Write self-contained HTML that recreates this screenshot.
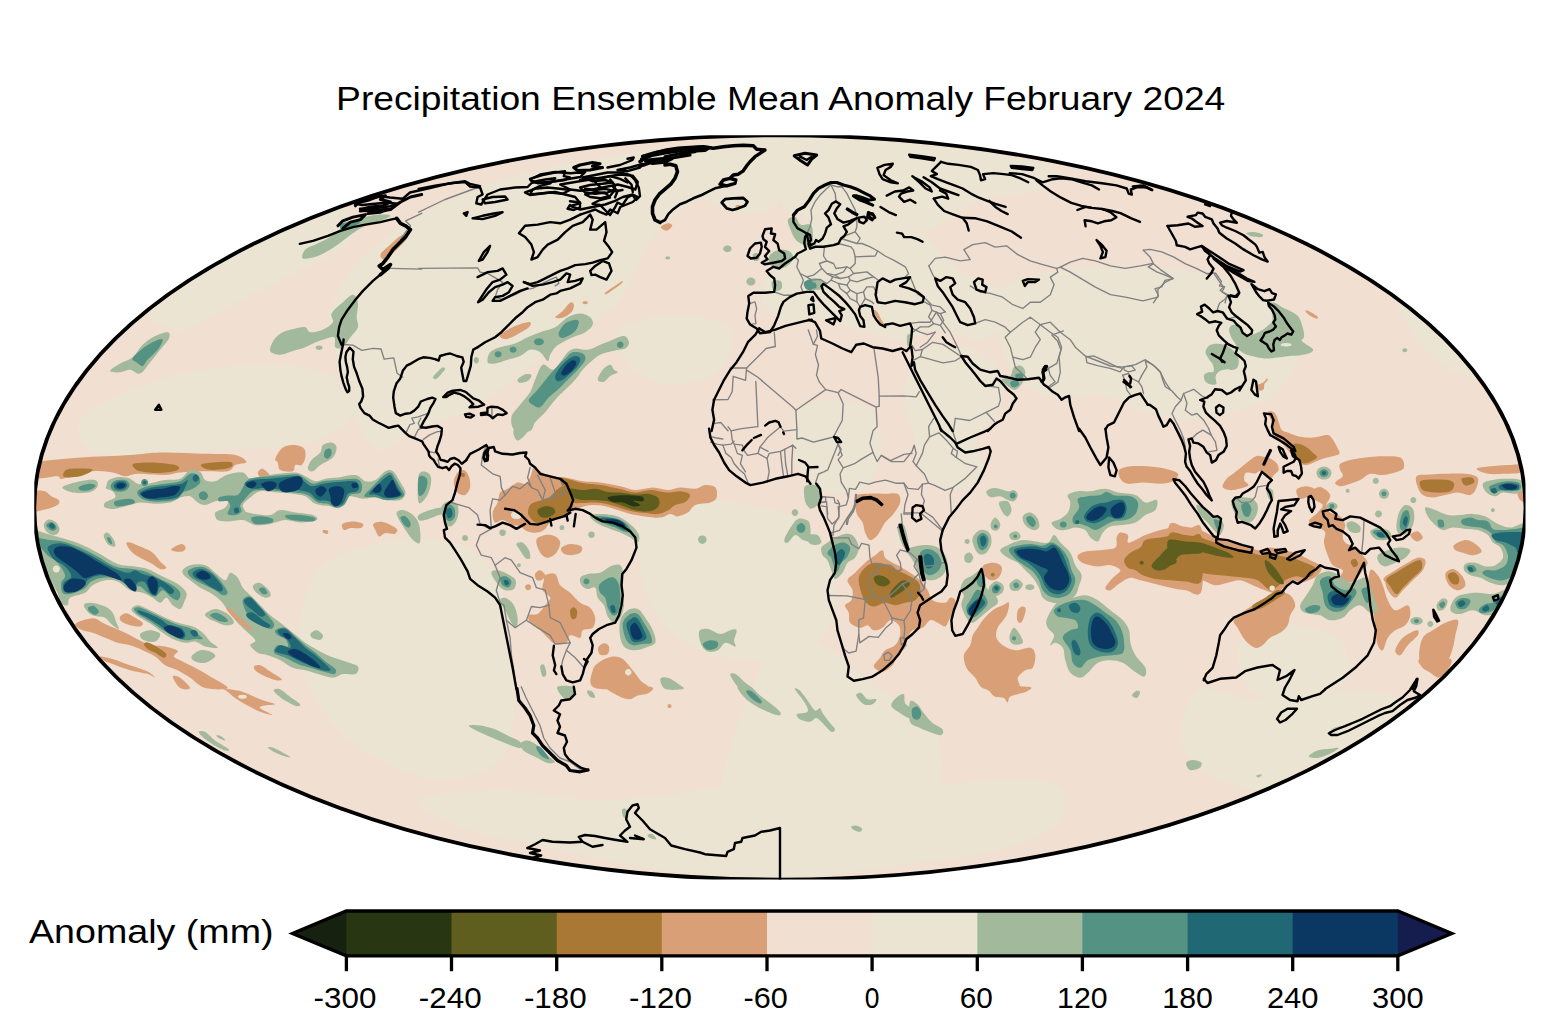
<!DOCTYPE html>
<html lang="en"><head><meta charset="utf-8"><title>Precipitation Ensemble Mean Anomaly February 2024</title>
<style>html,body{margin:0;padding:0;background:#fff;}svg{display:block}text{font-family:"Liberation Sans",sans-serif;fill:#000}</style></head><body>
<svg width="1560" height="1031" viewBox="0 0 1560 1031">
<rect width="1560" height="1031" fill="#fff"/>
<defs><clipPath id="globe"><ellipse cx="779.9" cy="507.45" rx="745.6" ry="372.15"/></clipPath></defs>
<g clip-path="url(#globe)">
<rect x="0" y="100" width="1560" height="800" fill="#f1dfd1"/>
<g fill="#ebe4d2">
<path d="M330 310C334.2 295 345 275.8 360 260C375 244.2 396.7 228.3 420 215C443.3 201.7 470 189.5 500 180C530 170.5 566.7 163.8 600 158C633.3 152.2 670 148.3 700 145C730 141.7 766.7 128.8 780 138C793.3 147.2 786.7 187.2 780 200C773.3 212.8 753.3 215 740 215C726.7 215 713.3 197.5 700 200C686.7 202.5 670 220 660 230C650 240 646.7 248.3 640 260C633.3 271.7 630 288.3 620 300C610 311.7 593.3 320 580 330C566.7 340 553.3 350 540 360C526.7 370 511.7 381.7 500 390C488.3 398.3 481.7 404.2 470 410C458.3 415.8 441.7 420 430 425C418.3 430 408.3 435.8 400 440C391.7 444.2 386.7 451.7 380 450C373.3 448.3 365.8 440 360 430C354.2 420 349.2 403.3 345 390C340.8 376.7 337.5 363.3 335 350C332.5 336.7 325.8 325 330 310Z"/>
<path d="M80 420C86.7 410 110 398.3 130 390C150 381.7 175 374.2 200 370C225 365.8 256.7 363.3 280 365C303.3 366.7 328.3 370.8 340 380C351.7 389.2 356.7 409.2 350 420C343.3 430.8 321.7 440 300 445C278.3 450 246.7 448.3 220 450C193.3 451.7 161.7 455 140 455C118.3 455 100 455.8 90 450C80 444.2 73.3 430 80 420Z"/>
<path d="M140 300C143.3 286.7 176.7 264.2 200 250C223.3 235.8 256.7 223.3 280 215C303.3 206.7 328.3 195.8 340 200C351.7 204.2 356.7 228.3 350 240C343.3 251.7 318.3 260 300 270C281.7 280 260 290 240 300C220 310 196.7 330 180 330C163.3 330 136.7 313.3 140 300Z"/>
<path d="M620 330C628.3 321.7 661.7 315 680 315C698.3 315 723.3 320.8 730 330C736.7 339.2 730 360.8 720 370C710 379.2 685 385.8 670 385C655 384.2 638.3 374.2 630 365C621.7 355.8 611.7 338.3 620 330Z"/>
<path d="M760 290C761.7 278.3 780 265 790 250C800 235 808.3 211.7 820 200C831.7 188.3 846.7 180 860 180C873.3 180 888.3 190 900 200C911.7 210 920 228.3 930 240C940 251.7 948.3 261.7 960 270C971.7 278.3 991.7 281.7 1000 290C1008.3 298.3 1013.3 311.7 1010 320C1006.7 328.3 991.7 338.3 980 340C968.3 341.7 953.3 330 940 330C926.7 330 913.3 340 900 340C886.7 340 873.3 333.3 860 330C846.7 326.7 833.3 321.7 820 320C806.7 318.3 790 325 780 320C770 315 758.3 301.7 760 290Z"/>
<path d="M1000 290C1010 278.3 1040 274.2 1060 270C1080 265.8 1100 265 1120 265C1140 265 1160 266.7 1180 270C1200 273.3 1221.7 278.3 1240 285C1258.3 291.7 1280 299.2 1290 310C1300 320.8 1301.7 336.7 1300 350C1298.3 363.3 1290 380 1280 390C1270 400 1255 405 1240 410C1225 415 1206.7 420 1190 420C1173.3 420 1155 414.2 1140 410C1125 405.8 1113.3 396.7 1100 395C1086.7 393.3 1073.3 402.5 1060 400C1046.7 397.5 1030 390 1020 380C1010 370 1003.3 355 1000 340C996.7 325 990 301.7 1000 290Z"/>
<path d="M915 355C924.2 345.8 945.8 342.5 960 345C974.2 347.5 993.3 359.2 1000 370C1006.7 380.8 1004.2 398.3 1000 410C995.8 421.7 977.5 430 975 440C972.5 450 987.5 461.7 985 470C982.5 478.3 970 488.3 960 490C950 491.7 932.5 488.3 925 480C917.5 471.7 918.3 453.3 915 440C911.7 426.7 905 414.2 905 400C905 385.8 905.8 364.2 915 355Z"/>
<path d="M797 410C804.5 400 827 399.2 840 400C853 400.8 868.3 405 875 415C881.7 425 882.5 447.5 880 460C877.5 472.5 870 485 860 490C850 495 830.8 495 820 490C809.2 485 798.8 473.3 795 460C791.2 446.7 789.5 420 797 410Z"/>
<path d="M1395 230C1403.3 226.7 1425.8 248.3 1440 260C1454.2 271.7 1468.3 285 1480 300C1491.7 315 1506.7 336.7 1510 350C1513.3 363.3 1510 376.7 1500 380C1490 383.3 1465 378.3 1450 370C1435 361.7 1420 345 1410 330C1400 315 1392.5 296.7 1390 280C1387.5 263.3 1386.7 233.3 1395 230Z"/>
<path d="M780 138C800 128.5 863.3 140.2 900 143C936.7 145.8 973.3 150.5 1000 155C1026.7 159.5 1053.3 164.2 1060 170C1066.7 175.8 1053.3 185 1040 190C1026.7 195 998.3 193.3 980 200C961.7 206.7 946.7 223.3 930 230C913.3 236.7 895 241.7 880 240C865 238.3 853.3 224.2 840 220C826.7 215.8 810 218.3 800 215C790 211.7 783.3 212.8 780 200C776.7 187.2 760 147.5 780 138Z"/>
<path d="M330 560C345.8 550 378.3 542.5 400 540C421.7 537.5 443.3 538.3 460 545C476.7 551.7 492.5 564.2 500 580C507.5 595.8 502.5 620 505 640C507.5 660 515.8 680 515 700C514.2 720 512.5 746.7 500 760C487.5 773.3 460 780 440 780C420 780 398.3 770 380 760C361.7 750 343.3 736.7 330 720C316.7 703.3 304.2 680 300 660C295.8 640 300 616.7 305 600C310 583.3 314.2 570 330 560Z"/>
<path d="M420 800C425 793.3 470 790 500 790C530 790 566.7 800 600 800C633.3 800 670 793.3 700 790C730 786.7 753.3 780 780 780C806.7 780 816.7 790 860 790C903.3 790 1006.7 775 1040 780C1073.3 785 1066.7 808.3 1060 820C1053.3 831.7 1026.7 842.5 1000 850C973.3 857.5 936.7 860.3 900 865C863.3 869.7 820 877.2 780 878C740 878.8 696.7 874.7 660 870C623.3 865.3 591.7 856.7 560 850C528.3 843.3 493.3 838.3 470 830C446.7 821.7 415 806.7 420 800Z"/>
<path d="M780 640C795 628.3 813.3 641.7 830 650C846.7 658.3 863.3 678.3 880 690C896.7 701.7 920 705 930 720C940 735 945 761.7 940 780C935 798.3 916.7 816.7 900 830C883.3 843.3 860 853.3 840 860C820 866.7 796.7 870 780 870C763.3 870 750 871.7 740 860C730 848.3 720 823.3 720 800C720 776.7 730 746.7 740 720C750 693.3 765 651.7 780 640Z"/>
<path d="M1200 690C1213.3 683.3 1238.3 700 1260 700C1281.7 700 1306.7 690 1330 690C1353.3 690 1391.7 690 1400 700C1408.3 710 1396.7 735 1380 750C1363.3 765 1326.7 785 1300 790C1273.3 795 1240 788.3 1220 780C1200 771.7 1183.3 755 1180 740C1176.7 725 1186.7 696.7 1200 690Z"/>
<path d="M1240 640C1246.7 629.2 1273.3 625 1290 625C1306.7 625 1330.8 630.8 1340 640C1349.2 649.2 1351.7 670 1345 680C1338.3 690 1315.8 698.3 1300 700C1284.2 701.7 1260 700 1250 690C1240 680 1233.3 650.8 1240 640Z"/>
<path d="M640 520C648.3 508.3 671.7 502.5 690 500C708.3 497.5 731.7 501.7 750 505C768.3 508.3 786.7 510.8 800 520C813.3 529.2 824.2 545 830 560C835.8 575 838.3 595 835 610C831.7 625 822.5 641.7 810 650C797.5 658.3 778.3 660 760 660C741.7 660 716.7 656.7 700 650C683.3 643.3 670 633.3 660 620C650 606.7 643.3 586.7 640 570C636.7 553.3 631.7 531.7 640 520Z"/>
</g>
<path fill="#d9a078" d="M40 461.3C47.5 460.7 65 458.6 80.1 457.5C95.1 456.5 116.8 455.9 130.1 455C143.5 454.2 147.6 452.7 160.2 452.5C172.7 452.3 192.7 453.4 205.2 453.8C217.7 454.2 228.4 453.7 235.3 455C242.1 456.4 246.5 460.4 246.5 462C246.5 463.7 238.4 463.5 235.3 465C232.1 466.6 233.2 470.3 227.7 471.3C222.3 472.3 210.6 471.1 202.7 471.3C194.8 471.5 186.4 471.9 180.2 472.6C173.9 473.2 172.3 474.8 165.2 475.1C158.1 475.3 144.3 473.6 137.6 473.8C131 474 129.3 476.5 125.1 476.3C120.9 476.1 118 473.4 112.6 472.6C107.2 471.7 100.9 470.3 92.6 471.3C84.2 472.3 68.4 478 62.5 478.8C56.7 479.6 62.1 476.5 57.5 476.3C52.9 476.1 38.8 480.1 35 477.6C31.3 475.1 34.2 464 35 461.3C35.8 458.6 32.5 461.9 40 461.3Z"/>
<path fill="#d9a078" d="M282.8 447.5C286.2 445.2 291.8 444.8 295.3 445C298.9 445.2 302.4 446.7 304.1 448.8C305.8 450.9 305.8 454.8 305.3 457.5C304.9 460.2 303.3 463.8 301.6 465C299.9 466.3 296.8 464 295.3 465C293.9 466.1 295.3 470.5 292.8 471.3C290.3 472.1 282.8 471.5 280.3 470.1C277.8 468.6 278.6 464.4 277.8 462.5C277 460.7 274.5 461.3 275.3 458.8C276.1 456.3 279.5 449.8 282.8 447.5Z"/>
<path fill="#d9a078" d="M257.8 472.6C258 471 260.7 468.2 262.8 468.8C264.9 469.4 270.5 474.8 270.3 476.3C270.1 477.9 263.6 478.7 261.5 478.1C259.5 477.4 257.6 474.1 257.8 472.6Z"/>
<path fill="#d9a078" d="M33.8 492.6C35.6 489.4 42.1 490.7 45 491.3C47.9 492 49 494.9 51.3 496.3C53.6 497.8 57.7 498.6 58.8 500.1C59.8 501.5 59.8 503.5 57.5 505.1C55.2 506.7 49 508.8 45 509.6C41.1 510.4 35.6 512.9 33.8 510.1C31.9 507.3 31.9 495.7 33.8 492.6Z"/>
<path fill="#a2b99c" d="M322.9 445C324.7 443.4 329.3 442.1 331.6 442.5C333.9 442.9 336.4 445 336.6 447.5C336.8 450 335.6 454.6 332.9 457.5C330.2 460.5 323.7 462.7 320.4 465C317 467.3 314.9 470.7 312.9 471.3C310.8 471.9 308.1 470.7 307.8 468.8C307.6 466.9 309.5 462.7 311.6 460C313.7 457.3 318.5 455 320.4 452.5C322.2 450 321 446.7 322.9 445Z"/>
<path fill="#a2b99c" d="M62.5 487.1C63.8 485.2 74.6 482.5 80.1 481.3C85.5 480.1 92.2 479.2 95.1 480.1C98 480.9 98.4 484.3 97.6 486.3C96.8 488.3 94.2 491 90.1 492.1C85.9 493.1 77.1 493.4 72.6 492.6C68 491.7 61.3 488.9 62.5 487.1Z"/>
<path fill="#a2b99c" d="M106.3 486.3C106.8 484.9 106.6 481.6 108.8 480.1C111.1 478.5 116.6 477.3 120.1 477.1C123.7 476.9 127.2 477.7 130.1 478.8C133 479.9 134.7 483 137.6 483.8C140.6 484.7 143.1 484.4 147.6 483.8C152.2 483.2 159.7 480.9 165.2 480.1C170.6 479.2 176 480.5 180.2 478.8C184.4 477.1 186.9 471.2 190.2 470.1C193.5 468.9 197.7 470.4 200.2 472.1C202.7 473.7 202.7 478.5 205.2 480.1C207.7 481.6 211.5 482.2 215.2 481.3C219 480.4 223.2 476 227.7 474.6C232.3 473.1 239 471.8 242.8 472.6C246.5 473.3 246.9 478.2 250.3 478.8C253.6 479.4 258.2 477.1 262.8 476.3C267.4 475.5 272.4 474.4 277.8 473.8C283.2 473.2 290.7 472.1 295.3 472.6C299.9 473 302 474.8 305.3 476.3C308.7 477.8 312 480.9 315.4 481.3C318.7 481.7 321.6 479.4 325.4 478.8C329.1 478.2 332.9 478.2 337.9 477.6C342.9 476.9 350.8 474.4 355.4 475.1C360 475.7 362.1 480.5 365.4 481.3C368.8 482.1 372.1 481.7 375.4 480.1C378.8 478.4 382.5 472.8 385.4 471.3C388.4 469.8 390.5 469.4 393 471.3C395.5 473.2 398.4 479 400.5 482.6C402.5 486.1 405.5 489.7 405.5 492.6C405.5 495.5 403.8 498.8 400.5 500.1C397.1 501.3 389.6 500.5 385.4 500.1C381.3 499.7 379.2 497.8 375.4 497.6C371.7 497.4 367.5 499 362.9 498.8C358.3 498.6 351.7 494.9 347.9 496.3C344.1 497.8 343.3 505.9 340.4 507.6C337.5 509.3 334.5 507 330.4 506.3C326.2 505.7 319.5 505.5 315.4 503.8C311.2 502.2 309.1 498 305.3 496.3C301.6 494.7 297.4 494.5 292.8 493.8C288.2 493.2 283.2 493 277.8 492.6C272.4 492.2 264.9 490.5 260.3 491.3C255.7 492.2 253.2 495.3 250.3 497.6C247.4 499.9 243.6 502.6 242.8 505.1C241.9 507.6 246.1 510.5 245.3 512.6C244.4 514.7 240.7 516.4 237.8 517.6C234.8 518.9 231.1 519.9 227.7 520.1C224.4 520.3 219.8 520.1 217.7 518.9C215.6 517.6 214 514.5 215.2 512.6C216.5 510.7 223.2 509.7 225.2 507.6C227.3 505.5 229.4 501.1 227.7 500.1C226.1 499 219 500.5 215.2 501.3C211.5 502.2 208.1 504.9 205.2 505.1C202.3 505.3 200.2 504.1 197.7 502.6C195.2 501.1 193.1 497.2 190.2 496.3C187.3 495.5 183.5 496.5 180.2 497.6C176.9 498.6 174.3 501.5 170.2 502.6C166 503.6 160.2 503.8 155.2 503.8C150.2 503.8 144.3 502.4 140.1 502.6C136 502.8 134.3 504.1 130.1 505.1C126 506.1 119.3 508.4 115.1 508.8C110.9 509.3 106.8 508.6 105.1 507.6C103.4 506.6 103.4 504.3 105.1 502.6C106.8 500.9 113.9 499.5 115.1 497.6C116.4 495.7 114.1 492.8 112.6 491.3C111.1 489.9 107.4 489.7 106.3 488.8C105.3 488 105.9 487.8 106.3 486.3Z"/>
<path fill="#a2b99c" d="M216.5 515.1C218.2 513.4 223.4 510.7 227.7 510.1C232.1 509.5 238.2 510.7 242.8 511.4C247.4 512 250.7 513.2 255.3 513.9C259.9 514.5 266.1 515.7 270.3 515.1C274.5 514.5 276.1 510.5 280.3 510.1C284.5 509.7 289.9 511.8 295.3 512.6C300.8 513.4 309.3 513.9 312.9 515.1C316.4 516.4 318.7 518.9 316.6 520.1C314.5 521.4 305.6 522.6 300.3 522.6C295.1 522.6 290.3 519.9 285.3 520.1C280.3 520.3 275.3 523 270.3 523.9C265.3 524.7 259.9 525.7 255.3 525.1C250.7 524.5 247.4 520.7 242.8 520.1C238.2 519.5 231.9 521.4 227.7 521.4C223.6 521.4 219.6 521.2 217.7 520.1C215.9 519.1 214.8 516.8 216.5 515.1Z"/>
<path fill="#a2b99c" d="M32.5 531.4C35 528.7 42.9 532.8 47.5 533.9C52.1 534.9 54.6 536 60 537.6C65.5 539.3 73.4 541.2 80.1 543.9C86.7 546.6 93.8 550.6 100.1 553.9C106.3 557.2 111.8 561.8 117.6 563.9C123.5 566 130.1 565.6 135.1 566.4C140.1 567.3 143.1 567.3 147.6 568.9C152.2 570.6 157.7 573.9 162.7 576.4C167.7 578.9 173.7 581.2 177.7 583.9C181.6 586.7 185.4 589.6 186.4 592.7C187.5 595.8 185 600 183.9 602.7C182.9 605.4 182.1 608.6 180.2 609C178.3 609.4 175 607.1 172.7 605.2C170.4 603.3 168.5 598.1 166.4 597.7C164.3 597.3 162.5 602.7 160.2 602.7C157.9 602.7 155.6 599.4 152.7 597.7C149.7 596 146.4 594 142.6 592.7C138.9 591.5 134.3 592.1 130.1 590.2C126 588.3 121.8 583.1 117.6 581.4C113.4 579.8 109.3 579.6 105.1 580.2C100.9 580.8 95.9 583.1 92.6 585.2C89.2 587.3 88.8 590.6 85.1 592.7C81.3 594.8 73 595.6 70.1 597.7C67.1 599.8 69.2 604.4 67.5 605.2C65.9 606.1 61.7 604.8 60 602.7C58.4 600.6 60 598.1 57.5 592.7C55 587.3 49.2 577.3 45 570.2C40.8 563.1 34.6 556.6 32.5 550.2C30.4 543.7 30 534.1 32.5 531.4Z"/>
<path fill="#a2b99c" d="M43.8 525.1C44 522.9 46.7 520 48.8 519.6C50.9 519.2 54.5 520.9 56.3 522.6C58.1 524.4 59.7 528 59.5 530.1C59.3 532.2 57 534.7 55 535.1C53 535.5 49.4 534.3 47.5 532.6C45.6 531 43.6 527.3 43.8 525.1Z"/>
<path fill="#a2b99c" d="M103.8 535.1C104.3 533.9 105.9 531.8 107.6 532.6C109.3 533.5 112.6 537.8 113.9 540.1C115.1 542.4 115.9 545.6 115.1 546.4C114.3 547.2 110.5 546.2 108.8 545.1C107.2 544.1 105.9 541.8 105.1 540.1C104.3 538.5 103.4 536.4 103.8 535.1Z"/>
<path fill="#d9a078" d="M126.4 543.9C126 542.2 127.4 542 130.1 542.6C132.8 543.3 138.9 546 142.6 547.6C146.4 549.3 149.7 550.4 152.7 552.7C155.6 554.9 157.9 558.9 160.2 561.4C162.5 563.9 166.4 566.4 166.4 567.7C166.4 568.9 162.9 569.8 160.2 568.9C157.5 568.1 153.5 564.5 150.2 562.7C146.8 560.8 143.1 559.3 140.1 557.7C137.2 556 134.9 554.9 132.6 552.7C130.3 550.4 126.8 545.6 126.4 543.9Z"/>
<path fill="#d9a078" d="M171.4 548.9C172.5 547.6 179.1 544.1 181.4 543.9C183.8 543.7 185.5 546.4 185.7 547.6C185.9 548.9 184.4 550.8 182.7 551.4C180.9 552 177.1 551.8 175.2 551.4C173.3 551 170.4 550.2 171.4 548.9Z"/>
<path fill="#a2b99c" d="M83.8 605.2C84 603.3 87.8 602.5 91.3 602.7C94.9 602.9 101.5 604.8 105.1 606.5C108.6 608.1 110.7 610 112.6 612.7C114.5 615.4 115.3 620 116.4 622.7C117.4 625.5 119.5 628.6 118.9 629C118.2 629.4 114.9 627.1 112.6 625.2C110.3 623.4 107.6 619.2 105.1 617.7C102.6 616.3 100.1 617.1 97.6 616.5C95.1 615.9 92.4 615.9 90.1 614C87.8 612.1 83.6 607.1 83.8 605.2Z"/>
<path fill="#a2b99c" d="M131.4 609C131.8 607.5 134.9 605.2 137.6 605.2C140.3 605.2 143.5 607.1 147.6 609C151.8 610.9 157.7 614.2 162.7 616.5C167.7 618.8 172.7 621.1 177.7 622.7C182.7 624.4 188.5 624.8 192.7 626.5C196.9 628.2 199.8 630.3 202.7 632.8C205.6 635.3 207.7 639 210.2 641.5C212.7 644 218.6 646.9 217.7 647.8C216.9 648.6 209 647.6 205.2 646.5C201.5 645.5 198.5 642.1 195.2 641.5C191.9 640.9 188.9 643.2 185.2 642.8C181.4 642.3 176.4 640.7 172.7 639C168.9 637.3 166 635 162.7 632.8C159.3 630.5 156 627.5 152.7 625.2C149.3 622.9 145.6 620.9 142.6 619C139.7 617.1 137 615.6 135.1 614C133.3 612.3 131 610.4 131.4 609Z"/>
<path fill="#a2b99c" d="M140.1 634C141.2 632.3 146.8 630.3 150.2 630.3C153.5 630.3 159.3 632.1 160.2 634C161 635.9 157.9 640.5 155.2 641.5C152.4 642.6 146.4 641.5 143.9 640.3C141.4 639 139.1 635.7 140.1 634Z"/>
<path fill="#a2b99c" d="M191.5 656.5C192.3 654.7 197.1 651.1 200.2 650.3C203.3 649.4 207.7 650.5 210.2 651.5C212.7 652.6 216.1 654.7 215.2 656.5C214.4 658.4 208.6 662 205.2 662.8C201.9 663.6 197.5 662.6 195.2 661.5C192.9 660.5 190.6 658.4 191.5 656.5Z"/>
<path fill="#a2b99c" d="M205.2 614C206.4 612.4 211.5 609 215.2 609C219 609 224.6 611.7 227.7 614C230.9 616.3 234.4 620.9 234 622.7C233.6 624.6 228.4 625.5 225.2 625.2C222.1 625 218.1 622.7 215.2 621.5C212.4 620.3 209.9 619.5 208.2 618.2C206.6 617 204.1 615.5 205.2 614Z"/>
<path fill="#a2b99c" d="M182.7 570.2C183.7 568.5 186.4 566 190.2 565.2C194 564.3 201 563.9 205.2 565.2C209.4 566.4 211.9 570.2 215.2 572.7C218.6 575.2 222.7 580.2 225.2 580.2C227.7 580.2 228.2 573.1 230.3 572.7C232.3 572.3 235.7 575.2 237.8 577.7C239.8 580.2 240.7 584.8 242.8 587.7C244.9 590.6 247.4 592.3 250.3 595.2C253.2 598.1 257 601.9 260.3 605.2C263.6 608.6 267 612.3 270.3 615.2C273.6 618.2 276.6 619.8 280.3 622.7C284.1 625.7 288.7 629.4 292.8 632.8C297 636.1 301.2 639.8 305.3 642.8C309.5 645.7 313.7 648 317.9 650.3C322 652.6 325.8 654.7 330.4 656.5C335 658.4 340.8 659.9 345.4 661.5C350 663.2 356.2 664.5 357.9 666.5C359.6 668.6 357.9 672.8 355.4 674.1C352.9 675.3 346.6 673.4 342.9 674.1C339.1 674.7 337.1 677.8 332.9 677.8C328.7 677.8 322.4 675.3 317.9 674.1C313.3 672.8 309.5 671.3 305.3 670.3C301.2 669.3 297 669.5 292.8 667.8C288.7 666.1 284.5 662.4 280.3 660.3C276.1 658.2 271.6 656.5 267.8 655.3C264 654 260.7 654.4 257.8 652.8C254.9 651.1 250.7 647.4 250.3 645.3C249.9 643.2 256.1 642.8 255.3 640.3C254.4 637.8 248.6 633.6 245.3 630.3C241.9 626.9 238.2 623.6 235.3 620.2C232.3 616.9 230.3 613.6 227.7 610.2C225.2 606.9 223.2 603.1 220.2 600.2C217.3 597.3 213.6 594.8 210.2 592.7C206.9 590.6 203.6 589.8 200.2 587.7C196.9 585.6 192.9 582.3 190.2 580.2C187.5 578.1 185.2 576.9 183.9 575.2C182.7 573.5 181.6 571.8 182.7 570.2Z"/>
<path fill="#a2b99c" d="M252.8 586.4C253.2 584.8 256.5 582.3 259 582.7C261.5 583.1 265.8 586.9 267.8 588.9C269.8 591 271.2 593.7 270.8 595.2C270.4 596.7 267.7 598.1 265.3 597.7C262.9 597.3 258.6 594.6 256.5 592.7C254.4 590.8 252.4 588.1 252.8 586.4Z"/>
<path fill="#a2b99c" d="M310.4 634C311 632.7 314.5 630 316.6 630.3C318.7 630.5 322.2 633.7 322.9 635.3C323.5 636.8 322 639.3 320.4 639.8C318.7 640.3 314.5 639.2 312.9 638.3C311.2 637.3 309.7 635.3 310.4 634Z"/>
<path fill="#d9a078" d="M75.1 624C76.7 622 87.6 618.2 92.6 618.2C97.6 618.2 99.7 621.6 105.1 624C110.5 626.4 118 629.4 125.1 632.8C132.2 636.1 141 641.7 147.6 644C154.3 646.3 160.2 645.4 165.2 646.5C170.2 647.6 176.2 649.1 177.7 650.8C179.1 652.4 173.1 654.7 173.9 656.5C174.8 658.3 179.1 659.7 182.7 661.5C186.2 663.4 190.6 665.3 195.2 667.8C199.8 670.3 204.8 673.2 210.2 676.6C215.6 679.9 228.6 686.2 227.7 688.1C226.9 690 211.5 689.8 205.2 688.1C199 686.4 194.8 680.8 190.2 677.8C185.6 674.8 181.9 672.4 177.7 670.3C173.5 668.2 168.9 667.6 165.2 665.3C161.4 663 158.9 659 155.2 656.5C151.4 654 146.8 652.2 142.6 650.3C138.5 648.4 134.3 646.5 130.1 645.3C126 644 121.8 644 117.6 642.8C113.4 641.5 109.3 639.4 105.1 637.8C100.9 636.1 96.3 634 92.6 632.8C88.8 631.5 85.5 631.7 82.6 630.3C79.6 628.8 73.4 626 75.1 624Z"/>
<path fill="#d9a078" d="M100.1 656.5C101.8 656.3 107.6 657.6 112.6 659C117.6 660.5 124.3 663.2 130.1 665.3C136 667.4 143.5 669.5 147.6 671.6C151.8 673.6 155.2 677.4 155.2 677.8C155.2 678.2 151.8 675.3 147.6 674.1C143.5 672.8 136 672 130.1 670.3C124.3 668.6 117.2 665.7 112.6 664C108 662.4 104.7 661.5 102.6 660.3C100.5 659 98.4 656.7 100.1 656.5Z"/>
<path fill="#d9a078" d="M172.7 676.6C172.7 674.8 177.3 675.9 180.2 677.8C183.1 679.7 190.2 686.4 190.2 688.1C190.2 689.8 183.1 690 180.2 688.1C177.3 686.2 172.7 678.3 172.7 676.6Z"/>
<path fill="#d9a078" d="M120.1 616.5C120.9 615.1 123.9 613 126.4 613.2C128.9 613.4 132.4 616.1 135.1 617.7C137.8 619.3 141.8 621.3 142.6 622.7C143.5 624.2 142.2 626.1 140.1 626.5C138.1 626.9 133.3 626.1 130.1 625.2C127 624.4 123 622.9 121.4 621.5C119.7 620 119.3 617.9 120.1 616.5Z"/>
<path fill="#d9a078" d="M226.5 608.2C226.7 607.6 227.5 607 230.3 609C233 611 239 616.9 242.8 620.2C246.5 623.6 251.9 627.5 252.8 629C253.6 630.5 250.3 630.3 247.8 629C245.3 627.7 240.9 624.2 237.8 621.5C234.6 618.8 230.9 614.9 229 612.7C227.1 610.5 226.3 608.8 226.5 608.2Z"/>
<path fill="#d9a078" d="M254 666.5C254.7 665.5 257.6 664.5 260.3 665.3C263 666.1 266.8 669.3 270.3 671.6C273.8 673.8 280.5 677.6 281.6 679.1C282.6 680.5 279.3 680.7 276.6 680.3C273.8 679.9 268.6 678 265.3 676.6C262 675.1 258.4 673.2 256.5 671.6C254.7 669.9 253.4 667.6 254 666.5Z"/>
<path fill="#d9a078" d="M342.4 523.9C343.9 522.4 349.5 521.4 352.9 521.4C356.3 521.4 361.7 522.7 362.9 523.9C364.2 525 362.5 527.4 360.4 528.1C358.3 528.8 353.1 527.8 350.4 528.1C347.7 528.5 345.5 530.8 344.1 530.1C342.8 529.4 340.9 525.3 342.4 523.9Z"/>
<path fill="#d9a078" d="M373.4 523.9C374.7 522.5 379.1 521.3 382.9 522.1C386.8 522.9 394.8 526.9 396.7 528.9C398.6 530.8 396.1 533.2 394.2 533.9C392.3 534.6 387.9 532.7 385.4 533.1C382.9 533.5 380.9 536.9 379.2 536.4C377.5 535.9 376.4 532.2 375.4 530.1C374.5 528 372.2 525.2 373.4 523.9Z"/>
<path fill="#d9a078" d="M322.9 530.1C323.6 529.7 327.1 530 327.9 530.6C328.6 531.3 328.1 533.5 327.4 533.9C326.6 534.3 324.1 533.8 323.4 533.1C322.6 532.5 322.1 530.5 322.9 530.1Z"/>
<path fill="#a2b99c" d="M396.7 512.6C397.3 510.9 400.3 509.7 403 510.1C405.7 510.5 410.3 512.6 413 515.1C415.7 517.6 418.1 520.5 419.2 525.1C420.4 529.7 421 540.1 420 542.6C418.9 545.1 415.4 542.2 413 540.1C410.6 538.1 407.8 533.5 405.5 530.1C403.2 526.8 400.7 523 399.2 520.1C397.8 517.2 396.1 514.3 396.7 512.6Z"/>
<path fill="#d9a078" d="M533.9 467.5C535.6 466.5 537.4 469.8 540.2 471.3C542.9 472.8 546 475.3 550.2 476.3C554.3 477.4 559.8 476.7 565.2 477.6C570.6 478.4 576.9 480.5 582.7 481.3C588.5 482.1 594 481.7 600.2 482.6C606.5 483.4 614.4 485.1 620.3 486.3C626.1 487.6 629.8 489.9 635.3 490.1C640.7 490.3 647.4 487.6 652.8 487.6C658.2 487.6 663.2 490.1 667.8 490.1C672.4 490.1 675.7 487.8 680.3 487.6C684.9 487.4 691.2 489.2 695.3 488.8C699.5 488.4 702 485.3 705.4 485.1C708.7 484.9 713.5 485.5 715.4 487.6C717.2 489.7 717.5 495.1 716.6 497.6C715.8 500.1 713.9 501.3 710.4 502.6C706.8 503.8 699.1 503.4 695.3 505.1C691.6 506.8 690.8 510.7 687.8 512.6C684.9 514.5 680.7 516.1 677.8 516.4C674.9 516.6 673.2 513.6 670.3 513.9C667.4 514.1 664.5 517.2 660.3 517.6C656.1 518 650.3 517 645.3 516.4C640.3 515.7 634.9 514.9 630.3 513.9C625.7 512.8 621.9 511.4 617.7 510.1C613.6 508.8 609.4 507.2 605.2 506.3C601.1 505.5 596.9 504.9 592.7 505.1C588.5 505.3 584 506.3 580.2 507.6C576.4 508.8 573.5 510.9 570.2 512.6C566.9 514.3 563.5 515.9 560.2 517.6C556.8 519.3 552.7 520.7 550.2 522.6C547.7 524.5 547.2 527.2 545.2 528.9C543.1 530.5 540.6 532.2 537.6 532.6C534.7 533 530.6 532.4 527.6 531.4C524.7 530.3 522.6 527.4 520.1 526.4C517.6 525.3 515.5 526.2 512.6 525.1C509.7 524.1 505.5 520.5 502.6 520.1C499.7 519.7 496.8 523.9 495.1 522.6C493.4 521.4 492.2 515.9 492.6 512.6C493 509.3 496.3 505.9 497.6 502.6C498.8 499.3 498.4 494.9 500.1 492.6C501.8 490.3 504.7 490.5 507.6 488.8C510.5 487.2 514.7 483.4 517.6 482.6C520.5 481.7 523 484.7 525.1 483.8C527.2 483 528.7 480.3 530.1 477.6C531.6 474.8 532.2 468.6 533.9 467.5Z"/>
<path fill="#d9a078" d="M453.8 482.6C453.8 479.2 455.9 474.6 457.5 472.6C459.2 470.5 461.9 469.4 463.8 470.1C465.7 470.7 467.8 473.4 468.8 476.3C469.9 479.2 470.7 484.4 470.1 487.6C469.4 490.7 467.1 494.2 465.1 495.1C463 495.9 459.4 494.7 457.5 492.6C455.7 490.5 453.8 485.9 453.8 482.6Z"/>
<path fill="#d9a078" d="M536.4 540.1C537.2 537.2 542 535.8 545.2 535.1C548.3 534.5 552.7 535.1 555.2 536.4C557.7 537.6 560 539.9 560.2 542.6C560.4 545.4 558.5 550.2 556.4 552.7C554.3 555.2 550.4 557.7 547.7 557.7C544.9 557.7 542 555.6 540.2 552.7C538.3 549.7 535.6 543.1 536.4 540.1Z"/>
<path fill="#d9a078" d="M561.4 547.6C562.7 546.2 566.9 544.1 570.2 543.9C573.5 543.7 579.8 544.9 581.5 546.4C583.1 547.9 582.1 551.2 580.2 552.7C578.3 554.1 573.1 555.2 570.2 555.2C567.3 555.2 564.1 553.9 562.7 552.7C561.2 551.4 560.2 549.1 561.4 547.6Z"/>
<path fill="#d9a078" d="M535.1 573.9C535.8 572.3 538.5 570 540.2 570.2C541.8 570.4 544.9 573.5 545.2 575.2C545.4 576.9 542.9 579.4 541.4 580.2C539.9 580.9 537.4 580.7 536.4 579.7C535.4 578.6 534.5 575.5 535.1 573.9Z"/>
<path fill="#d9a078" d="M545.2 575.2C547 574.1 552.7 572.3 555.2 573.9C557.7 575.6 557.7 582.1 560.2 585.2C562.7 588.3 566.9 589.8 570.2 592.7C573.5 595.6 576.9 600.2 580.2 602.7C583.5 605.2 587.7 605.2 590.2 607.7C592.7 610.2 594.8 614.4 595.2 617.7C595.6 621.1 594.8 625.7 592.7 627.7C590.6 629.8 584.8 628.6 582.7 630.3C580.6 631.9 582.3 636.9 580.2 637.8C578.1 638.6 572.5 634.4 570.2 635.3C567.9 636.1 568.9 641.3 566.4 642.8C563.9 644.2 558.3 644.9 555.2 644C552 643.2 550.2 640.1 547.7 637.8C545.2 635.5 543.1 632.8 540.2 630.3C537.2 627.7 532 625.2 530.1 622.7C528.3 620.2 527.6 616.7 528.9 615.2C530.1 613.8 534.9 615.6 537.6 614C540.4 612.3 543.1 607.9 545.2 605.2C547.2 602.5 550.6 600.2 550.2 597.7C549.7 595.2 543.7 593.1 542.7 590.2C541.6 587.3 543.5 582.7 543.9 580.2C544.3 577.7 543.3 576.2 545.2 575.2Z"/>
<path fill="#d9a078" d="M531.1 587.2C531.1 587.9 530.8 588.8 530.3 589.3C529.8 589.8 528.8 590.2 528.1 590.2C527.4 590.2 526.5 589.8 526 589.3C525.5 588.8 525.1 587.9 525.1 587.2C525.1 586.5 525.5 585.6 526 585.1C526.5 584.6 527.4 584.2 528.1 584.2C528.8 584.2 529.8 584.6 530.3 585.1C530.8 585.6 531.1 586.5 531.1 587.2Z"/>
<path fill="#d9a078" d="M592.7 670.3C593.6 665.9 596.9 663.8 600.2 661.5C603.6 659.2 609 657 612.7 656.5C616.5 656.1 619.4 656.7 622.8 659C626.1 661.3 629.8 666.8 632.8 670.3C635.7 673.8 638.2 677.4 640.3 680.3C642.4 683.3 652.8 686.8 645.3 688.1C637.8 689.4 604 691 595.2 688.1C586.5 685.1 591.9 674.7 592.7 670.3Z"/>
<path fill="#d9a078" d="M598.2 647.8C598.8 645.9 602.2 643.5 604 643.3C605.8 643.1 608.4 644.7 609 646.5C609.6 648.3 609.2 652.7 607.7 654C606.3 655.4 601.8 655.8 600.2 654.8C598.6 653.7 597.6 649.7 598.2 647.8Z"/>
<path fill="#a2b99c" d="M590.2 515.1C591.5 514.1 596.5 513.9 600.2 513.9C604 513.9 609 514.3 612.7 515.1C616.5 515.9 619.4 517 622.8 518.9C626.1 520.7 630.1 523.7 632.8 526.4C635.5 529.1 638.2 532.4 639 535.1C639.9 537.8 639.2 542.2 637.8 542.6C636.3 543.1 633.2 539.3 630.3 537.6C627.3 536 623.6 534.1 620.3 532.6C616.9 531.2 613.6 530.1 610.2 528.9C606.9 527.6 603.1 526.6 600.2 525.1C597.3 523.7 594.4 521.8 592.7 520.1C591 518.4 589 516.1 590.2 515.1Z"/>
<path fill="#a2b99c" d="M580.2 577.7C581.2 575.8 584.4 574.8 587.7 573.9C591 573.1 596.5 573.9 600.2 572.7C604 571.4 606.9 567.7 610.2 566.4C613.6 565.2 618.1 563.7 620.3 565.2C622.4 566.6 622.8 571 623.3 575.2C623.7 579.4 622.6 585.2 622.8 590.2C622.9 595.2 624.4 600.6 624 605.2C623.6 609.8 621.9 614.8 620.3 617.7C618.6 620.7 616.1 622.9 614 622.7C611.9 622.5 609.4 619.4 607.7 616.5C606.1 613.6 605.6 608.3 604 605.2C602.3 602.1 599.2 600.6 597.7 597.7C596.3 594.8 596.9 589.2 595.2 587.7C593.6 586.2 590 589.4 587.7 588.9C585.4 588.5 582.7 587.1 581.5 585.2C580.2 583.3 579.2 579.6 580.2 577.7Z"/>
<path fill="#a2b99c" d="M620.3 620.2C621.5 615.6 624.8 612.1 627.8 610.2C630.7 608.3 634.9 607.7 637.8 609C640.7 610.2 642.8 614.2 645.3 617.7C647.8 621.3 651.1 626.1 652.8 630.3C654.5 634.4 656.5 639.8 655.3 642.8C654 645.7 648.6 646.5 645.3 647.8C641.9 649 638.6 650.3 635.3 650.3C631.9 650.3 627.8 649.9 625.3 647.8C622.8 645.7 621.1 642.3 620.3 637.8C619.4 633.2 619 624.8 620.3 620.2Z"/>
<path fill="#a2b99c" d="M491.3 572.7C491.3 570.4 494.9 570 497.6 570.2C500.3 570.4 504.6 572.3 507.6 573.9C510.6 575.6 514.6 577.7 515.6 580.2C516.7 582.7 515.6 587.3 513.9 588.9C512.1 590.6 507.8 591 505.1 590.2C502.4 589.4 499.9 586.9 497.6 583.9C495.3 581 491.3 575 491.3 572.7Z"/>
<path fill="#a2b99c" d="M441.3 507.6C441.9 504.1 446.1 501.8 448.8 501.3C451.5 500.9 456.1 502.4 457.5 505.1C459 507.8 458.6 514.1 457.5 517.6C456.5 521.2 453.4 525.5 451.3 526.4C449.2 527.2 446.7 525.7 445 522.6C443.4 519.5 440.7 511.1 441.3 507.6Z"/>
<path fill="#a2b99c" d="M418.7 475.1C420.2 470.1 425.4 471.7 427.5 472.6C429.6 473.4 431.3 476.3 431.3 480.1C431.3 483.8 429.6 491.3 427.5 495.1C425.4 498.8 420.2 505.9 418.7 502.6C417.3 499.3 417.3 480.1 418.7 475.1Z"/>
<path fill="#a2b99c" d="M418.7 515.1C420.6 513.4 426 511.4 430 510.1C434 508.8 440 507.2 442.5 507.6C445 508 446.3 511.1 445 512.6C443.8 514.1 438.4 515.1 435 516.4C431.7 517.6 427.7 519.5 425 520.1C422.3 520.7 419.8 520.9 418.7 520.1C417.7 519.3 416.9 516.8 418.7 515.1Z"/>
<path fill="#a2b99c" d="M500.1 600.2C500.1 597.8 504.1 597.4 506.4 598.2C508.7 599 512 602 513.9 605.2C515.7 608.5 517.2 614 517.6 617.7C518 621.5 517.4 626.9 516.4 627.7C515.3 628.6 513 625.2 511.4 622.7C509.7 620.2 508.2 616.5 506.4 612.7C504.5 609 500.1 602.6 500.1 600.2Z"/>
<path fill="#a2b99c" d="M594.7 534.6C594.7 535.4 594.3 536.4 593.8 536.9C593.2 537.5 592.2 537.9 591.5 537.9C590.7 537.9 589.7 537.5 589.2 536.9C588.6 536.4 588.2 535.4 588.2 534.6C588.2 533.9 588.6 532.9 589.2 532.3C589.7 531.8 590.7 531.4 591.5 531.4C592.2 531.4 593.2 531.8 593.8 532.3C594.3 532.9 594.7 533.9 594.7 534.6Z"/>
<path fill="#a2b99c" d="M564.4 527.6C564.4 528.2 564.1 529 563.7 529.4C563.3 529.8 562.5 530.1 561.9 530.1C561.3 530.1 560.6 529.8 560.2 529.4C559.7 529 559.4 528.2 559.4 527.6C559.4 527 559.7 526.3 560.2 525.9C560.6 525.4 561.3 525.1 561.9 525.1C562.5 525.1 563.3 525.4 563.7 525.9C564.1 526.3 564.4 527 564.4 527.6Z"/>
<path fill="#a2b99c" d="M468.1 538.1C468.1 538.8 467.7 539.8 467.2 540.3C466.7 540.8 465.8 541.1 465.1 541.1C464.3 541.1 463.4 540.8 462.9 540.3C462.4 539.8 462.1 538.8 462.1 538.1C462.1 537.4 462.4 536.5 462.9 536C463.4 535.5 464.3 535.1 465.1 535.1C465.8 535.1 466.7 535.5 467.2 536C467.7 536.5 468.1 537.4 468.1 538.1Z"/>
<path fill="#a2b99c" d="M505.9 532.6C505.9 533.4 505.4 534.4 504.9 534.9C504.4 535.5 503.4 535.9 502.6 535.9C501.8 535.9 500.8 535.5 500.3 534.9C499.8 534.4 499.3 533.4 499.3 532.6C499.3 531.9 499.8 530.9 500.3 530.3C500.8 529.8 501.8 529.4 502.6 529.4C503.4 529.4 504.4 529.8 504.9 530.3C505.4 530.9 505.9 531.9 505.9 532.6Z"/>
<path fill="#a2b99c" d="M520.9 565.2C520.9 565.6 520.6 566.3 520.3 566.6C520 566.9 519.3 567.2 518.9 567.2C518.4 567.2 517.8 566.9 517.5 566.6C517.1 566.3 516.9 565.6 516.9 565.2C516.9 564.7 517.1 564.1 517.5 563.8C517.8 563.4 518.4 563.2 518.9 563.2C519.3 563.2 520 563.4 520.3 563.8C520.6 564.1 520.9 564.7 520.9 565.2Z"/>
<path fill="#a2b99c" d="M516.4 543.9C516.8 542.6 520.5 541.6 522.6 542.6C524.7 543.7 527.6 547.6 528.9 550.2C530.1 552.7 530.8 556.9 530.1 558.2C529.5 559.4 526.8 559 525.1 557.7C523.5 556.3 521.6 552.4 520.1 550.2C518.7 547.9 516 545.1 516.4 543.9Z"/>
<path fill="#a2b99c" d="M513.9 430C515.7 428.3 526.2 428.7 527.6 430C529.1 431.3 524.5 435.8 522.6 437.5C520.8 439.2 517.8 441.3 516.4 440C514.9 438.8 512 431.7 513.9 430Z"/>
<path fill="#a2b99c" d="M706.6 539.6C706.6 540.6 706.1 541.9 705.4 542.6C704.7 543.4 703.4 543.9 702.4 543.9C701.3 543.9 700.1 543.4 699.3 542.6C698.6 541.9 698.1 540.6 698.1 539.6C698.1 538.6 698.6 537.3 699.3 536.6C700.1 535.9 701.3 535.4 702.4 535.4C703.4 535.4 704.7 535.9 705.4 536.6C706.1 537.3 706.6 538.6 706.6 539.6Z"/>
<path fill="#a2b99c" d="M790.5 527.6C792.8 524.1 795.3 520.1 798 518.9C800.7 517.6 804.7 519.1 806.7 520.1C808.7 521.2 809.4 521.8 810 525.1C810.5 528.5 811.2 537.6 810 540.1C808.8 542.6 805.4 541 803 540.1C800.6 539.3 798 534.7 795.5 535.1C793 535.5 789.8 541.8 788 542.6C786.1 543.5 783.8 542.6 784.2 540.1C784.6 537.6 788.2 531.2 790.5 527.6Z"/>
<path fill="#a2b99c" d="M798.2 512.6C798.2 513.4 797.8 514.4 797.3 514.9C796.7 515.4 795.7 515.9 795 515.9C794.2 515.9 793.2 515.4 792.7 514.9C792.1 514.4 791.7 513.4 791.7 512.6C791.7 511.8 792.1 510.8 792.7 510.3C793.2 509.8 794.2 509.3 795 509.3C795.7 509.3 796.7 509.8 797.3 510.3C797.8 510.8 798.2 511.8 798.2 512.6Z"/>
<path fill="#a2b99c" d="M804.2 487.6C805.1 484.9 809.4 483.2 810.5 486.3C811.5 489.4 811.3 503.6 810.5 506.3C809.7 509.1 806.5 505.7 805.5 502.6C804.4 499.5 803.4 490.3 804.2 487.6Z"/>
<path fill="#a2b99c" d="M699.1 631.5C700.1 628.8 704.3 628.6 707.9 629C711.4 629.4 716.6 633.8 720.4 634C724.1 634.2 727.7 630.9 730.4 630.3C733.1 629.6 736 628.6 736.6 630.3C737.3 631.9 734.4 637.6 734.1 640.3C733.9 643 736.9 646.1 735.4 646.5C733.9 646.9 728.3 642.1 725.4 642.8C722.5 643.4 720.8 648.8 717.9 650.3C715 651.7 710.6 652.4 707.9 651.5C705.1 650.7 703.1 648.6 701.6 645.3C700.1 641.9 698.1 634.2 699.1 631.5Z"/>
<path fill="#a2b99c" d="M660.3 679.1C660.7 677.2 664.5 676.8 667.8 677.8C671.1 678.9 677.8 683.4 680.3 685.3C682.8 687.2 685.3 688.4 682.8 689.1C680.3 689.7 669.1 690.7 665.3 689.1C661.6 687.4 659.9 680.9 660.3 679.1Z"/>
<path fill="#a2b99c" d="M730.4 675.3C729.6 672.8 732.9 672.8 735.4 674.1C737.9 675.3 742.5 680.3 745.4 682.8C748.3 685.3 753.8 688 752.9 689.1C752.1 690.1 744.2 691.4 740.4 689.1C736.6 686.8 731.2 677.8 730.4 675.3Z"/>
<path fill="#a2b99c" d="M540.2 666.5C540.4 664.6 542.9 663.5 543.9 664.8C544.9 666 546.6 672.1 546.4 674.1C546.2 676 543.7 677.8 542.7 676.6C541.6 675.3 539.9 668.5 540.2 666.5Z"/>
<path fill="#d9a078" d="M856.3 496.3C858.2 493.2 862.8 494.2 867.6 493.8C872.4 493.4 880.1 493.8 885.1 493.8C890.1 493.8 895.1 492.4 897.6 493.8C900.1 495.3 900.9 499 900.1 502.6C899.3 506.1 895.1 511.8 892.6 515.1C890.1 518.4 887.6 519.3 885.1 522.6C882.6 526 880.1 532.2 877.6 535.1C875.1 538.1 872.2 540.6 870.1 540.1C868 539.7 866.3 535.5 865.1 532.6C863.8 529.7 864 526 862.6 522.6C861.1 519.3 857.4 517 856.3 512.6C855.3 508.2 854.4 499.5 856.3 496.3Z"/>
<path fill="#d9a078" d="M847.5 580.2C848 577.3 852.1 575.6 855.1 572.7C858 569.8 861.7 565.6 865.1 562.7C868.4 559.7 872.2 557.2 875.1 555.2C878 553.1 880.9 549.7 882.6 550.2C884.3 550.6 883.4 555.6 885.1 557.7C886.8 559.7 890.1 561.2 892.6 562.7C895.1 564.1 897.2 564.8 900.1 566.4C903 568.1 906.8 570.4 910.1 572.7C913.5 575 917.2 577.3 920.1 580.2C923.1 583.1 925.6 586.9 927.6 590.2C929.7 593.5 929.7 598.1 932.7 600.2C935.6 602.3 942.2 603.1 945.2 602.7C948.1 602.3 948.5 598.1 950.2 597.7C951.8 597.3 954.6 598.1 955.2 600.2C955.8 602.3 955 606.9 953.9 610.2C952.9 613.6 950.4 617.5 948.9 620.2C947.5 622.9 947 626.1 945.2 626.5C943.3 626.9 940.2 623.8 937.7 622.7C935.2 621.7 932.7 619.4 930.2 620.2C927.6 621.1 925.6 626.1 922.6 627.7C919.7 629.4 915.1 628.6 912.6 630.3C910.1 631.9 908.9 634.8 907.6 637.8C906.4 640.7 906.8 644.9 905.1 647.8C903.5 650.7 899.7 652.4 897.6 655.3C895.5 658.2 895.1 662.6 892.6 665.3C890.1 668 885.7 671.3 882.6 671.6C879.5 671.8 874.2 668.8 873.8 666.5C873.4 664.3 878.2 660.5 880.1 657.8C882 655.1 882.6 652.4 885.1 650.3C887.6 648.2 892.6 647.8 895.1 645.3C897.6 642.8 899.5 638.6 900.1 635.3C900.7 631.9 900.5 627.7 898.9 625.2C897.2 622.7 892.8 619.8 890.1 620.2C887.4 620.7 885.3 626.1 882.6 627.7C879.9 629.4 876.3 630.7 873.8 630.3C871.3 629.8 869.9 625.7 867.6 625.2C865.3 624.8 863 628.2 860.1 627.7C857.1 627.3 851.9 625.2 850.1 622.7C848.2 620.2 849.6 615.6 848.8 612.7C848 609.8 844.6 607.3 845 605.2C845.5 603.1 850.1 602.7 851.3 600.2C852.6 597.7 853.2 593.5 852.6 590.2C851.9 586.9 847.1 583.1 847.5 580.2Z"/>
<path fill="#d9a078" d="M982.7 566.4C983.8 563.9 989.6 562.7 992.7 562.7C995.9 562.7 1000.2 564.3 1001.5 566.4C1002.7 568.5 1001.5 572.9 1000.2 575.2C999 577.5 996.3 579.8 994 580.2C991.7 580.6 988.3 580 986.5 577.7C984.6 575.4 981.7 568.9 982.7 566.4Z"/>
<path fill="#d9a078" d="M972.7 635.3C974 632.3 976 630.3 977.7 627.7C979.4 625.2 980.2 623.2 982.7 620.2C985.2 617.3 989.4 612.7 992.7 610.2C996.1 607.7 1000 606.5 1002.7 605.2C1005.5 604 1008.4 601 1009 602.7C1009.6 604.4 1008.4 611.1 1006.5 615.2C1004.6 619.4 999.4 624 997.7 627.7C996.1 631.5 995.6 634.8 996.5 637.8C997.3 640.7 999.6 643.2 1002.7 645.3C1005.9 647.4 1010.7 649.9 1015.3 650.3C1019.8 650.7 1026.9 646.9 1030.3 647.8C1033.6 648.6 1034.9 651.9 1035.3 655.3C1035.7 658.6 1034.4 665.3 1032.8 667.8C1031.1 670.3 1027.8 668.6 1025.3 670.3C1022.8 672 1019 674.7 1017.8 677.8C1016.5 680.9 1023.2 687.2 1017.8 689.1C1012.3 691 992.3 691 985.2 689.1C978.1 687.2 978.3 681.4 975.2 677.8C972.1 674.3 968.3 671.6 966.4 667.8C964.6 664 963.3 659 963.9 655.3C964.6 651.5 968.7 648.6 970.2 645.3C971.7 641.9 971.5 638.2 972.7 635.3Z"/>
<path fill="#d9a078" d="M1017.8 610.2C1018.7 607.9 1021.4 606.5 1022.8 606.5C1024.1 606.5 1026 607.6 1025.8 610.2C1025.6 612.9 1022.9 620.6 1021.5 622.2C1020.1 623.9 1017.9 622.2 1017.3 620.2C1016.6 618.2 1016.8 612.5 1017.8 610.2Z"/>
<path fill="#d9a078" d="M1119.1 470.1C1120.8 468 1125.6 466.9 1130.4 466.3C1135.2 465.7 1142.1 465.9 1147.9 466.3C1153.8 466.7 1160.4 467.5 1165.4 468.8C1170.5 470.1 1176.7 471.7 1178 473.8C1179.2 475.9 1175.9 479.6 1173 481.3C1170 483 1165.4 483.6 1160.4 483.8C1155.4 484 1148.3 482.6 1142.9 482.6C1137.5 482.6 1131.7 484.4 1127.9 483.8C1124.1 483.2 1121.8 481.1 1120.4 478.8C1118.9 476.5 1117.5 472.1 1119.1 470.1Z"/>
<path fill="#d9a078" d="M1077.8 555.2C1078.9 553.7 1081.6 552.2 1085.3 551.4C1089.1 550.6 1095.4 550.8 1100.4 550.2C1105.4 549.5 1112.7 549.7 1115.4 547.6C1118.1 545.6 1115.8 540.1 1116.6 537.6C1117.5 535.1 1118.5 533 1120.4 532.6C1122.3 532.2 1126.6 533.5 1127.9 535.1C1129.1 536.8 1126.6 541.8 1127.9 542.6C1129.1 543.5 1132.5 541.4 1135.4 540.1C1138.3 538.9 1141.2 536.8 1145.4 535.1C1149.6 533.5 1155 531.6 1160.4 530.1C1165.9 528.7 1173 526.8 1178 526.4C1183 526 1186.5 527 1190.5 527.6C1194.4 528.2 1199.9 519.7 1201.7 530.1C1203.6 540.6 1204.5 580.2 1201.7 590.2C1199 600.2 1190.7 590.6 1185.5 590.2C1180.3 589.8 1175.5 588.7 1170.5 587.7C1165.4 586.7 1160.4 585.2 1155.4 583.9C1150.4 582.7 1144.6 581.2 1140.4 580.2C1136.2 579.1 1133.7 577.3 1130.4 577.7C1127.1 578.1 1123.7 580.6 1120.4 582.7C1117.1 584.8 1112.9 589.4 1110.4 590.2C1107.9 591 1105 589.8 1105.4 587.7C1105.8 585.6 1110.4 580.6 1112.9 577.7C1115.4 574.8 1120.8 572.3 1120.4 570.2C1120 568.1 1114.1 565.8 1110.4 565.2C1106.6 564.5 1102 566.6 1097.9 566.4C1093.7 566.2 1088.5 565 1085.3 563.9C1082.2 562.9 1080.3 561.6 1079.1 560.2C1077.8 558.7 1076.8 556.6 1077.8 555.2Z"/>
<path fill="#a2b99c" d="M821.3 547.6C822.1 545.6 825.2 544.3 827.5 542.6C829.8 541 832.1 539.1 835 537.6C838 536.2 841.9 534.1 845 533.9C848.2 533.7 851.5 534.1 853.8 536.4C856.1 538.7 858.6 544.1 858.8 547.6C859 551.2 856.9 555.2 855.1 557.7C853.2 560.2 849.6 560.2 847.5 562.7C845.5 565.2 844.6 570 842.5 572.7C840.5 575.4 836.9 579.4 835 578.9C833.2 578.5 832.5 573.3 831.3 570.2C830 567 829 562.7 827.5 560.2C826.1 557.7 823.6 557.2 822.5 555.2C821.5 553.1 820.4 549.7 821.3 547.6Z"/>
<path fill="#a2b99c" d="M808.7 486.3C810.2 482.8 815.4 484.9 817.5 486.3C819.6 487.8 821.3 492 821.3 495.1C821.3 498.2 819.6 503 817.5 505.1C815.4 507.2 810.2 510.7 808.7 507.6C807.3 504.5 807.3 489.9 808.7 486.3Z"/>
<path fill="#a2b99c" d="M808.7 535.1C810.2 533.9 815.4 533.9 817.5 535.1C819.6 536.4 821.7 541 821.3 542.6C820.8 544.3 817.1 545.1 815 545.1C812.9 545.1 809.8 544.3 808.7 542.6C807.7 541 807.3 536.4 808.7 535.1Z"/>
<path fill="#a2b99c" d="M906.4 550.2C906.8 547.9 911.6 547.2 915.1 546.4C918.7 545.6 923.9 544.9 927.6 545.1C931.4 545.4 934.7 546 937.7 547.6C940.6 549.3 943.6 552.2 945.2 555.2C946.8 558.1 947.6 561.8 947.2 565.2C946.8 568.5 945.1 572.7 942.7 575.2C940.2 577.7 936 579.8 932.7 580.2C929.3 580.6 925.1 579.4 922.6 577.7C920.1 576 919.3 573.1 917.6 570.2C916 567.3 914.5 563.5 912.6 560.2C910.8 556.8 906 552.4 906.4 550.2Z"/>
<path fill="#a2b99c" d="M897.6 526.4C898.3 524.3 902.2 523.2 903.9 525.1C905.5 527 906.8 533.5 907.6 537.6C908.5 541.8 909.5 548.5 908.9 550.2C908.2 551.8 905.4 549.7 903.9 547.6C902.3 545.6 900.7 541.2 899.6 537.6C898.6 534.1 896.9 528.5 897.6 526.4Z"/>
<path fill="#a2b99c" d="M986.5 491.3C987.3 489.8 991.7 488.1 995.2 488.1C998.8 488.1 1004.6 491 1007.7 491.3C1010.9 491.7 1012.3 489.4 1014 490.1C1015.7 490.7 1017.8 493.2 1017.8 495.1C1017.8 497 1015.7 500.5 1014 501.3C1012.3 502.2 1010 500.9 1007.7 500.1C1005.5 499.3 1003.2 496.8 1000.2 496.3C997.3 495.8 992.5 497.9 990.2 497.1C987.9 496.2 985.6 492.8 986.5 491.3Z"/>
<path fill="#a2b99c" d="M999 502.6C999.8 500.7 1005.7 500.1 1007.7 501.3C1009.8 502.6 1011.5 507.6 1011.5 510.1C1011.5 512.6 1009.2 515.9 1007.7 516.4C1006.3 516.8 1004.2 514.9 1002.7 512.6C1001.3 510.3 998.2 504.5 999 502.6Z"/>
<path fill="#a2b99c" d="M1022.8 516.4C1023.6 514.3 1027.8 512.2 1030.3 512.6C1032.8 513 1036.3 516.4 1037.8 518.9C1039.2 521.4 1039.9 525.7 1039 527.6C1038.2 529.5 1035.1 530.5 1032.8 530.1C1030.5 529.7 1026.9 527.4 1025.3 525.1C1023.6 522.8 1021.9 518.4 1022.8 516.4Z"/>
<path fill="#a2b99c" d="M990.7 523.9C991.2 521.9 993.6 517.6 995.2 517.6C996.8 517.6 999.8 521.8 1000.2 523.9C1000.7 526 999.1 529.2 997.7 530.1C996.4 531.1 993.4 530.7 992.2 529.6C991.1 528.6 990.2 525.9 990.7 523.9Z"/>
<path fill="#a2b99c" d="M972.7 537.6C973.7 534.9 977.5 531 980.2 530.1C982.9 529.3 987.1 530.5 989 532.6C990.9 534.7 991.9 539.3 991.5 542.6C991.1 546 988.6 550.8 986.5 552.7C984.4 554.5 981 554.9 979 553.9C976.9 552.9 975 549.1 974 546.4C972.9 543.7 971.7 540.3 972.7 537.6Z"/>
<path fill="#a2b99c" d="M969.7 541.4C969.7 542 969.4 542.7 969 543.2C968.5 543.6 967.8 543.9 967.2 543.9C966.6 543.9 965.8 543.6 965.4 543.2C965 542.7 964.7 542 964.7 541.4C964.7 540.8 965 540 965.4 539.6C965.8 539.2 966.6 538.9 967.2 538.9C967.8 538.9 968.5 539.2 969 539.6C969.4 540 969.7 540.8 969.7 541.4Z"/>
<path fill="#a2b99c" d="M964.7 555.2C965.5 553.7 968.8 552.2 970.2 552.7C971.6 553.1 973.2 556 973.2 557.7C973.2 559.3 971.5 562 970.2 562.7C968.9 563.3 966.1 562.7 965.2 561.4C964.3 560.2 963.9 556.6 964.7 555.2Z"/>
<path fill="#a2b99c" d="M1009.7 533.9C1010.7 532.6 1014.7 531 1016.5 531.4C1018.3 531.8 1020.8 534.9 1020.8 536.4C1020.8 537.8 1018.2 539.7 1016.5 540.1C1014.8 540.6 1011.9 539.9 1010.8 538.9C1009.6 537.8 1008.8 535.1 1009.7 533.9Z"/>
<path fill="#a2b99c" d="M1000.2 550.2C1000.7 547.9 1006.5 545.6 1010.3 543.9C1014 542.2 1018.6 540.6 1022.8 540.1C1026.9 539.7 1031.1 541 1035.3 541.4C1039.5 541.8 1044.7 543.7 1047.8 542.6C1050.9 541.6 1052 535.1 1054.1 535.1C1056.1 535.1 1057.6 539.7 1060.3 542.6C1063 545.6 1067.8 548.9 1070.3 552.7C1072.8 556.4 1073.5 561.4 1075.3 565.2C1077.2 568.9 1081 571.8 1081.6 575.2C1082.2 578.5 1080.1 581.9 1079.1 585.2C1078 588.5 1077.6 592.3 1075.3 595.2C1073 598.1 1069.1 601.5 1065.3 602.7C1061.6 604 1056.6 603.6 1052.8 602.7C1049 601.9 1045.1 600.2 1042.8 597.7C1040.5 595.2 1040.7 591 1039 587.7C1037.4 584.4 1035.1 580.6 1032.8 577.7C1030.5 574.8 1027.8 572.7 1025.3 570.2C1022.8 567.7 1020.7 564.8 1017.8 562.7C1014.8 560.6 1010.7 559.7 1007.7 557.7C1004.8 555.6 999.8 552.4 1000.2 550.2Z"/>
<path fill="#a2b99c" d="M963.9 580.2C966 577.7 970 576.9 972.7 575.2C975.4 573.5 978.1 569.8 980.2 570.2C982.3 570.6 984.2 574.8 985.2 577.7C986.3 580.6 984.8 584.8 986.5 587.7C988.1 590.6 993.4 592.7 995.2 595.2C997.1 597.7 998.6 600.4 997.7 602.7C996.9 605 992.7 606.9 990.2 609C987.7 611.1 985.6 612.9 982.7 615.2C979.8 617.5 975.4 622.3 972.7 622.7C970 623.2 968.3 620.7 966.4 617.7C964.6 614.8 961.9 609 961.4 605.2C961 601.5 964.2 597.7 963.9 595.2C963.7 592.7 960.2 592.7 960.2 590.2C960.2 587.7 961.9 582.7 963.9 580.2Z"/>
<path fill="#a2b99c" d="M989 587.7C989.9 585.6 992.9 581.9 995.2 581.4C997.6 581 1002.1 583.3 1003.2 585.2C1004.4 587.1 1003.8 590.8 1002.2 592.7C1000.7 594.6 996.1 596.2 994 596.5C991.9 596.7 990.6 595.4 989.7 594C988.9 592.5 988.1 589.8 989 587.7Z"/>
<path fill="#a2b99c" d="M1009.7 583.9C1010.6 582.1 1014.3 578.9 1016.5 578.9C1018.7 578.9 1022.3 582.1 1022.8 583.9C1023.2 585.8 1020.9 589.2 1019 590.2C1017.1 591.2 1013 591.2 1011.5 590.2C1010 589.2 1008.9 585.8 1009.7 583.9Z"/>
<path fill="#a2b99c" d="M1034.3 587.2C1034.3 587.9 1033.7 588.8 1033 589.3C1032.2 589.8 1030.8 590.2 1029.8 590.2C1028.7 590.2 1027.3 589.8 1026.6 589.3C1025.8 588.8 1025.3 587.9 1025.3 587.2C1025.3 586.5 1025.8 585.6 1026.6 585.1C1027.3 584.6 1028.7 584.2 1029.8 584.2C1030.8 584.2 1032.2 584.6 1033 585.1C1033.7 585.6 1034.3 586.5 1034.3 587.2Z"/>
<path fill="#a2b99c" d="M1009.7 635.3C1010.4 633 1012.3 627.7 1014 627.7C1015.8 627.7 1018.8 632.8 1020.3 635.3C1021.7 637.8 1023.6 641.2 1022.8 642.8C1021.9 644.4 1017.3 645 1015.3 644.8C1013.2 644.6 1011.2 643.1 1010.3 641.5C1009.3 639.9 1009.1 637.6 1009.7 635.3Z"/>
<path fill="#a2b99c" d="M1051.6 522.6C1052.2 520.9 1057.6 520.5 1060.3 518.9C1063 517.2 1066.2 515.3 1067.8 512.6C1069.5 509.9 1070.3 505.5 1070.3 502.6C1070.3 499.7 1066.6 497 1067.8 495.1C1069.1 493.2 1074.1 492 1077.8 491.3C1081.6 490.7 1085.8 491.7 1090.4 491.3C1094.9 490.9 1100.8 488.6 1105.4 488.8C1110 489 1112.9 491.5 1117.9 492.6C1122.9 493.6 1130.8 493.4 1135.4 495.1C1140 496.8 1141.9 501.8 1145.4 502.6C1149 503.4 1155 498.8 1156.7 500.1C1158.4 501.3 1157.3 507.6 1155.4 510.1C1153.6 512.6 1148.8 513 1145.4 515.1C1142.1 517.2 1139.2 520.9 1135.4 522.6C1131.7 524.3 1127.1 524.5 1122.9 525.1C1118.7 525.7 1113.7 525.1 1110.4 526.4C1107 527.6 1105 530.1 1102.9 532.6C1100.8 535.1 1099.9 540.6 1097.9 541.4C1095.8 542.2 1092.4 539.5 1090.4 537.6C1088.3 535.8 1087.8 531.8 1085.3 530.1C1082.8 528.5 1078.7 527.6 1075.3 527.6C1072 527.6 1068.4 529.9 1065.3 530.1C1062.2 530.3 1058.9 530.1 1056.6 528.9C1054.3 527.6 1050.9 524.3 1051.6 522.6Z"/>
<path fill="#a2b99c" d="M1046.5 620.2C1047.4 616.9 1050.5 611.1 1052.8 607.7C1055.1 604.4 1057 601.9 1060.3 600.2C1063.7 598.5 1068.7 598.5 1072.8 597.7C1077 596.9 1081.2 594.8 1085.3 595.2C1089.5 595.6 1093.7 597.7 1097.9 600.2C1102 602.7 1106.2 606.9 1110.4 610.2C1114.5 613.6 1119.8 616.9 1122.9 620.2C1126 623.6 1127.9 626.5 1129.1 630.3C1130.4 634 1129.4 638.6 1130.4 642.8C1131.4 646.9 1132.9 651.1 1135.4 655.3C1137.9 659.5 1144 664.3 1145.4 667.8C1146.9 671.3 1146.3 676.1 1144.2 676.6C1142.1 677 1136.4 672.6 1132.9 670.3C1129.4 668 1126.6 664.5 1122.9 662.8C1119.1 661.1 1114.5 660.3 1110.4 660.3C1106.2 660.3 1101.6 660.7 1097.9 662.8C1094.1 664.9 1090.8 670.3 1087.8 672.8C1084.9 675.3 1083.3 677.8 1080.3 677.8C1077.4 677.8 1072.8 675.7 1070.3 672.8C1067.8 669.9 1066.6 664.5 1065.3 660.3C1064.1 656.1 1064.5 650.7 1062.8 647.8C1061.1 644.9 1057.4 643.2 1055.3 642.8C1053.2 642.3 1050.5 646.5 1050.3 645.3C1050.1 644 1054.5 638.2 1054.1 635.3C1053.6 632.3 1049 630.3 1047.8 627.7C1046.5 625.2 1045.7 623.6 1046.5 620.2Z"/>
<path fill="#d9a078" d="M1168.7 526.4C1171.5 518 1179.8 527 1185 527.6C1190.2 528.2 1195 528.5 1200 530.1C1205 531.8 1210.1 535.5 1215.1 537.6C1220.1 539.7 1225.1 541.4 1230.1 542.6C1235.1 543.9 1240.5 543.9 1245.1 545.1C1249.7 546.4 1253.4 549.7 1257.6 550.2C1261.8 550.6 1266 547.6 1270.1 547.6C1274.3 547.6 1278.5 549.3 1282.6 550.2C1286.8 551 1290.6 551 1295.2 552.7C1299.7 554.3 1305.8 557.9 1310.2 560.2C1314.6 562.5 1320.2 563.9 1321.4 566.4C1322.7 568.9 1319.8 572.9 1317.7 575.2C1315.6 577.5 1311.8 578.9 1308.9 580.2C1306 581.4 1302.9 582.7 1300.2 582.7C1297.5 582.7 1295.2 579.6 1292.7 580.2C1290.2 580.8 1288.1 584.4 1285.1 586.4C1282.2 588.5 1278.5 592.1 1275.1 592.7C1271.8 593.3 1268.9 591.5 1265.1 590.2C1261.4 588.9 1256.8 586.9 1252.6 585.2C1248.4 583.5 1244.3 580.6 1240.1 580.2C1235.9 579.8 1231.7 581.9 1227.6 582.7C1223.4 583.5 1219.2 585.6 1215.1 585.2C1210.9 584.8 1206.7 581.4 1202.5 580.2C1198.4 578.9 1194.2 578.3 1190 577.7C1185.9 577.1 1181.1 576.4 1177.5 576.4C1174 576.4 1170.2 586 1168.7 577.7C1167.3 569.3 1166 534.7 1168.7 526.4Z"/>
<path fill="#d9a078" d="M1245.1 610.2C1249.1 607.3 1253.4 604.8 1257.6 602.7C1261.8 600.6 1266.4 599.4 1270.1 597.7C1273.9 596 1276.8 593.1 1280.1 592.7C1283.5 592.3 1287.6 593.1 1290.2 595.2C1292.7 597.3 1295.2 601.9 1295.2 605.2C1295.2 608.6 1291.4 611.9 1290.2 615.2C1288.9 618.6 1289.3 622.3 1287.6 625.2C1286 628.2 1283.1 630.7 1280.1 632.8C1277.2 634.8 1273 635.7 1270.1 637.8C1267.2 639.8 1265.1 643.6 1262.6 645.3C1260.1 646.9 1258 648.6 1255.1 647.8C1252.2 646.9 1248 643.6 1245.1 640.3C1242.2 636.9 1239.5 631.1 1237.6 627.7C1235.7 624.4 1232.6 623.2 1233.8 620.2C1235.1 617.3 1241.1 613.1 1245.1 610.2Z"/>
<path fill="#d9a078" d="M1208.3 562.2C1208.3 562.9 1207.9 563.9 1207.3 564.5C1206.8 565 1205.8 565.4 1205 565.4C1204.3 565.4 1203.3 565 1202.7 564.5C1202.2 563.9 1201.8 562.9 1201.8 562.2C1201.8 561.4 1202.2 560.4 1202.7 559.9C1203.3 559.3 1204.3 558.9 1205 558.9C1205.8 558.9 1206.8 559.3 1207.3 559.9C1207.9 560.4 1208.3 561.4 1208.3 562.2Z"/>
<path fill="#d9a078" d="M1308.9 521.4C1308.7 518.9 1315.4 515.3 1317.7 512.6C1320 509.9 1323.1 507.2 1322.7 505.1C1322.3 503 1317.3 502.2 1315.2 500.1C1313.1 498 1309.3 494.7 1310.2 492.6C1311 490.4 1316.9 486.7 1320.2 487.1C1323.5 487.5 1329.2 492.1 1330.2 495.1C1331.2 498.1 1326.4 502.2 1326.4 505.1C1326.4 508 1327.9 510.7 1330.2 512.6C1332.5 514.5 1337.7 514.3 1340.2 516.4C1342.7 518.4 1344.8 522 1345.2 525.1C1345.6 528.2 1342.7 532.2 1342.7 535.1C1342.7 538.1 1343.1 540.6 1345.2 542.6C1347.3 544.7 1352.3 545.6 1355.2 547.6C1358.2 549.7 1360.7 552.7 1362.7 555.2C1364.8 557.7 1367.7 560.2 1367.7 562.7C1367.7 565.2 1364.8 567.3 1362.7 570.2C1360.7 573.1 1358.2 578.1 1355.2 580.2C1352.3 582.3 1347.7 583.1 1345.2 582.7C1342.7 582.3 1340.6 579.8 1340.2 577.7C1339.8 575.6 1344 572.3 1342.7 570.2C1341.5 568.1 1335.2 567.7 1332.7 565.2C1330.2 562.7 1329.2 558.9 1327.7 555.2C1326.2 551.4 1324.4 546.4 1323.9 542.6C1323.5 538.9 1326 535.1 1325.2 532.6C1324.4 530.1 1321.6 529.5 1318.9 527.6C1316.2 525.7 1309.1 523.9 1308.9 521.4Z"/>
<path fill="#d9a078" d="M1296.4 490.1C1297.2 488 1302.2 486.5 1305.2 486.3C1308.1 486.1 1313.1 487.4 1313.9 488.8C1314.8 490.3 1312.5 493.4 1310.2 495.1C1307.9 496.8 1302.5 499.7 1300.2 498.8C1297.9 498 1295.6 492.2 1296.4 490.1Z"/>
<path fill="#d9a078" d="M1340.2 463.8C1341.9 462.1 1346.1 461.1 1350.2 460C1354.4 459 1359.8 458.2 1365.2 457.5C1370.7 456.9 1376.9 456.3 1382.8 456.3C1388.6 456.3 1396.7 455.7 1400.3 457.5C1403.8 459.4 1404.9 465 1404 467.5C1403.2 470.1 1398.8 471.3 1395.3 472.6C1391.7 473.8 1386.9 474.8 1382.8 475.1C1378.6 475.3 1374 473 1370.3 473.8C1366.5 474.6 1363.6 478.4 1360.2 480.1C1356.9 481.7 1353.6 482.8 1350.2 483.8C1346.9 484.9 1342.7 486.5 1340.2 486.3C1337.7 486.1 1334.8 484.2 1335.2 482.6C1335.6 480.9 1341.9 478.4 1342.7 476.3C1343.6 474.2 1340.6 472.1 1340.2 470.1C1339.8 468 1338.5 465.5 1340.2 463.8Z"/>
<path fill="#d9a078" d="M1416.6 476.3C1418.6 474.1 1425.5 475 1430.3 474.6C1435.1 474.1 1439.5 473.9 1445.3 473.8C1451.2 473.7 1460 473.2 1465.4 473.8C1470.7 474.4 1475.5 475.3 1477.4 477.6C1479.3 479.9 1477.8 484.7 1476.6 487.6C1475.5 490.5 1473.5 494.2 1470.4 495.1C1467.2 495.9 1462 492.6 1457.9 492.6C1453.7 492.6 1449.5 494.2 1445.3 495.1C1441.2 495.9 1436.6 497.6 1432.8 497.6C1429.1 497.6 1425.3 496.8 1422.8 495.1C1420.3 493.4 1418.9 490.7 1417.8 487.6C1416.8 484.4 1414.5 478.5 1416.6 476.3Z"/>
<path fill="#d9a078" d="M1476.6 468.8C1477.1 467.5 1485.2 466.9 1490.4 466.3C1495.6 465.7 1502.9 465.3 1507.9 465C1512.9 464.8 1518.4 463.8 1520.4 465C1522.5 466.3 1522.9 471.1 1520.4 472.6C1517.9 474 1510.8 473.6 1505.4 473.8C1500 474 1492.7 474.6 1487.9 473.8C1483.1 473 1476.2 470.1 1476.6 468.8Z"/>
<path fill="#d9a078" d="M1517.9 490.1C1519.2 488.4 1525.2 486.7 1526.7 488.8C1528.2 490.9 1527.9 500.9 1526.7 502.6C1525.4 504.3 1520.6 500.9 1519.2 498.8C1517.7 496.8 1516.7 491.7 1517.9 490.1Z"/>
<path fill="#d9a078" d="M1384 577.7C1385.7 575.6 1391.3 572.7 1395.3 570.2C1399.2 567.7 1404 564.8 1407.8 562.7C1411.6 560.6 1414.9 558.1 1417.8 557.7C1420.7 557.2 1424.5 558.1 1425.3 560.2C1426.2 562.2 1424.9 566.8 1422.8 570.2C1420.7 573.5 1416.1 576.9 1412.8 580.2C1409.5 583.5 1405.7 587.3 1402.8 590.2C1399.9 593.1 1397.8 597.7 1395.3 597.7C1392.8 597.7 1389.4 592.7 1387.8 590.2C1386.1 587.7 1385.9 584.8 1385.3 582.7C1384.6 580.6 1382.3 579.8 1384 577.7Z"/>
<path fill="#d9a078" d="M1445.3 573.9C1446 571.2 1450.1 568.7 1452.9 568.9C1455.6 569.1 1459.5 572.5 1461.6 575.2C1463.7 577.9 1466 582.7 1465.4 585.2C1464.7 587.7 1460.6 590.2 1457.9 590.2C1455.1 590.2 1451.2 587.9 1449.1 585.2C1447 582.5 1444.7 576.6 1445.3 573.9Z"/>
<path fill="#d9a078" d="M1454.1 545.1C1455.8 543.5 1461.8 540.3 1465.4 540.1C1468.9 539.9 1472.7 542 1475.4 543.9C1478.1 545.8 1482.1 549.5 1481.6 551.4C1481.2 553.3 1476 554.9 1472.9 555.2C1469.7 555.4 1465.8 553.5 1462.9 552.7C1459.9 551.8 1456.8 551.4 1455.4 550.2C1453.9 548.9 1452.4 546.8 1454.1 545.1Z"/>
<path fill="#d9a078" d="M1410.3 535.1C1410.5 533.5 1415.7 531 1417.8 531.4C1419.9 531.8 1423 536 1422.8 537.6C1422.6 539.3 1418.6 541.8 1416.6 541.4C1414.5 541 1410.1 536.8 1410.3 535.1Z"/>
<path fill="#d9a078" d="M1370.3 570.2C1371.9 567.7 1375.7 572.7 1377.8 575.2C1379.8 577.7 1381.1 581 1382.8 585.2C1384.4 589.4 1385.7 596 1387.8 600.2C1389.9 604.4 1391.9 609.4 1395.3 610.2C1398.6 611.1 1405.3 604.4 1407.8 605.2C1410.3 606.1 1410.7 611.9 1410.3 615.2C1409.9 618.6 1407.8 622.7 1405.3 625.2C1402.8 627.7 1398.2 628.2 1395.3 630.3C1392.4 632.3 1389.9 634.4 1387.8 637.8C1385.7 641.1 1384.4 649 1382.8 650.3C1381.1 651.5 1379 648.6 1377.8 645.3C1376.5 641.9 1375.9 635.3 1375.3 630.3C1374.6 625.2 1374.8 619.4 1374 615.2C1373.2 611.1 1371.3 609.4 1370.3 605.2C1369.2 601 1367.7 596 1367.7 590.2C1367.7 584.4 1368.6 572.7 1370.3 570.2Z"/>
<path fill="#d9a078" d="M1422.8 637.8C1425.1 633.6 1429.1 632.8 1432.8 630.3C1436.6 627.7 1441.2 624.4 1445.3 622.7C1449.5 621.1 1456.2 618.2 1457.9 620.2C1459.5 622.3 1456.2 630.7 1455.4 635.3C1454.5 639.8 1454.1 643.6 1452.9 647.8C1451.6 651.9 1450.8 656.5 1447.8 660.3C1444.9 664 1439.5 669 1435.3 670.3C1431.2 671.6 1425.5 670.3 1422.8 667.8C1420.1 665.3 1419.1 660.3 1419.1 655.3C1419.1 650.3 1420.5 641.9 1422.8 637.8Z"/>
<path fill="#d9a078" d="M1395.3 650.3C1395.7 647.4 1399.2 641.1 1402.8 637.8C1406.3 634.4 1414.1 630.7 1416.6 630.3C1419.1 629.8 1419.3 632.8 1417.8 635.3C1416.3 637.8 1410.7 641.9 1407.8 645.3C1404.9 648.6 1402.4 654.4 1400.3 655.3C1398.2 656.1 1394.9 653.2 1395.3 650.3Z"/>
<path fill="#a2b99c" d="M1231.3 502.6C1231.5 499.5 1234 497.2 1236.3 496.3C1238.6 495.5 1242.4 497.2 1245.1 497.6C1247.8 498 1250.5 497.6 1252.6 498.8C1254.7 500.1 1257 502.4 1257.6 505.1C1258.2 507.8 1257.6 512.2 1256.4 515.1C1255.1 518 1252.4 521.6 1250.1 522.6C1247.8 523.7 1245 522.6 1242.6 521.4C1240.2 520.1 1237.5 518.2 1235.6 515.1C1233.7 512 1231.2 505.7 1231.3 502.6Z"/>
<path fill="#a2b99c" d="M1266.4 488.8C1267 487.4 1271.5 488.2 1272.6 490.1C1273.8 492 1273.8 498.6 1273.1 500.1C1272.5 501.5 1270 500.7 1268.9 498.8C1267.7 497 1265.7 490.3 1266.4 488.8Z"/>
<path fill="#a2b99c" d="M1196.3 505.1C1196.7 503.8 1200 505.9 1202.5 507.6C1205 509.3 1208.6 513.4 1211.3 515.1C1214 516.8 1216.7 515.9 1218.8 517.6C1220.9 519.3 1223.6 522.2 1223.8 525.1C1224 528 1221.7 534.3 1220.1 535.1C1218.4 536 1215.9 532.2 1213.8 530.1C1211.7 528 1209.8 525.1 1207.5 522.6C1205.3 520.1 1201.9 518 1200 515.1C1198.2 512.2 1195.9 506.3 1196.3 505.1Z"/>
<path fill="#a2b99c" d="M1331.5 473.1C1331.5 474.6 1330.5 476.6 1329.3 477.7C1328 478.7 1325.7 479.6 1323.9 479.6C1322.2 479.6 1319.9 478.7 1318.6 477.7C1317.4 476.6 1316.4 474.6 1316.4 473.1C1316.4 471.5 1317.4 469.5 1318.6 468.5C1319.9 467.4 1322.2 466.5 1323.9 466.5C1325.7 466.5 1328 467.4 1329.3 468.5C1330.5 469.5 1331.5 471.5 1331.5 473.1Z"/>
<path fill="#a2b99c" d="M1337.5 506.3C1337.5 507.3 1336.8 508.5 1335.8 509.2C1334.9 509.8 1333.3 510.4 1332 510.4C1330.7 510.4 1329 509.8 1328.1 509.2C1327.1 508.5 1326.4 507.3 1326.4 506.3C1326.4 505.4 1327.1 504.2 1328.1 503.5C1329 502.8 1330.7 502.3 1332 502.3C1333.3 502.3 1334.9 502.8 1335.8 503.5C1336.8 504.2 1337.5 505.4 1337.5 506.3Z"/>
<path fill="#a2b99c" d="M1378.8 480.8C1378.8 481.5 1378.4 482.4 1377.9 482.9C1377.4 483.4 1376.5 483.8 1375.8 483.8C1375 483.8 1374.1 483.4 1373.6 482.9C1373.1 482.4 1372.8 481.5 1372.8 480.8C1372.8 480.1 1373.1 479.2 1373.6 478.7C1374.1 478.2 1375 477.8 1375.8 477.8C1376.5 477.8 1377.4 478.2 1377.9 478.7C1378.4 479.2 1378.8 480.1 1378.8 480.8Z"/>
<path fill="#a2b99c" d="M1389 493.8C1389 495 1388.4 496.5 1387.6 497.4C1386.7 498.2 1385.2 498.8 1384 498.8C1382.8 498.8 1381.3 498.2 1380.5 497.4C1379.6 496.5 1379 495 1379 493.8C1379 492.6 1379.6 491.1 1380.5 490.3C1381.3 489.5 1382.8 488.8 1384 488.8C1385.2 488.8 1386.7 489.5 1387.6 490.3C1388.4 491.1 1389 492.6 1389 493.8Z"/>
<path fill="#a2b99c" d="M1349.7 490.8C1349.7 491.3 1349.5 491.9 1349.1 492.2C1348.8 492.6 1348.2 492.8 1347.7 492.8C1347.3 492.8 1346.6 492.6 1346.3 492.2C1346 491.9 1345.7 491.3 1345.7 490.8C1345.7 490.4 1346 489.7 1346.3 489.4C1346.6 489.1 1347.3 488.8 1347.7 488.8C1348.2 488.8 1348.8 489.1 1349.1 489.4C1349.5 489.7 1349.7 490.4 1349.7 490.8Z"/>
<path fill="#a2b99c" d="M1416.3 500.1C1416.3 500.8 1415.9 501.7 1415.4 502.2C1414.9 502.7 1414 503.1 1413.3 503.1C1412.6 503.1 1411.7 502.7 1411.2 502.2C1410.7 501.7 1410.3 500.8 1410.3 500.1C1410.3 499.4 1410.7 498.5 1411.2 498C1411.7 497.5 1412.6 497.1 1413.3 497.1C1414 497.1 1414.9 497.5 1415.4 498C1415.9 498.5 1416.3 499.4 1416.3 500.1Z"/>
<path fill="#a2b99c" d="M1382 513.9C1382 514.7 1381.6 515.7 1381 516.3C1380.4 516.9 1379.3 517.4 1378.5 517.4C1377.7 517.4 1376.6 516.9 1376 516.3C1375.4 515.7 1375 514.7 1375 513.9C1375 513 1375.4 512 1376 511.4C1376.6 510.8 1377.7 510.4 1378.5 510.4C1379.3 510.4 1380.4 510.8 1381 511.4C1381.6 512 1382 513 1382 513.9Z"/>
<path fill="#a2b99c" d="M1396.5 525.1C1396.7 521.8 1397.6 515.9 1399 512.6C1400.5 509.3 1403 505.7 1405.3 505.1C1407.6 504.5 1411.3 506.3 1412.8 508.8C1414.3 511.4 1414.5 516.6 1414.1 520.1C1413.6 523.7 1412.2 527.6 1410.3 530.1C1408.4 532.6 1404.9 534.7 1402.8 535.1C1400.7 535.5 1398.8 534.3 1397.8 532.6C1396.7 531 1396.3 528.5 1396.5 525.1Z"/>
<path fill="#a2b99c" d="M1346.5 523.9C1346.9 522.2 1350.4 520.9 1352.7 521.4C1355 521.8 1359.2 524.5 1360.2 526.4C1361.3 528.2 1360.7 531.8 1359 532.6C1357.3 533.5 1352.3 532.8 1350.2 531.4C1348.1 529.9 1346.1 525.5 1346.5 523.9Z"/>
<path fill="#a2b99c" d="M1370.3 531.4C1370.7 529.6 1374.8 528.3 1377.8 528.1C1380.7 527.9 1385.5 528.7 1387.8 530.1C1390.1 531.5 1391.9 534.7 1391.5 536.4C1391.1 538.1 1388 539.7 1385.3 540.1C1382.6 540.6 1377.8 540.3 1375.3 538.9C1372.8 537.4 1369.8 533.2 1370.3 531.4Z"/>
<path fill="#a2b99c" d="M1377.8 555.2C1379.2 553.1 1384 551.4 1387.8 550.2C1391.5 548.9 1396.5 547.6 1400.3 547.6C1404 547.6 1409.5 548.5 1410.3 550.2C1411.1 551.8 1407.8 555.6 1405.3 557.7C1402.8 559.7 1398.6 561.2 1395.3 562.7C1391.9 564.1 1388 566.4 1385.3 566.4C1382.6 566.4 1380.3 564.5 1379 562.7C1377.8 560.8 1376.3 557.2 1377.8 555.2Z"/>
<path fill="#a2b99c" d="M1300.2 605.2C1300.8 602.5 1304.3 598.5 1306.4 595.2C1308.5 591.9 1310.8 588.5 1312.7 585.2C1314.6 581.9 1314.8 577.5 1317.7 575.2C1320.6 572.9 1326 571 1330.2 571.4C1334.4 571.8 1339.4 575.8 1342.7 577.7C1346.1 579.6 1347.7 582.3 1350.2 582.7C1352.7 583.1 1355.2 581 1357.7 580.2C1360.2 579.4 1363.2 576.9 1365.2 577.7C1367.3 578.5 1368.8 581.9 1370.3 585.2C1371.7 588.5 1372.8 593.5 1374 597.7C1375.3 601.9 1378.4 607.7 1377.8 610.2C1377.1 612.7 1373.2 613.6 1370.3 612.7C1367.3 611.9 1363.6 605.6 1360.2 605.2C1356.9 604.8 1353.1 608.1 1350.2 610.2C1347.3 612.3 1346.1 616.1 1342.7 617.7C1339.4 619.4 1334 620.7 1330.2 620.2C1326.4 619.8 1323.5 616.3 1320.2 615.2C1316.9 614.2 1313.1 614.6 1310.2 614C1307.3 613.4 1304.3 612.9 1302.7 611.5C1301 610 1299.5 607.9 1300.2 605.2Z"/>
<path fill="#a2b99c" d="M1425.3 507.6C1426.6 506.6 1431.6 508.8 1435.3 510.1C1439.1 511.4 1443.7 514.3 1447.8 515.1C1452 515.9 1456.2 515.3 1460.4 515.1C1464.5 514.9 1468.7 513.6 1472.9 513.9C1477.1 514.1 1481.2 514.7 1485.4 516.4C1489.6 518 1493.7 522 1497.9 523.9C1502.1 525.7 1505.6 527.4 1510.4 527.6C1515.2 527.8 1524 519.7 1526.7 525.1C1529.4 530.5 1527.7 552.7 1526.7 560.2C1525.7 567.7 1522.7 566.8 1520.4 570.2C1518.1 573.5 1515.8 577.7 1512.9 580.2C1510 582.7 1506.7 584.8 1502.9 585.2C1499.2 585.6 1494.2 583.9 1490.4 582.7C1486.6 581.4 1483.7 578.9 1480.4 577.7C1477.1 576.4 1473.1 576.4 1470.4 575.2C1467.7 573.9 1465 572.1 1464.1 570.2C1463.3 568.3 1463.5 565.2 1465.4 563.9C1467.2 562.7 1472 562.2 1475.4 562.7C1478.7 563.1 1482.1 566 1485.4 566.4C1488.7 566.8 1492.5 566.6 1495.4 565.2C1498.3 563.7 1502.1 560.6 1502.9 557.7C1503.8 554.7 1502.1 550.2 1500.4 547.6C1498.7 545.1 1495 544.7 1492.9 542.6C1490.8 540.6 1490.4 537.2 1487.9 535.1C1485.4 533 1481.6 531.2 1477.9 530.1C1474.1 529.1 1469.5 529.3 1465.4 528.9C1461.2 528.5 1456.6 527.4 1452.9 527.6C1449.1 527.8 1445.8 530.5 1442.8 530.1C1439.9 529.7 1437.8 527.4 1435.3 525.1C1432.8 522.8 1429.5 519.3 1427.8 516.4C1426.2 513.4 1424.1 508.6 1425.3 507.6Z"/>
<path fill="#a2b99c" d="M1450.4 607.7C1450.8 605.2 1452.9 600 1455.4 597.7C1457.9 595.4 1461.6 594.8 1465.4 594C1469.1 593.1 1473.3 592.7 1477.9 592.7C1482.5 592.7 1488.3 594.4 1492.9 594C1497.5 593.5 1503.8 588.7 1505.4 590.2C1507.1 591.7 1504.6 599 1502.9 602.7C1501.2 606.5 1498.3 610.6 1495.4 612.7C1492.5 614.8 1489.1 615.6 1485.4 615.2C1481.6 614.8 1477.1 610.4 1472.9 610.2C1468.7 610 1463.7 613.6 1460.4 614C1457 614.4 1454.5 613.8 1452.9 612.7C1451.2 611.7 1449.9 610.2 1450.4 607.7Z"/>
<path fill="#a2b99c" d="M1436.6 605.2C1437 603.3 1439.8 599.8 1441.6 599C1443.4 598.1 1446.7 598.8 1447.3 600.2C1448 601.7 1446.7 606 1445.3 607.7C1444 609.5 1440.5 611.1 1439.1 610.7C1437.6 610.3 1436.2 607.2 1436.6 605.2Z"/>
<path fill="#a2b99c" d="M1422.8 621C1422.8 621.9 1422 623.2 1421 623.8C1419.9 624.5 1418 625 1416.6 625C1415.1 625 1413.2 624.5 1412.1 623.8C1411.1 623.2 1410.3 621.9 1410.3 621C1410.3 620 1411.1 618.8 1412.1 618.2C1413.2 617.5 1415.1 617 1416.6 617C1418 617 1419.9 617.5 1421 618.2C1422 618.8 1422.8 620 1422.8 621Z"/>
<path fill="#a2b99c" d="M1433.3 624C1433.3 624.7 1433 625.6 1432.4 626.1C1431.9 626.6 1431 627 1430.3 627C1429.6 627 1428.7 626.6 1428.2 626.1C1427.7 625.6 1427.3 624.7 1427.3 624C1427.3 623.3 1427.7 622.4 1428.2 621.9C1428.7 621.4 1429.6 621 1430.3 621C1431 621 1431.9 621.4 1432.4 621.9C1433 622.4 1433.3 623.3 1433.3 624Z"/>
<path fill="#a2b99c" d="M1494.9 510.1C1494.9 510.6 1494.7 511.2 1494.3 511.5C1494 511.8 1493.4 512.1 1492.9 512.1C1492.4 512.1 1491.8 511.8 1491.5 511.5C1491.2 511.2 1490.9 510.6 1490.9 510.1C1490.9 509.6 1491.2 509 1491.5 508.7C1491.8 508.4 1492.4 508.1 1492.9 508.1C1493.4 508.1 1494 508.4 1494.3 508.7C1494.7 509 1494.9 509.6 1494.9 510.1Z"/>
<path fill="#a2b99c" d="M1482.9 483.8C1483.9 481.7 1489.1 480.9 1492.9 480.1C1496.7 479.2 1500.8 478.8 1505.4 478.8C1510 478.8 1517.5 478.2 1520.4 480.1C1523.4 481.9 1523.8 487.8 1522.9 490.1C1522.1 492.4 1518.8 493.4 1515.4 493.8C1512.1 494.2 1506.3 492.2 1502.9 492.6C1499.6 493 1498.1 496.3 1495.4 496.3C1492.7 496.3 1488.7 494.7 1486.6 492.6C1484.6 490.5 1481.8 485.9 1482.9 483.8Z"/>
<path fill="#a2b99c" d="M110.1 371C110.1 369.5 116.4 365.8 120.1 363.5C123.9 361.2 128.9 360.4 132.6 357.2C136.4 354.1 138.9 348.3 142.6 344.7C146.4 341.2 151 338 155.2 336C159.3 333.9 165.4 331.8 167.7 332.2C170 332.6 170.2 335.5 168.9 338.5C167.7 341.4 163.3 345.8 160.2 349.7C157 353.7 153.5 358.3 150.2 362.2C146.8 366.2 143.5 372.3 140.1 373.5C136.8 374.8 133.5 370 130.1 369.7C126.8 369.5 123.5 372 120.1 372.3C116.8 372.5 110.1 372.5 110.1 371Z"/>
<path fill="#a2b99c" d="M270.3 351C269.3 348.5 272 342.8 274.1 339.7C276.1 336.6 279.3 334.1 282.8 332.2C286.4 330.3 291.6 329.3 295.3 328.4C299.1 327.6 302.8 326.6 305.3 327.2C307.8 327.8 307.4 331.8 310.4 332.2C313.3 332.6 319.1 331.4 322.9 329.7C326.6 328 331.4 324.9 332.9 322.2C334.3 319.5 330 316.8 331.6 313.4C333.3 310.1 339.3 305.3 342.9 302.2C346.4 299 350.4 294.7 352.9 294.7C355.4 294.7 357.3 298.4 357.9 302.2C358.5 305.9 356.7 313 356.7 317.2C356.7 321.4 359 323.9 357.9 327.2C356.9 330.5 352.9 333.9 350.4 337.2C347.9 340.5 345.4 345.6 342.9 347.2C340.4 348.9 336.8 348.9 335.4 347.2C333.9 345.6 336.2 338.5 334.1 337.2C332 336 326.4 338.7 322.9 339.7C319.3 340.8 315.8 342.2 312.9 343.5C309.9 344.7 308.7 346 305.3 347.2C302 348.5 297 349.7 292.8 351C288.7 352.2 284.1 354.7 280.3 354.7C276.6 354.7 271.3 353.5 270.3 351Z"/>
<path fill="#a2b99c" d="M322.6 347.7C322.6 348.3 322.2 348.9 321.6 349.3C321 349.7 319.9 350 319.1 350C318.3 350 317.2 349.7 316.6 349.3C316 348.9 315.6 348.3 315.6 347.7C315.6 347.2 316 346.5 316.6 346.1C317.2 345.8 318.3 345.5 319.1 345.5C319.9 345.5 321 345.8 321.6 346.1C322.2 346.5 322.6 347.2 322.6 347.7Z"/>
<path fill="#a2b99c" d="M302.8 258.4C300.8 257.3 303.3 251.9 305.3 249.6C307.4 247.3 311.6 246.5 315.4 244.6C319.1 242.7 324.1 240.6 327.9 238.3C331.6 236 334.1 233.5 337.9 230.8C341.6 228.1 345.8 224.4 350.4 222.1C355 219.8 360.4 218.3 365.4 217.1C370.4 215.8 376.3 214.8 380.4 214.6C384.6 214.3 390.5 214.8 390.5 215.8C390.5 216.8 384.6 219.1 380.4 220.8C376.3 222.5 370 223.7 365.4 225.8C360.8 227.9 356.7 230.8 352.9 233.3C349.1 235.8 346.6 238.1 342.9 240.8C339.1 243.5 334.5 247.1 330.4 249.6C326.2 252.1 322.4 254.4 317.9 255.9C313.3 257.3 304.9 259.4 302.8 258.4Z"/>
<path fill="#d9a078" d="M380.4 254.6C381.3 252.1 387.1 247.7 390.5 244.6C393.8 241.5 397.5 237.5 400.5 235.8C403.4 234.2 407.1 233.7 408 234.6C408.8 235.4 407.6 238.1 405.5 240.8C403.4 243.5 398.8 247.7 395.5 250.8C392.1 254 387.9 259 385.4 259.6C382.9 260.2 379.6 257.1 380.4 254.6Z"/>
<path fill="#a2b99c" d="M487.6 362.2C486.8 360.4 488 354.7 490.1 352.2C492.2 349.7 495.9 348.7 500.1 347.2C504.3 345.8 510.5 345.1 515.1 343.5C519.7 341.8 523.5 339.1 527.6 337.2C531.8 335.3 535.6 333.9 540.2 332.2C544.7 330.5 550.6 329.7 555.2 327.2C559.8 324.7 563.5 319.5 567.7 317.2C571.9 314.9 576.4 313.4 580.2 313.4C584 313.4 588.1 315.3 590.2 317.2C592.3 319.1 593.6 322.2 592.7 324.7C591.9 327.2 588.5 330.1 585.2 332.2C581.9 334.3 576.4 335.5 572.7 337.2C568.9 338.9 565.6 340.5 562.7 342.2C559.8 343.9 557.3 345.1 555.2 347.2C553.1 349.3 551.4 352.4 550.2 354.7C548.9 357 549.3 361.4 547.7 361C546 360.6 543.1 354.1 540.2 352.2C537.2 350.3 533.5 349.1 530.1 349.7C526.8 350.3 523.9 354.3 520.1 356C516.4 357.6 511.8 358.5 507.6 359.7C503.4 361 498.4 363.1 495.1 363.5C491.8 363.9 488.4 364.1 487.6 362.2Z"/>
<path fill="#a2b99c" d="M511.4 417.3C512.2 412.9 517 409 520.1 404.8C523.3 400.6 527.6 396.4 530.1 392.3C532.6 388.1 533.1 384.3 535.1 379.8C537.2 375.2 539.7 366.4 542.7 364.7C545.6 363.1 549.7 370.2 552.7 369.7C555.6 369.3 557.7 365.2 560.2 362.2C562.7 359.3 565.2 354.5 567.7 352.2C570.2 349.9 571.9 348.9 575.2 348.5C578.5 348.1 583.5 350.3 587.7 349.7C591.9 349.1 596.1 346.4 600.2 344.7C604.4 343 608.8 341.2 612.7 339.7C616.7 338.2 621.3 335.5 624 336C626.7 336.4 628.8 340.1 629 342.2C629.2 344.3 628 347 625.3 348.5C622.5 349.9 616.9 349.9 612.7 351C608.6 352 604 352.9 600.2 354.7C596.5 356.6 593.1 359.7 590.2 362.2C587.3 364.7 585.2 366.8 582.7 369.7C580.2 372.7 578.1 376.4 575.2 379.8C572.3 383.1 568.5 386.4 565.2 389.8C561.8 393.1 558.5 396 555.2 399.8C551.8 403.5 548.5 408.5 545.2 412.3C541.8 416.1 537.6 419.2 535.1 422.3C532.6 425.4 533.5 429.6 530.1 431.1C526.8 432.5 518.2 433.4 515.1 431.1C512 428.8 510.5 421.7 511.4 417.3Z"/>
<path fill="#a2b99c" d="M597.7 379.8C597.5 377.8 600.6 372.3 602.7 369.7C604.8 367.2 608.4 364.7 610.2 364.7C612.1 364.7 612.7 368.5 614 369.7C615.2 371 618.4 371.2 617.7 372.3C617.1 373.3 612.5 374.4 610.2 376C607.9 377.6 606.1 381.1 604 381.8C601.9 382.4 597.9 381.8 597.7 379.8Z"/>
<path fill="#a2b99c" d="M517.6 379.8C518.5 378.3 522.8 375 525.1 374.3C527.4 373.5 531 374.1 531.4 375.3C531.8 376.4 529.5 379.8 527.6 381C525.8 382.3 521.8 383 520.1 382.8C518.5 382.6 516.8 381.2 517.6 379.8Z"/>
<path fill="#a2b99c" d="M478.8 360.2C478.8 361 478.5 362 478.1 362.5C477.7 363.1 476.9 363.5 476.3 363.5C475.7 363.5 475 363.1 474.6 362.5C474.1 362 473.8 361 473.8 360.2C473.8 359.5 474.1 358.5 474.6 357.9C475 357.4 475.7 357 476.3 357C476.9 357 477.7 357.4 478.1 357.9C478.5 358.5 478.8 359.5 478.8 360.2Z"/>
<path fill="#d9a078" d="M499.6 336C499.8 334.4 504.2 331.7 507.6 329.7C511 327.7 516.4 325.4 520.1 324.2C523.9 322.9 528.7 321.7 530.1 322.2C531.6 322.7 530.8 325.3 528.9 327.2C527 329.1 522.6 331.4 518.9 333.5C515.1 335.5 509.6 338.8 506.4 339.2C503.1 339.6 499.4 337.5 499.6 336Z"/>
<path fill="#d9a078" d="M555.2 317.2C555.2 316.1 560.2 313.3 562.7 310.9C565.2 308.5 568.3 303.7 570.2 302.7C572.1 301.6 573.7 303.1 573.9 304.7C574.2 306.3 573.3 310 571.4 312.2C569.6 314.3 565.4 316.8 562.7 317.7C560 318.5 555.2 318.3 555.2 317.2Z"/>
<path fill="#d9a078" d="M605.2 292.7C606.5 291.4 611.2 288.6 614 286.6C616.8 284.7 621 281.7 622.3 281.1C623.5 280.6 622.9 282.1 621.5 283.4C620.1 284.7 616.5 287.4 614 289.1C611.5 290.9 607.9 293.6 606.5 294.2C605 294.7 604 293.9 605.2 292.7Z"/>
<path fill="#d9a078" d="M588 302.7C588 303 587.6 303.5 587.2 303.7C586.7 304 585.9 304.2 585.2 304.2C584.6 304.2 583.7 304 583.3 303.7C582.8 303.5 582.5 303 582.5 302.7C582.5 302.3 582.8 301.9 583.3 301.6C583.7 301.4 584.6 301.2 585.2 301.2C585.9 301.2 586.7 301.4 587.2 301.6C587.6 301.9 588 302.3 588 302.7Z"/>
<path fill="#d9a078" d="M660.8 227.1C661 225.8 665.9 223.5 667.8 223.3C669.7 223.1 672.5 224.6 672.3 225.8C672.1 227.1 668.5 230.6 666.6 230.8C664.6 231 660.6 228.3 660.8 227.1Z"/>
<path fill="#d9a078" d="M740.4 206C740.4 206.3 740.1 206.6 739.7 206.8C739.3 206.9 738.5 207 737.9 207C737.3 207 736.5 206.9 736.1 206.8C735.7 206.6 735.4 206.3 735.4 206C735.4 205.8 735.7 205.5 736.1 205.3C736.5 205.2 737.3 205 737.9 205C738.5 205 739.3 205.2 739.7 205.3C740.1 205.5 740.4 205.8 740.4 206Z"/>
<path fill="#a2b99c" d="M788 219.6C788.8 217.5 793.4 216.2 795.5 217.1C797.6 217.9 797.8 223.1 800.5 224.6C803.2 226 809.9 222.1 811.7 225.8C813.6 229.6 813.2 244 811.7 247.1C810.3 250.2 805.7 245.8 803 244.6C800.3 243.3 797.6 242.1 795.5 239.6C793.4 237.1 791.7 232.9 790.5 229.6C789.2 226.2 787.1 221.6 788 219.6Z"/>
<path fill="#a2b99c" d="M770.4 254.6C772.3 252.5 777.1 250 780.5 249.6C783.8 249.2 788.4 250.4 790.5 252.1C792.5 253.8 793.8 257.1 793 259.6C792.1 262.1 788.4 265.7 785.5 267.1C782.5 268.6 778.2 269.2 775.4 268.4C772.7 267.5 770 264.4 769.2 262.1C768.4 259.8 768.6 256.7 770.4 254.6Z"/>
<path fill="#a2b99c" d="M752.9 254.6C753.5 253.4 756.9 252.5 757.9 253.4C759 254.2 759.8 258.4 759.2 259.6C758.5 260.9 755.2 261.7 754.2 260.9C753.1 260 752.3 255.9 752.9 254.6Z"/>
<path fill="#a2b99c" d="M755.4 281.6C755.4 282.6 754.9 283.8 754.1 284.5C753.3 285.1 752 285.6 750.9 285.6C749.9 285.6 748.5 285.1 747.7 284.5C747 283.8 746.4 282.6 746.4 281.6C746.4 280.7 747 279.5 747.7 278.8C748.5 278.1 749.9 277.6 750.9 277.6C752 277.6 753.3 278.1 754.1 278.8C754.9 279.5 755.4 280.7 755.4 281.6Z"/>
<path fill="#a2b99c" d="M731.6 248.8C731.6 249.6 731.1 250.6 730.4 251.1C729.7 251.7 728.4 252.1 727.4 252.1C726.4 252.1 725.1 251.7 724.4 251.1C723.7 250.6 723.1 249.6 723.1 248.8C723.1 248.1 723.7 247.1 724.4 246.5C725.1 246 726.4 245.6 727.4 245.6C728.4 245.6 729.7 246 730.4 246.5C731.1 247.1 731.6 248.1 731.6 248.8Z"/>
<path fill="#a2b99c" d="M670.3 257.9C670.3 258.2 670 258.7 669.6 258.9C669.2 259.2 668.4 259.4 667.8 259.4C667.2 259.4 666.5 259.2 666 258.9C665.6 258.7 665.3 258.2 665.3 257.9C665.3 257.5 665.6 257 666 256.8C666.5 256.5 667.2 256.4 667.8 256.4C668.4 256.4 669.2 256.5 669.6 256.8C670 257 670.3 257.5 670.3 257.9Z"/>
<path fill="#a2b99c" d="M771.7 282.1C772.7 280.5 778.8 279.8 780.5 280.9C782.1 281.9 782.7 286.7 781.7 288.4C780.7 290.1 775.9 291.9 774.2 290.9C772.5 289.9 770.6 283.8 771.7 282.1Z"/>
<path fill="#a2b99c" d="M1001.5 379.8C1001.9 378.1 1008.2 378.1 1010.3 376C1012.3 373.9 1012.1 368.9 1014 367.2C1015.9 365.6 1019.6 365.2 1021.5 366C1023.4 366.8 1025.1 369.5 1025.3 372.3C1025.5 375 1024.4 379.3 1022.8 382.3C1021.1 385.2 1017.8 389.1 1015.3 389.8C1012.8 390.4 1010 387.7 1007.7 386C1005.5 384.3 1001.1 381.4 1001.5 379.8Z"/>
<path fill="#a2b99c" d="M808.7 279.6C810.2 277.8 815 278 817.5 278.4C820 278.8 822.9 280.5 823.8 282.1C824.6 283.8 824 287.1 822.5 288.4C821.1 289.7 817.3 289.9 815 290.1C812.7 290.4 809.8 291.4 808.7 289.6C807.7 287.9 807.3 281.5 808.7 279.6Z"/>
<path fill="#d9a078" d="M873.8 309.7C874.3 309.5 876.3 310.5 877.6 312.2C878.8 313.8 880.2 317.6 881.3 319.7C882.5 321.8 884.5 323.9 884.6 324.7C884.7 325.5 883.3 325.7 882.1 324.7C880.9 323.6 878.8 320.3 877.6 318.4C876.3 316.6 875.2 314.9 874.6 313.4C874 312 873.3 309.9 873.8 309.7Z"/>
<path fill="#a2b99c" d="M907.1 336C907.5 334.1 909.5 333.2 910.1 334.7C910.7 336.2 911 342.8 910.6 344.7C910.2 346.6 908.2 347.4 907.6 346C907 344.5 906.7 337.8 907.1 336Z"/>
<path fill="#a2b99c" d="M808.7 232.1C809.4 230.9 812.1 233.1 812.5 234.6C812.9 236 811.9 239.7 811.3 240.8C810.6 242 809.2 243 808.7 241.6C808.3 240.1 808.1 233.2 808.7 232.1Z"/>
<path fill="#a2b99c" d="M1246.3 233.3C1246.6 232.6 1251.1 231.9 1253.9 232.1C1256.6 232.3 1261.4 233.7 1262.6 234.6C1263.9 235.4 1263 236.7 1261.4 237.1C1259.7 237.4 1255.1 237.2 1252.6 236.6C1250.1 236 1246.1 234.1 1246.3 233.3Z"/>
<path fill="#a2b99c" d="M1407.3 350.2C1407.3 350.7 1407 351.3 1406.6 351.6C1406.1 352 1405.4 352.2 1404.8 352.2C1404.2 352.2 1403.4 352 1403 351.6C1402.6 351.3 1402.3 350.7 1402.3 350.2C1402.3 349.8 1402.6 349.1 1403 348.8C1403.4 348.5 1404.2 348.2 1404.8 348.2C1405.4 348.2 1406.1 348.5 1406.6 348.8C1407 349.1 1407.3 349.8 1407.3 350.2Z"/>
<path fill="#d9a078" d="M222.5 688C222.9 687.6 226.7 688.6 230 689.2C233.3 689.9 237.5 690.1 242.5 691.8C247.5 693.4 254.6 697.2 260 699.2C265.4 701.3 274.2 703.2 275 704.2C275.8 705.3 267.5 704.9 265 705.5C262.5 706.1 258.8 706.4 260 708C261.2 709.6 272.5 714.4 272.5 715C272.5 715.6 264.2 713.3 260 711.8C255.8 710.2 251.7 707.8 247.5 705.5C243.3 703.2 238.3 700.3 235 698C231.7 695.7 229.6 693.4 227.5 691.8C225.4 690.1 222.1 688.4 222.5 688Z"/>
<path fill="#a2b99c" d="M273.8 690C274.2 689 277.3 688.1 280 689.2C282.7 690.4 286.7 694.2 290 696.8C293.3 699.2 299 702.7 300 704.2C301 705.8 298.8 706.6 296.2 706C293.8 705.4 288.1 702.3 285 700.5C281.9 698.7 279.4 696.8 277.5 695C275.6 693.2 273.3 691 273.8 690Z"/>
<path fill="#a2b99c" d="M198.8 731.8C199.2 730.9 202.3 730.3 205 731.8C207.7 733.2 211 737.6 215 740.5C219 743.4 227.1 747.6 228.8 749.2C230.4 750.9 227.7 751.3 225 750.5C222.3 749.7 216.2 746.5 212.5 744.2C208.8 742 204.8 738.8 202.5 736.8C200.2 734.7 198.3 732.6 198.8 731.8Z"/>
<path fill="#a2b99c" d="M216.2 735.5C216.5 735.1 219.7 735.4 221.2 736.2C222.8 737.1 225.7 740.1 225.5 740.5C225.3 740.9 221.5 739.6 220 738.8C218.5 737.9 216 735.9 216.2 735.5Z"/>
<path fill="#a2b99c" d="M268 747.5C268 746.9 270.1 746.5 273.8 748C277.4 749.5 288.3 755.4 290 756.8C291.7 758.1 286.5 756.8 283.8 756C281 755.2 276.4 753.2 273.8 751.8C271.1 750.3 268 748.1 268 747.5Z"/>
<path fill="#a2b99c" d="M468.8 725.5C469.4 724.7 475.6 724.9 480 725.5C484.4 726.1 490 727.4 495 729.2C500 731.1 505.8 734.7 510 736.8C514.2 738.8 518.3 739.9 520 741.8C521.7 743.6 522.5 747.8 520 748C517.5 748.2 510 744.9 505 743C500 741.1 494.8 738.8 490 736.8C485.2 734.7 479.8 732.4 476.2 730.5C472.7 728.6 468.1 726.3 468.8 725.5Z"/>
<path fill="#d9a078" d="M607.5 686.8C612.5 685.1 643.1 685.7 650 686.8C656.9 687.8 650.8 691.5 648.8 693C646.7 694.5 640.6 694.5 637.5 695.5C634.4 696.5 632.9 699 630 699.2C627.1 699.5 623.8 698.8 620 696.8C616.2 694.7 602.5 688.4 607.5 686.8Z"/>
<path fill="#d9a078" d="M671.5 706C671.5 706.5 671.2 707.1 670.9 707.4C670.6 707.7 670 708 669.5 708C669 708 668.4 707.7 668.1 707.4C667.8 707.1 667.5 706.5 667.5 706C667.5 705.5 667.8 704.9 668.1 704.6C668.4 704.3 669 704 669.5 704C670 704 670.6 704.3 670.9 704.6C671.2 704.9 671.5 705.5 671.5 706Z"/>
<path fill="#a2b99c" d="M557.5 686.8C559.4 685.3 569.8 685.7 572.5 686.8C575.2 687.8 574.6 690.9 573.8 693C572.9 695.1 569.6 698.8 567.5 699.2C565.4 699.7 562.9 697.6 561.2 695.5C559.6 693.4 555.6 688.2 557.5 686.8Z"/>
<path fill="#a2b99c" d="M587 691C587.4 690.2 591.2 690.7 592.5 691.8C593.8 692.8 595.4 696.7 595 697.5C594.6 698.3 591.3 697.8 590 696.8C588.7 695.7 586.6 691.8 587 691Z"/>
<path fill="#a2b99c" d="M520 744.2C520.4 742.4 524.6 740.3 527.5 740.5C530.4 740.7 534.2 743 537.5 745.5C540.8 748 544.6 752.8 547.5 755.5C550.4 758.2 555 760.5 555 761.8C555 763 550.8 763.8 547.5 763C544.2 762.2 538.8 758.6 535 756.8C531.2 754.9 527.5 753.8 525 751.8C522.5 749.7 519.6 746.1 520 744.2Z"/>
<path fill="#a2b99c" d="M737.5 686.8C738.3 684.9 746.2 685.3 750 686.8C753.8 688.2 756.7 692.8 760 695.5C763.3 698.2 766.7 700.3 770 703C773.3 705.7 778.5 709.7 780 711.8C781.5 713.8 780.8 715.5 778.8 715.5C776.7 715.5 771.5 713.4 767.5 711.8C763.5 710.1 758.8 707.8 755 705.5C751.2 703.2 747.9 701.1 745 698C742.1 694.9 736.7 688.6 737.5 686.8Z"/>
<path fill="#a2b99c" d="M795 689.2C794.2 687.2 797.9 688.6 800 690.5C802.1 692.4 805 697.2 807.5 700.5C810 703.8 812.9 709.2 815 710.5C817.1 711.8 818.8 707.6 820 708C821.2 708.4 820.8 710.5 822.5 713C824.2 715.5 827.9 720.3 830 723C832.1 725.7 834.8 727.8 835 729.2C835.2 730.7 833.3 732.8 831.2 731.8C829.2 730.7 825 725.3 822.5 723C820 720.7 818.3 718.2 816.2 718C814.2 717.8 812.7 721.5 810 721.8C807.3 722 802.2 720.5 800 719.2C797.8 718 795.8 715.5 797 714.2C798.2 713 806.2 713.6 807.5 711.8C808.8 709.9 807.1 706.8 805 703C802.9 699.2 795.8 691.3 795 689.2Z"/>
<path fill="#a2b99c" d="M856.2 695.5C855.8 693.6 859.4 692.4 861.2 693C863.1 693.6 865 698.2 867.5 699.2C870 700.3 875.4 698.4 876.2 699.2C877.1 700.1 874.6 703.4 872.5 704.2C870.4 705.1 866.5 705.7 863.8 704.2C861 702.8 856.7 697.4 856.2 695.5Z"/>
<path fill="#a2b99c" d="M891.2 705.5C890.8 702.8 895.4 698.6 897.5 696.8C899.6 694.9 902.5 693.2 903.8 694.2C905 695.3 904 700.7 905 703C906 705.3 909.2 705.5 910 708C910.8 710.5 911.7 717.2 910 718C908.3 718.8 903.1 715.1 900 713C896.9 710.9 891.7 708.2 891.2 705.5Z"/>
<path fill="#a2b99c" d="M851.2 826.8C851.7 826 854.5 825.2 856.2 825.5C858 825.8 861.4 827.5 862 828.5C862.6 829.5 861.4 831.5 860 831.8C858.6 832 855.2 830.8 853.8 830C852.3 829.2 850.8 827.5 851.2 826.8Z"/>
<path fill="#a2b99c" d="M622 810C622.4 808.6 625.3 808.1 626.2 809.2C627.2 810.4 627.9 815.4 627.5 816.8C627.1 818.1 624.7 818.6 623.8 817.5C622.8 816.4 621.6 811.4 622 810Z"/>
<path fill="#a2b99c" d="M647.5 835C647.9 834.4 651 833.5 652.5 834.2C654 835 656.7 838.6 656.2 839.2C655.8 839.9 651.5 838.7 650 838C648.5 837.3 647.1 835.6 647.5 835Z"/>
<path fill="#d9a078" d="M987.5 686.8C994 685.9 1022.3 685.9 1028.8 686.8C1035.2 687.6 1028.1 690.5 1026.2 691.8C1024.4 693 1020.2 693.4 1017.5 694.2C1014.8 695.1 1011.7 695.4 1010 696.8C1008.3 698.1 1008.5 702.3 1007.5 702.5C1006.5 702.7 1005.8 699 1003.8 698C1001.7 697 997.3 697.8 995 696.8C992.7 695.7 991.2 693.4 990 691.8C988.8 690.1 981 687.6 987.5 686.8Z"/>
<path fill="#a2b99c" d="M910 701.8C911.2 698.8 915.2 702.4 917.5 704.2C919.8 706.1 921.2 709.9 923.8 713C926.2 716.1 929.4 720.3 932.5 723C935.6 725.7 941 727.2 942.5 729.2C944 731.2 942.9 734.4 941.2 735C939.6 735.6 936 734.2 932.5 733C929 731.8 923.8 729.9 920 728C916.2 726.1 911.7 726.1 910 721.8C908.3 717.4 908.8 704.7 910 701.8Z"/>
<path fill="#a2b99c" d="M1132 695.5C1131.9 694.3 1134.9 691.5 1136.2 691C1137.6 690.5 1139.9 691.3 1140 692.5C1140.1 693.7 1138.3 697.5 1137 698C1135.7 698.5 1132.1 696.7 1132 695.5Z"/>
<path fill="#a2b99c" d="M1186.2 763C1186.7 761.3 1190 760.1 1192.5 760C1195 759.9 1200.1 761.2 1201.2 762.5C1202.4 763.8 1201.4 766.8 1199.5 768C1197.6 769.2 1192.2 770.8 1190 770C1187.8 769.2 1185.8 764.7 1186.2 763Z"/>
<path fill="#d9a078" d="M1420 658.8C1424.6 657.3 1445.4 656.9 1450 658.8C1454.6 660.6 1449.4 666.9 1447.5 670C1445.6 673.1 1441.7 677.1 1438.8 677.5C1435.8 677.9 1432.7 674.2 1430 672.5C1427.3 670.8 1424.2 669.8 1422.5 667.5C1420.8 665.2 1415.4 660.2 1420 658.8Z"/>
<path fill="#a2b99c" d="M1308.8 756.2C1308.8 755 1314 751.8 1317.5 750.5C1321 749.2 1326.5 749.2 1330 748.8C1333.5 748.3 1338.8 747.2 1338.8 748C1338.8 748.8 1333.5 752.1 1330 753.8C1326.5 755.4 1321 757.6 1317.5 758C1314 758.4 1308.8 757.5 1308.8 756.2Z"/>
<path fill="#a2b99c" d="M1256.2 775.5C1256.8 775 1261.6 774.2 1262 774.5C1262.4 774.8 1259.7 777.3 1258.8 777.5C1257.8 777.7 1255.7 776 1256.2 775.5Z"/>
<path fill="#a2b99c" d="M1328.8 732.5C1328.8 731.9 1332.7 728.5 1335 727.5C1337.3 726.5 1342.5 725.6 1342.5 726.2C1342.5 726.9 1337.3 730.2 1335 731.2C1332.7 732.3 1328.8 733.1 1328.8 732.5Z"/>
<path fill="#a2b99c" d="M432.9 377.2C433.2 376 435.8 373.7 437.4 372.1C439 370.4 441.3 368.1 442.6 367.6C443.8 367 445.3 367.8 445.1 368.8C444.9 369.9 442.8 372.3 441.3 374C439.8 375.7 437.5 378.6 436.2 379.1C434.8 379.6 432.7 378.4 432.9 377.2Z"/>
<path fill="#a2b99c" d="M1229.1 330.3C1229.1 328.4 1229.9 326.6 1231 325.8C1232.2 324.9 1234.4 324.6 1236.2 325.1C1237.9 325.7 1239.6 327.1 1241.3 329C1243 330.9 1244.3 335.8 1246.4 336.7C1248.5 337.5 1251.5 335.2 1254.1 334.1C1256.7 333 1259.7 331.5 1261.8 330.3C1263.9 329 1265.2 327.9 1266.9 326.4C1268.6 324.9 1271.2 323.4 1272.1 321.3C1272.9 319.1 1272.5 316.4 1272.1 313.6C1271.6 310.8 1269.1 306.4 1269.5 304.6C1269.9 302.8 1272.5 302.3 1274.6 302.7C1276.8 303.1 1279.3 305.6 1282.3 307.2C1285.3 308.8 1289.8 310.6 1292.6 312.3C1295.3 314 1297.3 314.9 1299 317.4C1300.7 320 1302 324.5 1302.8 327.7C1303.7 330.9 1304.3 334.5 1304.1 336.7C1303.9 338.8 1300.9 339 1301.5 340.5C1302.2 342 1306 344.1 1307.9 345.6C1309.9 347.1 1312.6 348.3 1313.1 349.5C1313.5 350.7 1312.6 351.7 1310.5 352.7C1308.4 353.7 1303.7 354.7 1300.3 355.3C1296.8 355.8 1293.4 355.6 1290 355.9C1286.6 356.2 1283.6 356.8 1279.7 357.2C1275.9 357.6 1270.8 358.5 1266.9 358.5C1263.1 358.5 1260.1 357.8 1256.7 357.2C1253.2 356.5 1249.4 355.9 1246.4 354.6C1243.4 353.3 1240.6 351.4 1238.7 349.5C1236.8 347.6 1236.2 345.2 1234.9 343.1C1233.6 340.9 1232 338.8 1231 336.7C1230.1 334.5 1229.1 332.1 1229.1 330.3Z"/>
<path fill="#a2b99c" d="M1205.4 352.1C1205.4 349.7 1207.5 347 1209.2 345.6C1210.9 344.3 1213.3 343.9 1215.6 343.7C1218 343.5 1221.2 343.8 1223.3 344.4C1225.5 344.9 1226.5 345.6 1228.5 346.9C1230.4 348.2 1233.2 349.9 1234.9 352.1C1236.6 354.2 1238.3 357.2 1238.7 359.7C1239.1 362.3 1238.5 365.7 1237.4 367.4C1236.4 369.1 1234.2 369.7 1232.3 370C1230.4 370.3 1228 369.1 1225.9 369.4C1223.8 369.6 1221.2 370.1 1219.5 371.3C1217.8 372.5 1216.2 374.3 1215.6 376.4C1215.1 378.5 1217.4 382.8 1216.3 384.1C1215.2 385.4 1211.2 384.7 1209.2 384.1C1207.3 383.5 1205.6 381.8 1204.7 380.3C1203.9 378.8 1203.6 376.4 1204.1 375.1C1204.6 373.8 1206.3 373.2 1207.9 372.6C1209.6 371.9 1213 372.8 1213.7 371.3C1214.5 369.8 1213.2 365.5 1212.4 363.6C1211.7 361.7 1210.4 361.7 1209.2 359.7C1208.1 357.8 1205.4 354.4 1205.4 352.1Z"/>
<path fill="#d9a078" d="M1305.4 310.4C1305.6 310 1307.3 310.5 1308.6 311C1309.9 311.6 1311.6 312.6 1313.1 313.6C1314.6 314.6 1316.9 315.9 1317.6 316.8C1318.2 317.6 1317.9 318.7 1316.9 318.7C1316 318.7 1313.4 317.6 1311.8 316.8C1310.2 315.9 1308.4 314.7 1307.3 313.6C1306.2 312.5 1305.2 310.8 1305.4 310.4Z"/>
<path fill="#d9a078" d="M1256.7 385.4C1256.8 384.3 1258.6 384.7 1259.9 384.1C1261.2 383.5 1263.2 382.5 1264.4 381.5C1265.5 380.6 1266.4 378.5 1266.9 378.3C1267.5 378.1 1268 379.3 1267.6 380.3C1267.1 381.2 1265 382.6 1264.4 384.1C1263.7 385.6 1264.6 388.2 1263.7 389.2C1262.9 390.3 1260.4 391.2 1259.2 390.5C1258.1 389.9 1256.6 386.5 1256.7 385.4Z"/>
<path fill="#d9a078" d="M1222.6 486.8C1222.1 484.9 1225 480.7 1226.8 478.5C1228.6 476.3 1231 475.4 1233.5 473.5C1236 471.5 1239.1 469 1241.8 466.8C1244.6 464.6 1247.7 461.9 1250.2 460.1C1252.7 458.3 1254.6 456.5 1256.9 456C1259.1 455.4 1261.3 456.4 1263.5 456.8C1265.8 457.2 1268 457.4 1270.2 458.5C1272.4 459.6 1275.5 461.5 1276.9 463.5C1278.3 465.4 1279.1 468.2 1278.6 470.2C1278 472.1 1274.9 473.5 1273.6 475.2C1272.2 476.8 1271.6 480.4 1270.2 480.2C1268.8 479.9 1266.9 475 1265.2 473.5C1263.5 472 1261.9 471 1260.2 471C1258.5 471 1256.9 473.2 1255.2 473.5C1253.5 473.8 1251.9 472.7 1250.2 472.7C1248.5 472.7 1246.1 472.2 1245.2 473.5C1244.2 474.7 1243.8 478.2 1244.3 480.2C1244.9 482.1 1249.2 483.8 1248.5 485.2C1247.8 486.6 1243.2 487.7 1240.2 488.5C1237.1 489.3 1233.1 490.5 1230.2 490.2C1227.2 489.9 1223.2 488.8 1222.6 486.8Z"/>
<path fill="#d9a078" d="M1268.5 411.7C1269.1 410.1 1273.6 411.7 1275.2 413.4C1276.9 415.1 1277.5 419 1278.6 421.7C1279.7 424.5 1280 428.1 1281.9 430.1C1283.9 432 1287.2 432.3 1290.3 433.4C1293.3 434.5 1296.4 436.1 1300.3 436.8C1304.2 437.5 1309.2 437.9 1313.6 437.6C1318.1 437.3 1323.9 435 1327 435.1C1330 435.2 1330.3 436.5 1332 438.4C1333.7 440.4 1335.7 444.3 1337 446.8C1338.2 449.3 1340.1 451.9 1339.5 453.5C1338.9 455 1336.3 455.1 1333.7 456C1331 456.8 1326.7 457.5 1323.6 458.5C1320.6 459.4 1318.1 460.7 1315.3 461.8C1312.5 462.9 1309.4 464.9 1306.9 465.1C1304.4 465.4 1302.2 464.6 1300.3 463.5C1298.3 462.4 1296.9 460.1 1295.3 458.5C1293.6 456.8 1291.9 455.4 1290.3 453.5C1288.6 451.5 1287.2 449 1285.2 446.8C1283.3 444.6 1280.5 442.3 1278.6 440.1C1276.6 437.9 1274.7 436.2 1273.6 433.4C1272.4 430.6 1272.7 427 1271.9 423.4C1271.1 419.8 1268 413.4 1268.5 411.7Z"/>
<path fill="#a87834" d="M63.8 472.6C64.6 471.2 65.7 469.4 70.1 468.8C74.4 468.2 86.5 468.4 90.1 468.8C93.6 469.2 93 470.1 91.3 471.3C89.7 472.6 84.4 475.3 80.1 476.3C75.7 477.3 67.8 477.7 65 477.1C62.3 476.4 63 473.9 63.8 472.6Z"/>
<path fill="#a87834" d="M133.9 463.8C136.6 463 143.3 462.3 150.2 462.5C157 462.7 170.6 463.8 175.2 465C179.8 466.3 180.2 468.7 177.7 470.1C175.2 471.4 166.4 472.8 160.2 473.1C153.9 473.3 144.5 472.2 140.1 471.3C135.8 470.4 134.9 468.8 133.9 467.5C132.8 466.3 131.2 464.6 133.9 463.8Z"/>
<path fill="#a87834" d="M202.7 463.8C205.6 462.9 215.4 462.2 220.2 462C225 461.8 229.8 461.6 231.5 462.5C233.2 463.5 233.4 466.3 230.3 467.5C227.1 468.8 217.3 470.1 212.7 470.1C208.1 470.1 204.4 468.6 202.7 467.5C201 466.5 199.8 464.7 202.7 463.8Z"/>
<path fill="#549284" d="M325.4 450C326.4 448.8 329.3 448.1 330.4 448.8C331.4 449.4 332 452.1 331.6 453.8C331.2 455.4 329.1 458.4 327.9 458.8C326.6 459.2 324.5 457.7 324.1 456.3C323.7 454.8 324.3 451.3 325.4 450Z"/>
<path fill="#549284" d="M78.8 487.1C80.1 485.9 86 484.1 88.8 483.8C91.6 483.6 95.4 484.5 95.6 485.6C95.8 486.6 92.5 489.2 90.1 490.1C87.7 490.9 83.2 491.1 81.3 490.6C79.4 490.1 77.6 488.2 78.8 487.1Z"/>
<path fill="#549284" d="M251.5 517.6C252.8 516.4 259.2 516.1 262.8 516.4C266.3 516.6 271.6 517.7 272.8 518.9C274.1 520 273.2 522.3 270.3 523.1C267.4 524 258.4 524.8 255.3 523.9C252.2 522.9 250.3 518.9 251.5 517.6Z"/>
<path fill="#549284" d="M286.6 515.1C288.9 514.6 295.7 514.7 300.3 515.1C304.9 515.5 312 516.6 314.1 517.6C316.2 518.7 316 520.9 312.9 521.4C309.7 521.9 299.7 521.2 295.3 520.6C291 520.1 288 519 286.6 518.1C285.1 517.2 284.3 515.6 286.6 515.1Z"/>
<path fill="#549284" d="M110.6 486.3C110.6 484.6 112.7 481.9 115.1 480.8C117.5 479.8 122.7 479.4 125.1 480.1C127.5 480.8 129.6 483.3 129.6 485.1C129.6 486.9 127.5 489.8 125.1 490.8C122.7 491.9 117.5 492.1 115.1 491.3C112.7 490.6 110.6 488.1 110.6 486.3Z"/>
<path fill="#549284" d="M148.1 482.6C148.1 483.4 147.7 484.5 147.1 485C146.5 485.6 145.5 486.1 144.6 486.1C143.8 486.1 142.7 485.6 142.2 485C141.6 484.5 141.1 483.4 141.1 482.6C141.1 481.7 141.6 480.7 142.2 480.1C142.7 479.5 143.8 479.1 144.6 479.1C145.5 479.1 146.5 479.5 147.1 480.1C147.7 480.7 148.1 481.7 148.1 482.6Z"/>
<path fill="#549284" d="M137.6 491.3C138.9 489.4 143.1 487.6 147.6 486.3C152.2 485.1 159.7 484.7 165.2 483.8C170.6 483 176 483 180.2 481.3C184.4 479.6 187.3 474.8 190.2 473.8C193.1 472.8 196 473.6 197.7 475.1C199.4 476.5 201 480.3 200.2 482.6C199.4 484.9 195.6 487.2 192.7 488.8C189.8 490.5 185.2 490.9 182.7 492.6C180.2 494.2 180.6 497.4 177.7 498.8C174.8 500.3 169.8 500.9 165.2 501.3C160.6 501.8 154.3 502 150.2 501.3C146 500.7 142.2 499.3 140.1 497.6C138.1 495.9 136.4 493.2 137.6 491.3Z"/>
<path fill="#549284" d="M199 493.8C199.6 492.6 202.4 491 204 491.3C205.5 491.6 208 494.1 208.2 495.6C208.4 497 206.6 499.5 205.2 500.1C203.9 500.6 201.3 499.9 200.2 498.8C199.2 497.8 198.3 495.1 199 493.8Z"/>
<path fill="#549284" d="M115.1 501.3C117.4 500.1 126.8 498.6 130.1 498.8C133.5 499 135.5 501.5 135.1 502.6C134.7 503.6 130.8 504.5 127.6 505.1C124.5 505.7 118.4 507 116.4 506.3C114.3 505.7 112.8 502.6 115.1 501.3Z"/>
<path fill="#549284" d="M219 497.6C220.4 496.6 224.6 496 227.7 495.6C230.9 495.2 235.3 496.4 237.8 495.1C240.3 493.7 241.1 490.1 242.8 487.6C244.4 485.1 245.7 481.7 247.8 480.1C249.9 478.4 251.5 478.2 255.3 477.6C259 476.9 265.3 476.7 270.3 476.3C275.3 475.9 280.7 475.3 285.3 475.1C289.9 474.8 294.5 473.9 297.8 474.6C301.2 475.2 302.8 477.3 305.3 478.8C307.8 480.4 309.9 483.4 312.9 483.8C315.8 484.2 318.7 481.9 322.9 481.3C327 480.7 332.5 480.5 337.9 480.1C343.3 479.6 351.4 478.2 355.4 478.8C359.4 479.4 360.8 481.5 361.7 483.8C362.5 486.1 362.3 490.7 360.4 492.6C358.5 494.5 353.1 493 350.4 495.1C347.7 497.2 346.6 503 344.1 505.1C341.6 507.2 338.1 507.8 335.4 507.6C332.7 507.4 330.8 504.7 327.9 503.8C325 503 321.2 504.1 317.9 502.6C314.5 501.1 311.6 496.8 307.8 495.1C304.1 493.4 299.9 493.2 295.3 492.6C290.7 492 285.3 491.7 280.3 491.3C275.3 490.9 269.9 490.1 265.3 490.1C260.7 490.1 256.1 489.9 252.8 491.3C249.4 492.8 247.4 496.5 245.3 498.8C243.2 501.1 240.9 503 240.3 505.1C239.6 507.2 242.3 509.7 241.5 511.4C240.7 513 237.6 514.7 235.3 515.1C233 515.5 228.6 515.3 227.7 513.9C226.9 512.4 230.3 508.4 230.3 506.3C230.3 504.3 229.6 502.2 227.7 501.3C225.9 500.5 220.4 502 219 501.3C217.5 500.7 217.5 498.5 219 497.6Z"/>
<path fill="#549284" d="M364.2 496.3C363.8 494.5 369.8 489.7 372.9 486.3C376.1 483 380 478.6 382.9 476.3C385.9 474 388.4 472.1 390.5 472.6C392.5 473 393.8 476.3 395.5 478.8C397.1 481.3 399 484.9 400.5 487.6C401.9 490.3 404.6 493.2 404.2 495.1C403.8 497 401.1 498 398 498.8C394.8 499.7 389.2 500.4 385.4 500.1C381.7 499.8 379 497.7 375.4 497.1C371.9 496.5 364.6 498.1 364.2 496.3Z"/>
<path fill="#549284" d="M35 537.6C36.9 536.8 45.4 539.5 50 540.1C54.6 540.8 57.5 540.1 62.5 541.4C67.5 542.6 74.2 545.1 80.1 547.6C85.9 550.2 91.7 553.3 97.6 556.4C103.4 559.5 109.3 564.3 115.1 566.4C120.9 568.5 127.6 568.1 132.6 568.9C137.6 569.8 140.6 569.8 145.1 571.4C149.7 573.1 155.6 576.6 160.2 578.9C164.8 581.2 169.3 582.9 172.7 585.2C176 587.5 179.4 590.2 180.2 592.7C181 595.2 179.4 599.6 177.7 600.2C176 600.8 172.7 598.1 170.2 596.5C167.7 594.8 165.2 590.2 162.7 590.2C160.2 590.2 157.7 596 155.2 596.5C152.7 596.9 150.2 594.4 147.6 592.7C145.1 591 143.1 587.5 140.1 586.4C137.2 585.4 133.9 587.7 130.1 586.4C126.4 585.2 122.2 580.4 117.6 578.9C113 577.5 107 577.3 102.6 577.7C98.2 578.1 94.5 579.6 91.3 581.4C88.2 583.3 87.4 586.9 83.8 588.9C80.3 591 73.6 593.3 70.1 594C66.5 594.6 64 594.6 62.5 592.7C61.1 590.8 60.9 585.6 61.3 582.7C61.7 579.8 65.7 578.5 65 575.2C64.4 571.8 60.5 566 57.5 562.7C54.6 559.3 50.7 558.1 47.5 555.2C44.4 552.2 40.8 548.1 38.8 545.1C36.7 542.2 33.1 538.5 35 537.6Z"/>
<path fill="#549284" d="M46.3 525.6C46.1 524.2 49.1 522.3 50.5 522.1C52 521.9 54.1 523.5 55 524.6C56 525.7 56.9 527.9 56.3 528.9C55.7 529.9 52.9 531.2 51.3 530.6C49.6 530.1 46.4 527 46.3 525.6Z"/>
<path fill="#549284" d="M107.1 537.6C107.3 536.9 109.3 537.1 110.1 538.1C110.9 539.2 112.3 543.1 112.1 543.9C111.9 544.6 109.7 543.7 108.8 542.6C108 541.6 106.9 538.4 107.1 537.6Z"/>
<path fill="#549284" d="M88.1 607.7C88.7 606.7 92 605.3 93.8 606C95.6 606.6 98.5 610 98.8 611.5C99.1 612.9 97 614.6 95.6 614.7C94.1 614.9 91.3 613.4 90.1 612.2C88.8 611.1 87.4 608.8 88.1 607.7Z"/>
<path fill="#549284" d="M133.9 609C134.1 607.8 136.6 606.9 138.9 607.2C141.2 607.5 143.7 608.9 147.6 610.7C151.6 612.6 157.7 615.9 162.7 618.2C167.7 620.6 173.1 623.1 177.7 624.7C182.3 626.4 186.9 626.7 190.2 628.2C193.5 629.8 195.6 632.2 197.7 634C199.8 635.8 203.1 638.2 202.7 639C202.3 639.8 198.1 638.8 195.2 639C192.3 639.2 188.5 640.6 185.2 640.3C181.9 640 178.5 638.7 175.2 637.3C171.8 635.8 168.5 633.6 165.2 631.5C161.8 629.4 158.5 627 155.2 624.7C151.8 622.5 148.1 620 145.1 618.2C142.2 616.4 139.5 615.5 137.6 614C135.8 612.4 133.7 610.1 133.9 609Z"/>
<path fill="#549284" d="M210.2 614.7C210.9 613.9 214 612.3 216.5 612.7C219 613.1 223.4 615.8 225.2 617.2C227.1 618.7 228.6 620.8 227.7 621.5C226.9 622.2 222.7 622.1 220.2 621.5C217.7 620.9 214.4 618.9 212.7 617.7C211.1 616.6 209.6 615.6 210.2 614.7Z"/>
<path fill="#549284" d="M187.7 571.4C188.5 569.9 192.3 567.8 195.2 567.2C198.1 566.5 201.9 566.3 205.2 567.7C208.6 569 212.3 572.5 215.2 575.2C218.2 577.9 220.7 581 222.7 583.9C224.8 586.9 227.7 590.8 227.7 592.7C227.7 594.6 224.8 595.6 222.7 595.2C220.7 594.8 218.2 591.9 215.2 590.2C212.3 588.5 208.6 586.9 205.2 585.2C201.9 583.5 197.7 581.6 195.2 580.2C192.7 578.7 191.5 577.9 190.2 576.4C188.9 575 186.9 573 187.7 571.4Z"/>
<path fill="#549284" d="M242.8 600.2C243.6 597.9 247.6 595.6 250.3 596.5C253 597.3 256.1 602.1 259 605.2C262 608.3 265.3 612.1 267.8 615.2C270.3 618.4 273.6 621.7 274.1 624C274.5 626.3 272.6 629 270.3 629C268 629 263.6 625.9 260.3 624C257 622.1 252.8 620 250.3 617.7C247.8 615.4 246.5 613.1 245.3 610.2C244 607.3 241.9 602.5 242.8 600.2Z"/>
<path fill="#549284" d="M275.3 630.3C276.6 629 282 626.7 285.3 627.7C288.7 628.8 292 633.6 295.3 636.5C298.7 639.4 302 642.6 305.3 645.3C308.7 648 312 650.1 315.4 652.8C318.7 655.5 322 658.8 325.4 661.5C328.7 664.3 333.9 667 335.4 669C336.8 671.1 336.2 673.6 334.1 674.1C332 674.5 326.8 672.6 322.9 671.6C318.9 670.5 314.5 669 310.4 667.8C306.2 666.5 302 665.7 297.8 664C293.7 662.4 289.3 659.7 285.3 657.8C281.4 655.9 275.3 654.9 274.1 652.8C272.8 650.7 275.5 646.3 277.8 645.3C280.1 644.2 286.6 647.6 287.8 646.5C289.1 645.5 287 640.9 285.3 639C283.7 637.1 279.5 636.7 277.8 635.3C276.1 633.8 274.1 631.5 275.3 630.3Z"/>
<path fill="#549284" d="M259 588.9C259.2 587.9 262.7 587 264 587.7C265.4 588.4 267.5 592.2 267.3 593.2C267.1 594.2 264.2 594.7 262.8 594C261.4 593.2 258.8 590 259 588.9Z"/>
<path fill="#a87834" d="M143.9 644C144.1 643 145.4 641.3 148.9 642.8C152.4 644.2 162.7 650.3 165.2 652.8C167.7 655.3 165.6 657.8 163.9 657.8C162.2 657.8 157.9 654.2 155.2 652.8C152.4 651.3 149.5 650.5 147.6 649C145.8 647.6 143.7 645.1 143.9 644Z"/>
<path fill="#549284" d="M400.5 517.6C400.7 516.1 403.8 515.5 405.5 516.4C407.1 517.2 409.8 520.7 410.5 522.6C411.1 524.5 410.3 527.2 409.2 527.6C408.2 528 405.7 526.8 404.2 525.1C402.8 523.5 400.3 519.1 400.5 517.6Z"/>
<path fill="#a87834" d="M560.2 477.6C563.3 477 576 481.8 582.7 483.1C589.4 484.3 594 484.1 600.2 485.1C606.5 486.1 614.4 487.8 620.3 489.1C626.1 490.3 630.3 492.4 635.3 492.6C640.3 492.7 645.1 490.1 650.3 490.1C655.5 490.1 661.6 492.4 666.6 492.6C671.6 492.8 676.4 491 680.3 491.3C684.2 491.7 689 492.8 689.8 494.6C690.7 496.4 687.8 500.3 685.3 502.1C682.9 503.8 678.2 503.7 675.3 505.1C672.4 506.5 670.7 509.1 667.8 510.6C664.9 512.1 661.6 513.7 657.8 514.1C654 514.5 649.5 513.5 645.3 513.1C641.1 512.7 636.9 512.4 632.8 511.6C628.6 510.8 624.4 509.3 620.3 508.1C616.1 506.9 611.9 505.3 607.7 504.3C603.6 503.4 599.4 502.8 595.2 502.6C591 502.4 586.5 503.1 582.7 503.1C578.9 503.1 575.2 503.9 572.7 502.6C570.2 501.3 569.1 497.8 567.7 495.1C566.2 492.4 565.2 489.2 563.9 486.3C562.7 483.4 557 478.1 560.2 477.6Z"/>
<path fill="#a87834" d="M530.1 505.1C531.7 503 534.3 502.6 537.6 501.3C541 500.1 547 499.5 550.2 497.6C553.3 495.7 554.1 492 556.4 490.1C558.7 488.2 561.6 485.5 563.9 486.3C566.2 487.2 568.6 492 570.2 495.1C571.7 498.2 573.4 502 573.2 505.1C573 508.2 571.1 511.9 568.9 513.9C566.8 515.9 563.3 516 560.2 517.1C557 518.2 553.3 519.4 550.2 520.6C547 521.9 544.1 524.5 541.4 524.6C538.7 524.7 536.1 523.2 533.9 521.4C531.7 519.6 528.8 516.6 528.1 513.9C527.5 511.1 528.6 507.2 530.1 505.1Z"/>
<path fill="#a87834" d="M465.1 475.1C465.1 475.5 464.8 476.1 464.5 476.5C464.1 476.8 463.5 477.1 463.1 477.1C462.6 477.1 462 476.8 461.6 476.5C461.3 476.1 461.1 475.5 461.1 475.1C461.1 474.6 461.3 474 461.6 473.6C462 473.3 462.6 473.1 463.1 473.1C463.5 473.1 464.1 473.3 464.5 473.6C464.8 474 465.1 474.6 465.1 475.1Z"/>
<path fill="#a87834" d="M570.2 610.2C570.6 608.4 572.8 607 573.9 607.2C575.1 607.4 576.9 609.6 577.2 611.5C577.5 613.3 576.7 617.1 575.7 618.2C574.7 619.4 572.4 619.6 571.4 618.2C570.5 616.9 569.8 612.1 570.2 610.2Z"/>
<path fill="#549284" d="M595.2 516.4C596.7 515.7 601.5 515.9 605.2 516.4C609 516.8 614.2 517.6 617.7 518.9C621.3 520.1 624.2 521.8 626.5 523.9C628.8 526 631.7 530 631.5 531.4C631.3 532.8 628 532.8 625.3 532.1C622.5 531.5 618.6 529 615.2 527.6C611.9 526.2 608.4 525.1 605.2 523.9C602.1 522.6 598.1 521.4 596.5 520.1C594.8 518.9 593.8 517 595.2 516.4Z"/>
<path fill="#549284" d="M599 585.2C600 582.9 604 580.2 606.5 578.9C609 577.7 611.9 576.6 614 577.7C616.1 578.7 618 581.4 619 585.2C620 588.9 620.5 595.6 620.3 600.2C620 604.8 619 610.2 617.7 612.7C616.5 615.2 614.4 616.1 612.7 615.2C611.1 614.4 609 610.6 607.7 607.7C606.5 604.8 606.5 600.2 605.2 597.7C604 595.2 601.3 594.8 600.2 592.7C599.2 590.6 597.9 587.5 599 585.2Z"/>
<path fill="#549284" d="M589.5 581.4C589.5 582.1 589.1 583.1 588.6 583.6C588.1 584.1 587.2 584.4 586.5 584.4C585.8 584.4 584.8 584.1 584.3 583.6C583.8 583.1 583.5 582.1 583.5 581.4C583.5 580.7 583.8 579.8 584.3 579.3C584.8 578.8 585.8 578.4 586.5 578.4C587.2 578.4 588.1 578.8 588.6 579.3C589.1 579.8 589.5 580.7 589.5 581.4Z"/>
<path fill="#549284" d="M623.3 621.5C624.4 618.8 627.8 615.2 630.3 614C632.7 612.7 635.5 612.5 637.8 614C640.1 615.4 641.9 619.4 644 622.7C646.1 626.1 649 630.7 650.3 634C651.5 637.3 652.8 641.1 651.5 642.8C650.3 644.4 645.9 643.6 642.8 644C639.6 644.4 635.5 645.9 632.8 645.3C630.1 644.6 628.1 642.8 626.5 640.3C624.9 637.8 623.8 633.4 623.3 630.3C622.7 627.1 622.1 624.2 623.3 621.5Z"/>
<path fill="#549284" d="M500.1 577.7C500.7 576.2 504.5 575.8 506.4 576.4C508.2 577.1 510.9 579.6 511.4 581.4C511.8 583.2 510.3 586.6 508.9 587.2C507.4 587.8 504.1 586.8 502.6 585.2C501.1 583.6 499.5 579.1 500.1 577.7Z"/>
<path fill="#549284" d="M443.8 508.8C444.5 506.7 447.7 504.6 449.5 504.6C451.3 504.6 453.7 506.7 454.5 508.8C455.4 511 455.4 515.5 454.5 517.6C453.7 519.7 451.1 521.4 449.5 521.4C448 521.4 446 519.7 445 517.6C444.1 515.5 443 511 443.8 508.8Z"/>
<path fill="#549284" d="M418.7 477.6C419.8 474.6 423.5 476.2 425 477.1C426.5 477.9 427.6 480 427.5 482.6C427.4 485.2 426 490.5 424.5 492.6C423 494.7 419.7 497.6 418.7 495.1C417.8 492.6 417.7 480.6 418.7 477.6Z"/>
<path fill="#549284" d="M796.7 526.4C797.3 525 800.3 522.9 801.7 523.1C803.2 523.3 805.3 526 805.5 527.6C805.7 529.2 804.2 532 803 532.6C801.7 533.3 799 532.4 798 531.4C796.9 530.3 796.1 527.7 796.7 526.4Z"/>
<path fill="#549284" d="M702.9 644C703.3 642.4 707.9 640.6 710.4 640.3C712.9 640 716.8 641 717.9 642.3C718.9 643.5 718.3 646.5 716.6 647.8C715 649 710.2 650.4 707.9 649.8C705.6 649.1 702.4 645.6 702.9 644Z"/>
<path fill="#a87834" d="M858.8 577.7C859.6 573.3 863.4 568.9 866.3 566.4C869.2 563.9 872.8 562.9 876.3 562.7C879.9 562.5 884.1 563.9 887.6 565.2C891.1 566.4 893.9 568.3 897.6 570.2C901.4 572.1 906.6 574.3 910.1 576.4C913.7 578.5 917.2 580 918.9 582.7C920.6 585.4 920.8 589.8 920.1 592.7C919.5 595.6 917.6 598.5 915.1 600.2C912.6 601.9 908.5 601.9 905.1 602.7C901.8 603.6 898.4 605.2 895.1 605.2C891.8 605.2 888.6 602.5 885.1 602.7C881.5 602.9 877 606.5 873.8 606.5C870.7 606.5 868.4 605 866.3 602.7C864.2 600.4 862.6 596.9 861.3 592.7C860.1 588.5 858 582.1 858.8 577.7Z"/>
<path fill="#a87834" d="M994.7 574.7C994.7 575.2 994.5 575.8 994.1 576.1C993.8 576.4 993.2 576.7 992.7 576.7C992.3 576.7 991.6 576.4 991.3 576.1C991 575.8 990.7 575.2 990.7 574.7C990.7 574.2 991 573.6 991.3 573.3C991.6 572.9 992.3 572.7 992.7 572.7C993.2 572.7 993.8 572.9 994.1 573.3C994.5 573.6 994.7 574.2 994.7 574.7Z"/>
<path fill="#a87834" d="M1124.1 560.2C1124.6 557.7 1127.7 554.7 1130.4 552.7C1133.1 550.6 1137.9 549.7 1140.4 547.6C1142.9 545.6 1142.1 541.8 1145.4 540.1C1148.8 538.5 1155 538.5 1160.4 537.6C1165.9 536.8 1173 535.3 1178 535.1C1183 534.9 1186.5 536 1190.5 536.4C1194.4 536.8 1199.9 530.3 1201.7 537.6C1203.6 544.9 1204.5 572.9 1201.7 580.2C1199 587.5 1190.7 581.4 1185.5 581.4C1180.3 581.4 1175.5 580.6 1170.5 580.2C1165.4 579.8 1160 579.8 1155.4 578.9C1150.8 578.1 1146.3 576.6 1142.9 575.2C1139.6 573.7 1137.9 571.4 1135.4 570.2C1132.9 568.9 1129.8 569.3 1127.9 567.7C1126 566 1123.7 562.7 1124.1 560.2Z"/>
<path fill="#549284" d="M827.5 552.7C828.1 550.6 832.3 546.8 835 545.1C837.7 543.5 841.3 542.2 843.8 542.6C846.3 543.1 849.4 545.4 850.1 547.6C850.7 549.9 849 553.9 847.5 556.4C846.1 558.9 843 560.2 841.3 562.7C839.6 565.2 838.8 571 837.5 571.4C836.3 571.8 834.8 567.5 833.8 565.2C832.7 562.9 832.3 559.7 831.3 557.7C830.2 555.6 826.9 554.7 827.5 552.7Z"/>
<path fill="#549284" d="M920.1 552.7C921.2 550.4 924.9 548.9 927.6 548.9C930.4 548.9 934.1 550.6 936.4 552.7C938.7 554.7 941 558.5 941.4 561.4C941.8 564.3 940.8 567.9 938.9 570.2C937 572.5 932.7 575 930.2 575.2C927.6 575.4 925.4 573.5 923.9 571.4C922.4 569.3 922 565.8 921.4 562.7C920.8 559.5 919.1 554.9 920.1 552.7Z"/>
<path fill="#549284" d="M1015.8 495.6C1015.8 496.3 1015.4 497.2 1014.9 497.7C1014.4 498.2 1013.5 498.6 1012.8 498.6C1012 498.6 1011.1 498.2 1010.6 497.7C1010.1 497.2 1009.7 496.3 1009.7 495.6C1009.7 494.9 1010.1 494 1010.6 493.5C1011.1 493 1012 492.6 1012.8 492.6C1013.5 492.6 1014.4 493 1014.9 493.5C1015.4 494 1015.8 494.9 1015.8 495.6Z"/>
<path fill="#549284" d="M1026.5 517.6C1027.1 516.5 1030 515.5 1031.5 516.4C1033.1 517.2 1035.6 520.8 1035.8 522.6C1036 524.4 1034.1 527 1032.8 527.1C1031.4 527.2 1028.8 524.7 1027.8 523.1C1026.7 521.5 1025.9 518.7 1026.5 517.6Z"/>
<path fill="#549284" d="M997.7 526.4C997.7 526.8 997.5 527.5 997.1 527.8C996.8 528.1 996.2 528.4 995.7 528.4C995.3 528.4 994.6 528.1 994.3 527.8C994 527.5 993.7 526.8 993.7 526.4C993.7 525.9 994 525.3 994.3 525C994.6 524.6 995.3 524.4 995.7 524.4C996.2 524.4 996.8 524.6 997.1 525C997.5 525.3 997.7 525.9 997.7 526.4Z"/>
<path fill="#549284" d="M977.2 537.6C978 535.6 980.9 533.1 982.7 533.1C984.6 533.1 987.5 535.4 988.2 537.6C989 539.8 988.3 544.3 987.2 546.4C986.1 548.5 983 550.4 981.5 550.2C979.9 549.9 978.4 547.2 977.7 545.1C977 543.1 976.4 539.6 977.2 537.6Z"/>
<path fill="#549284" d="M1017 536.4C1017 536.8 1016.8 537.3 1016.5 537.6C1016.2 537.9 1015.7 538.1 1015.3 538.1C1014.8 538.1 1014.3 537.9 1014 537.6C1013.7 537.3 1013.5 536.8 1013.5 536.4C1013.5 536 1013.7 535.4 1014 535.1C1014.3 534.9 1014.8 534.6 1015.3 534.6C1015.7 534.6 1016.2 534.9 1016.5 535.1C1016.8 535.4 1017 536 1017 536.4Z"/>
<path fill="#549284" d="M1009 549.6C1009.4 547.4 1014.2 546.6 1017.8 545.6C1021.3 544.7 1026.1 543.9 1030.3 543.9C1034.4 543.9 1039.2 545.9 1042.8 545.6C1046.3 545.4 1048.6 542.3 1051.6 542.6C1054.5 543 1057.6 545.1 1060.3 547.6C1063 550.2 1065.9 553.9 1067.8 557.7C1069.7 561.4 1070.3 566.4 1071.6 570.2C1072.8 573.9 1075.5 576.4 1075.3 580.2C1075.1 583.9 1072.8 589.8 1070.3 592.7C1067.8 595.6 1063.7 597.1 1060.3 597.7C1057 598.3 1053.2 597.7 1050.3 596.5C1047.4 595.2 1044.7 592.9 1042.8 590.2C1040.9 587.5 1040.7 583.3 1039 580.2C1037.4 577.1 1035.3 573.9 1032.8 571.4C1030.3 568.9 1026.9 567.3 1024 565.2C1021.1 563.1 1017.8 561.5 1015.3 558.9C1012.8 556.3 1008.6 551.9 1009 549.6Z"/>
<path fill="#549284" d="M970.2 600.2C971.9 597.5 974.4 591.5 976.5 590.2C978.5 588.9 980.8 590.6 982.7 592.7C984.6 594.8 987.7 599.8 987.7 602.7C987.7 605.6 985 607.8 982.7 610.2C980.4 612.6 976.5 616.6 974 617.2C971.5 617.9 968.9 615.8 967.7 614C966.4 612.2 966 608.8 966.4 606.5C966.9 604.2 968.5 602.9 970.2 600.2Z"/>
<path fill="#549284" d="M976.5 577.7C977.1 575.6 981.4 572.7 982.7 573.9C984.1 575.2 985.1 583.1 984.5 585.2C983.8 587.3 980.3 587.7 979 586.4C977.6 585.2 975.8 579.8 976.5 577.7Z"/>
<path fill="#549284" d="M992.2 587.7C992.8 586.2 995.1 583.9 996.5 583.9C997.9 583.9 1000.5 586.2 1000.7 587.7C1000.9 589.2 999 591.9 997.7 592.7C996.5 593.5 994.1 593.5 993.2 592.7C992.3 591.9 991.7 589.2 992.2 587.7Z"/>
<path fill="#549284" d="M1013.3 583.9C1013.6 583 1016.3 582.3 1017.3 582.7C1018.2 583.1 1019.3 585.5 1019 586.4C1018.7 587.4 1016.2 588.6 1015.3 588.2C1014.3 587.8 1012.9 584.9 1013.3 583.9Z"/>
<path fill="#549284" d="M1016 638.3C1016 638.7 1015.8 639.3 1015.4 639.7C1015.1 640 1014.5 640.3 1014 640.3C1013.5 640.3 1012.9 640 1012.6 639.7C1012.3 639.3 1012 638.7 1012 638.3C1012 637.8 1012.3 637.2 1012.6 636.8C1012.9 636.5 1013.5 636.3 1014 636.3C1014.5 636.3 1015.1 636.5 1015.4 636.8C1015.8 637.2 1016 637.8 1016 638.3Z"/>
<path fill="#549284" d="M1072.8 517.6C1073.7 514.9 1078.3 510.7 1079.1 507.6C1079.9 504.5 1076.4 500.7 1077.8 498.8C1079.3 497 1084.1 497 1087.8 496.3C1091.6 495.7 1097.2 495.8 1100.4 495.1C1103.5 494.4 1104.1 492 1106.6 492.1C1109.1 492.2 1111.4 494.9 1115.4 495.6C1119.3 496.3 1126.6 495.2 1130.4 496.3C1134.2 497.5 1137.1 499.7 1137.9 502.6C1138.7 505.5 1137.5 510.9 1135.4 513.9C1133.3 516.8 1129.1 518.9 1125.4 520.1C1121.6 521.4 1116.6 520.3 1112.9 521.4C1109.1 522.4 1105.8 524.9 1102.9 526.4C1099.9 527.8 1097.9 530.1 1095.4 530.1C1092.9 530.1 1090.4 527.4 1087.8 526.4C1085.3 525.3 1082.6 524.3 1080.3 523.9C1078 523.5 1075.3 524.9 1074.1 523.9C1072.8 522.8 1072 520.3 1072.8 517.6Z"/>
<path fill="#549284" d="M1066.8 524.6C1066.8 525.3 1066.4 526.2 1065.8 526.7C1065.2 527.2 1064.1 527.6 1063.3 527.6C1062.5 527.6 1061.4 527.2 1060.8 526.7C1060.3 526.2 1059.8 525.3 1059.8 524.6C1059.8 523.9 1060.3 523 1060.8 522.5C1061.4 522 1062.5 521.6 1063.3 521.6C1064.1 521.6 1065.2 522 1065.8 522.5C1066.4 523 1066.8 523.9 1066.8 524.6Z"/>
<path fill="#549284" d="M1054.1 610.2C1054.9 608.1 1059.3 605.6 1062.8 604C1066.4 602.3 1071.6 600.8 1075.3 600.2C1079.1 599.6 1082 599.4 1085.3 600.2C1088.7 601 1092 603.1 1095.4 605.2C1098.7 607.3 1102 610.2 1105.4 612.7C1108.7 615.2 1112.7 617.3 1115.4 620.2C1118.1 623.2 1120.2 626.5 1121.6 630.3C1123.1 634 1123.9 639 1124.1 642.8C1124.4 646.5 1124.8 650.7 1122.9 652.8C1121 654.9 1116.6 654.7 1112.9 655.3C1109.1 655.9 1104.5 655.7 1100.4 656.5C1096.2 657.4 1091.2 658.4 1087.8 660.3C1084.5 662.2 1082.8 667.4 1080.3 667.8C1077.8 668.2 1074.5 665.7 1072.8 662.8C1071.2 659.9 1072 654.4 1070.3 650.3C1068.7 646.1 1062.8 641.1 1062.8 637.8C1062.8 634.4 1067.8 631.9 1070.3 630.3C1072.8 628.6 1077 629.4 1077.8 627.7C1078.7 626.1 1077.4 621.9 1075.3 620.2C1073.2 618.6 1068.2 618.4 1065.3 617.7C1062.4 617.1 1059.7 617.7 1057.8 616.5C1055.9 615.2 1053.2 612.3 1054.1 610.2Z"/>
<path fill="#a87834" d="M1168.7 535.1C1171.5 529.1 1179.8 534.7 1185 535.1C1190.2 535.5 1195 536.4 1200 537.6C1205 538.9 1210.1 541 1215.1 542.6C1220.1 544.3 1225.1 546.4 1230.1 547.6C1235.1 548.9 1240.1 548.9 1245.1 550.2C1250.1 551.4 1255.9 554.5 1260.1 555.2C1264.3 555.8 1266.4 553.7 1270.1 553.9C1273.9 554.1 1278.5 555.6 1282.6 556.4C1286.8 557.2 1291.4 557.9 1295.2 558.9C1298.9 560 1301.8 561.2 1305.2 562.7C1308.5 564.1 1313.9 565.6 1315.2 567.7C1316.4 569.8 1314.3 573.5 1312.7 575.2C1311 576.9 1308.1 577.5 1305.2 577.7C1302.2 577.9 1298.5 576 1295.2 576.4C1291.8 576.9 1288.1 578.5 1285.1 580.2C1282.2 581.9 1280.1 584.8 1277.6 586.4C1275.1 588.1 1273.5 591.2 1270.1 590.2C1266.8 589.2 1261.8 582.3 1257.6 580.2C1253.4 578.1 1249.3 578.3 1245.1 577.7C1240.9 577.1 1236.8 576.9 1232.6 576.4C1228.4 576 1224.2 575.6 1220.1 575.2C1215.9 574.8 1211.7 574.6 1207.5 573.9C1203.4 573.3 1199.2 572.1 1195 571.4C1190.9 570.8 1186.9 570.2 1182.5 570.2C1178.1 570.2 1171 577.3 1168.7 571.4C1166.5 565.6 1166 541.2 1168.7 535.1Z"/>
<path fill="#a87834" d="M1252.6 605.2C1254.3 603.3 1260.9 600.2 1265.1 597.7C1269.3 595.2 1274.3 591 1277.6 590.2C1281 589.4 1285.6 591 1285.1 592.7C1284.7 594.4 1278.9 597.7 1275.1 600.2C1271.4 602.7 1266 606.3 1262.6 607.7C1259.3 609.2 1256.8 609.4 1255.1 609C1253.4 608.6 1250.9 607.1 1252.6 605.2Z"/>
<path fill="#a87834" d="M1350.7 561.4C1350.9 560 1354 558.5 1355.2 558.9C1356.5 559.3 1358.4 562.5 1358.2 563.9C1358 565.3 1355.2 567.6 1354 567.2C1352.7 566.8 1350.5 562.8 1350.7 561.4Z"/>
<path fill="#a87834" d="M1420.3 481.3C1422 479.6 1428.2 479.8 1432.8 479.6C1437.4 479.4 1444.3 479.4 1447.8 480.1C1451.4 480.8 1453.7 481.9 1454.1 483.8C1454.5 485.7 1453.5 489.9 1450.4 491.3C1447.2 492.8 1439.9 492.8 1435.3 492.6C1430.7 492.4 1425.3 492 1422.8 490.1C1420.3 488.2 1418.6 483.1 1420.3 481.3Z"/>
<path fill="#a87834" d="M1461.6 478.8C1462.7 477.5 1469.5 476.9 1471.6 477.6C1473.7 478.2 1475.2 481.2 1474.1 482.6C1473.1 483.9 1467.5 486.2 1465.4 485.6C1463.3 484.9 1460.6 480.1 1461.6 478.8Z"/>
<path fill="#a87834" d="M1386.5 578.9C1387.8 576.4 1393.8 573.9 1397.8 571.4C1401.7 568.9 1406.5 565.8 1410.3 563.9C1414.1 562 1418.4 559.3 1420.3 560.2C1422.2 561 1423 565.8 1421.6 568.9C1420.1 572.1 1414.7 575.8 1411.6 578.9C1408.4 582.1 1405.3 585.2 1402.8 587.7C1400.3 590.2 1398.6 594.2 1396.5 594C1394.4 593.7 1391.9 588.9 1390.3 586.4C1388.6 583.9 1385.3 581.4 1386.5 578.9Z"/>
<path fill="#a87834" d="M1447.8 575.2C1448.3 573.3 1452.2 571.8 1454.1 572.2C1456 572.6 1458.5 575.7 1459.1 577.7C1459.7 579.6 1459.1 583 1457.9 583.9C1456.6 584.9 1453.3 584.7 1451.6 583.2C1449.9 581.7 1447.4 577 1447.8 575.2Z"/>
<path fill="#549284" d="M1241.3 505.1C1242 503 1245.9 502 1247.6 502.6C1249.3 503.2 1251.1 506.6 1251.4 508.8C1251.6 511.1 1250.1 515.3 1248.8 516.4C1247.6 517.4 1245.1 517 1243.8 515.1C1242.6 513.2 1240.7 507.2 1241.3 505.1Z"/>
<path fill="#549284" d="M1213.8 520.1C1214 518.5 1217.6 519.4 1218.8 520.6C1220.1 521.9 1221.5 526 1221.3 527.6C1221.1 529.2 1218.8 531.4 1217.6 530.1C1216.3 528.9 1213.6 521.7 1213.8 520.1Z"/>
<path fill="#549284" d="M1328.4 473.1C1328.4 473.9 1327.9 475.1 1327.1 475.7C1326.4 476.3 1325 476.8 1323.9 476.8C1322.9 476.8 1321.5 476.3 1320.8 475.7C1320 475.1 1319.4 473.9 1319.4 473.1C1319.4 472.2 1320 471 1320.8 470.4C1321.5 469.8 1322.9 469.3 1323.9 469.3C1325 469.3 1326.4 469.8 1327.1 470.4C1327.9 471 1328.4 472.2 1328.4 473.1Z"/>
<path fill="#549284" d="M1334.5 506.3C1334.5 506.9 1334.1 507.7 1333.7 508.1C1333.3 508.5 1332.5 508.8 1332 508.8C1331.4 508.8 1330.6 508.5 1330.2 508.1C1329.8 507.7 1329.4 506.9 1329.4 506.3C1329.4 505.8 1329.8 505 1330.2 504.6C1330.6 504.2 1331.4 503.8 1332 503.8C1332.5 503.8 1333.3 504.2 1333.7 504.6C1334.1 505 1334.5 505.8 1334.5 506.3Z"/>
<path fill="#549284" d="M1386.5 493.8C1386.5 494.4 1386.2 495.2 1385.8 495.6C1385.4 496 1384.6 496.3 1384 496.3C1383.4 496.3 1382.7 496 1382.2 495.6C1381.8 495.2 1381.5 494.4 1381.5 493.8C1381.5 493.2 1381.8 492.5 1382.2 492.1C1382.7 491.6 1383.4 491.3 1384 491.3C1384.6 491.3 1385.4 491.6 1385.8 492.1C1386.2 492.5 1386.5 493.2 1386.5 493.8Z"/>
<path fill="#549284" d="M1399.8 523.9C1400 520.9 1401.5 514.8 1402.8 512.6C1404.1 510.4 1406.6 509.6 1407.8 510.6C1409 511.6 1410 515.8 1409.8 518.9C1409.6 521.9 1407.9 527 1406.5 528.9C1405.2 530.8 1402.7 531 1401.5 530.1C1400.4 529.3 1399.6 526.8 1399.8 523.9Z"/>
<path fill="#549284" d="M1372.8 532.1C1372.5 530.8 1376.7 530 1379 530.1C1381.3 530.2 1385.1 531.5 1386.5 532.6C1388 533.8 1388.8 536.2 1387.8 537.1C1386.7 538.1 1382.8 539 1380.3 538.1C1377.8 537.3 1373 533.5 1372.8 532.1Z"/>
<path fill="#549284" d="M1320.2 580.2C1321.4 577.5 1327.7 575.6 1330.2 576.4C1332.7 577.3 1332.7 582.9 1335.2 585.2C1337.7 587.5 1342.3 589.8 1345.2 590.2C1348.1 590.6 1350.9 587.3 1352.7 587.7C1354.6 588.1 1356.9 590.2 1356.5 592.7C1356.1 595.2 1352.5 599.8 1350.2 602.7C1347.9 605.6 1345.6 608.8 1342.7 610.2C1339.8 611.7 1335.6 612.3 1332.7 611.5C1329.8 610.6 1326.9 608.3 1325.2 605.2C1323.5 602.1 1323.5 596.9 1322.7 592.7C1321.9 588.5 1318.9 582.9 1320.2 580.2Z"/>
<path fill="#549284" d="M1305.2 609C1305.8 607.6 1310.2 605.6 1312.7 605.2C1315.2 604.8 1319.4 605.4 1320.2 606.5C1321 607.5 1319.6 610.4 1317.7 611.5C1315.8 612.6 1311 613.6 1308.9 613.2C1306.8 612.8 1304.5 610.3 1305.2 609Z"/>
<path fill="#549284" d="M1361.5 590.2C1361.7 587.7 1366.3 586.4 1367.7 587.7C1369.2 588.9 1370.5 595.2 1370.3 597.7C1370 600.2 1368 604 1366.5 602.7C1365 601.5 1361.3 592.7 1361.5 590.2Z"/>
<path fill="#549284" d="M1461.6 520.1C1462.9 518.9 1467.7 517.6 1470.4 517.6C1473.1 517.6 1475 519.5 1477.9 520.1C1480.8 520.7 1485.4 519.9 1487.9 521.4C1490.4 522.8 1490.4 527.4 1492.9 528.9C1495.4 530.3 1499.2 530.1 1502.9 530.1C1506.7 530.1 1511.5 528.9 1515.4 528.9C1519.4 528.9 1524.8 525.7 1526.7 530.1C1528.6 534.5 1528.2 549.7 1526.7 555.2C1525.2 560.6 1520.2 559.3 1517.9 562.7C1515.6 566 1515.4 572.3 1512.9 575.2C1510.4 578.1 1506.3 579.6 1502.9 580.2C1499.6 580.8 1496.2 580 1492.9 578.9C1489.6 577.9 1484.1 575.4 1482.9 573.9C1481.6 572.5 1483.3 570.8 1485.4 570.2C1487.5 569.5 1492.1 571 1495.4 570.2C1498.7 569.3 1503.3 567.7 1505.4 565.2C1507.5 562.7 1508.3 558.5 1507.9 555.2C1507.5 551.8 1505 547.4 1502.9 545.1C1500.8 542.8 1497.5 543.5 1495.4 541.4C1493.3 539.3 1492.9 534.9 1490.4 532.6C1487.9 530.3 1483.7 528.7 1480.4 527.6C1477.1 526.6 1473.3 526.9 1470.4 526.4C1467.5 525.9 1464.3 525.7 1462.9 524.6C1461.4 523.6 1460.4 521.3 1461.6 520.1Z"/>
<path fill="#549284" d="M1437.8 520.6C1438.5 519.4 1441.8 519.2 1442.8 520.1C1443.9 521.1 1444.7 525.2 1444.1 526.4C1443.5 527.5 1440.1 528.1 1439.1 527.1C1438 526.2 1437.2 521.8 1437.8 520.6Z"/>
<path fill="#549284" d="M1466.6 566.4C1467 565.2 1471.2 564.5 1472.9 565.2C1474.5 565.8 1477.1 568.9 1476.6 570.2C1476.2 571.4 1472 573.3 1470.4 572.7C1468.7 572.1 1466.2 567.7 1466.6 566.4Z"/>
<path fill="#549284" d="M1455.4 602.7C1455.8 600.9 1459.1 598.6 1461.6 598.2C1464.1 597.8 1469.5 598.6 1470.4 600.2C1471.2 601.8 1468.5 606.3 1466.6 607.7C1464.7 609.2 1461 609.8 1459.1 609C1457.2 608.1 1454.9 604.5 1455.4 602.7Z"/>
<path fill="#549284" d="M1479.1 609C1480 607.5 1483.1 605 1485.4 604C1487.7 602.9 1490.4 604 1492.9 602.7C1495.4 601.5 1498.7 596.9 1500.4 596.5C1502.1 596 1503.8 598.1 1502.9 600.2C1502.1 602.3 1498.1 606.9 1495.4 609C1492.7 611.1 1489.1 612.1 1486.6 612.7C1484.1 613.4 1481.6 613.4 1480.4 612.7C1479.1 612.1 1478.3 610.4 1479.1 609Z"/>
<path fill="#549284" d="M1439.1 604.7C1439.2 603.6 1441.8 601.6 1442.8 601.5C1443.9 601.3 1445.4 602.8 1445.3 604C1445.3 605.1 1443.4 608.1 1442.3 608.2C1441.3 608.3 1439 605.8 1439.1 604.7Z"/>
<path fill="#549284" d="M1419.1 621C1419.1 621.5 1418.7 622.1 1418.3 622.4C1417.9 622.7 1417.1 623 1416.6 623C1416 623 1415.2 622.7 1414.8 622.4C1414.4 622.1 1414.1 621.5 1414.1 621C1414.1 620.5 1414.4 619.9 1414.8 619.6C1415.2 619.2 1416 619 1416.6 619C1417.1 619 1417.9 619.2 1418.3 619.6C1418.7 619.9 1419.1 620.5 1419.1 621Z"/>
<path fill="#549284" d="M1489.1 487.1C1489.8 485.3 1494.8 484 1497.9 483.1C1501 482.1 1504.4 481.3 1507.9 481.3C1511.5 481.3 1517.2 481.7 1519.2 483.1C1521.2 484.4 1521.4 488.2 1519.9 489.6C1518.5 491 1513.7 491.2 1510.4 491.3C1507.2 491.5 1503.1 490.2 1500.4 490.6C1497.7 491 1496 494.4 1494.2 493.8C1492.3 493.2 1488.5 488.9 1489.1 487.1Z"/>
<path fill="#549284" d="M132.6 358.5C133.7 356.2 138.9 351.4 142.6 348.5C146.4 345.6 151.8 342.4 155.2 341C158.5 339.5 162.2 338.2 162.7 339.7C163.1 341.2 160.2 346.4 157.7 349.7C155.2 353.1 150.2 357 147.6 359.7C145.1 362.4 144.5 365.6 142.6 366C140.8 366.4 138.1 363.5 136.4 362.2C134.7 361 131.6 360.8 132.6 358.5Z"/>
<path fill="#549284" d="M340.4 224.6C342.1 222.9 349.6 221.2 352.9 220.8C356.2 220.4 360.4 221 360.4 222.1C360.4 223.1 355.8 225.6 352.9 227.1C350 228.5 345 231.2 342.9 230.8C340.8 230.4 338.7 226.2 340.4 224.6Z"/>
<path fill="#549284" d="M558.9 332.2C559.8 329.9 562.5 325.5 565.2 323.4C567.9 321.4 572.9 319.9 575.2 319.7C577.5 319.5 578.9 320.3 578.9 322.2C578.9 324.1 577.5 328.4 575.2 330.9C572.9 333.5 567.7 336.2 565.2 337.2C562.7 338.2 561.2 338 560.2 337.2C559.1 336.4 558.1 334.5 558.9 332.2Z"/>
<path fill="#549284" d="M543.9 341.7C543.9 342.5 543.3 343.6 542.4 344.2C541.6 344.8 540.1 345.2 538.9 345.2C537.7 345.2 536.2 344.8 535.4 344.2C534.5 343.6 533.9 342.5 533.9 341.7C533.9 340.9 534.5 339.8 535.4 339.2C536.2 338.7 537.7 338.2 538.9 338.2C540.1 338.2 541.6 338.7 542.4 339.2C543.3 339.8 543.9 340.9 543.9 341.7Z"/>
<path fill="#549284" d="M516.6 349.7C516.6 350.4 516.2 351.3 515.6 351.8C515 352.3 513.9 352.7 513.1 352.7C512.3 352.7 511.2 352.3 510.6 351.8C510.1 351.3 509.6 350.4 509.6 349.7C509.6 349 510.1 348.1 510.6 347.6C511.2 347.1 512.3 346.7 513.1 346.7C513.9 346.7 515 347.1 515.6 347.6C516.2 348.1 516.6 349 516.6 349.7Z"/>
<path fill="#549284" d="M501.6 354.2C501.6 354.9 501.2 355.9 500.6 356.4C500 356.9 498.9 357.2 498.1 357.2C497.3 357.2 496.2 356.9 495.6 356.4C495 355.9 494.6 354.9 494.6 354.2C494.6 353.5 495 352.6 495.6 352.1C496.2 351.6 497.3 351.2 498.1 351.2C498.9 351.2 500 351.6 500.6 352.1C501.2 352.6 501.6 353.5 501.6 354.2Z"/>
<path fill="#549284" d="M528.9 399.8C529.7 397.3 534.5 393.5 537.6 389.8C540.8 386 544.5 381 547.7 377.3C550.8 373.5 553.5 370.4 556.4 367.2C559.3 364.1 562.5 361 565.2 358.5C567.9 356 569.8 353.1 572.7 352.2C575.6 351.4 580.6 352.2 582.7 353.5C584.8 354.7 586 357 585.2 359.7C584.4 362.4 580.6 366.4 577.7 369.7C574.8 373.1 571 376.4 567.7 379.8C564.3 383.1 560.8 386.9 557.7 389.8C554.5 392.7 551.8 394.4 548.9 397.3C546 400.2 542.9 406 540.2 407.3C537.4 408.5 534.5 406 532.6 404.8C530.8 403.5 528.1 402.3 528.9 399.8Z"/>
<path fill="#549284" d="M623.5 344.7C623.5 345.5 623.1 346.5 622.6 347C622 347.6 621 348 620.3 348C619.5 348 618.5 347.6 617.9 347C617.4 346.5 617 345.5 617 344.7C617 343.9 617.4 343 617.9 342.4C618.5 341.9 619.5 341.5 620.3 341.5C621 341.5 622 341.9 622.6 342.4C623.1 343 623.5 343.9 623.5 344.7Z"/>
<path fill="#549284" d="M804.2 282.1C805.3 280.7 810.5 278.4 811.7 279.6C813 280.9 812.8 288.2 811.7 289.6C810.7 291.1 806.7 289.6 805.5 288.4C804.2 287.1 803.2 283.6 804.2 282.1Z"/>
<path fill="#549284" d="M1010.3 382.3C1010.9 381 1015 379.3 1016.5 379.8C1018 380.2 1019.6 383.5 1019 384.8C1018.4 386 1014.2 387.7 1012.8 387.3C1011.3 386.9 1009.6 383.5 1010.3 382.3Z"/>
<path fill="#549284" d="M1015.3 374.8C1015.9 373.7 1020.3 372.9 1021.5 373.5C1022.8 374.1 1023.4 377.5 1022.8 378.5C1022.1 379.6 1019 380.4 1017.8 379.8C1016.5 379.1 1014.6 375.8 1015.3 374.8Z"/>
<path fill="#549284" d="M808.7 283.4C809.8 282.3 813.8 281.9 815 282.6C816.3 283.3 817.3 286.6 816.3 287.6C815.2 288.7 810 289.9 808.7 289.1C807.5 288.4 807.7 284.5 808.7 283.4Z"/>
<path fill="#549284" d="M536.2 746.8C536.6 745.9 538.1 745.3 540 746.8C541.9 748.2 546 753.4 547.5 755.5C549 757.6 549.6 759 548.8 759.2C547.9 759.5 544.3 758 542.5 756.8C540.7 755.5 539 753.4 538 751.8C537 750.1 535.9 747.6 536.2 746.8Z"/>
<path fill="#549284" d="M746.2 691.8C746 690.4 748.8 689.5 751.2 691C753.8 692.5 759.8 698.4 761.2 700.5C762.7 702.6 761.5 703.7 760 703.5C758.5 703.3 754.8 701.2 752.5 699.2C750.2 697.3 746.5 693.1 746.2 691.8Z"/>
<path fill="#549284" d="M912 709.2C912.8 707.4 916 706.1 917.5 706.8C919 707.4 921 710.9 921.2 713C921.5 715.1 920.1 718.4 918.8 719.2C917.4 720.1 914.1 719.7 913 718C911.9 716.3 911.2 711.1 912 709.2Z"/>
<path fill="#a87834" d="M1293.6 444.3C1294.6 442.7 1298 443.7 1300.3 444.3C1302.5 444.8 1304.7 446.1 1306.9 447.6C1309.2 449.1 1312 451.8 1313.6 453.5C1315.3 455.1 1317.5 456.2 1317 457.6C1316.4 459 1312.5 460.8 1310.3 461.8C1308.1 462.8 1305.6 463.8 1303.6 463.5C1301.7 463.2 1300.1 461.8 1298.6 460.1C1297.1 458.5 1295.3 456.1 1294.4 453.5C1293.6 450.8 1292.6 445.8 1293.6 444.3Z"/>
<path fill="#1f6874" d="M113.9 485.6C114.1 484.3 115.8 482.4 117.6 481.8C119.4 481.2 123 481.2 124.6 481.8C126.2 482.4 127.4 484.3 127.1 485.6C126.9 486.9 124.9 488.9 123.1 489.6C121.3 490.2 117.9 490.2 116.4 489.6C114.8 488.9 113.6 486.9 113.9 485.6Z"/>
<path fill="#1f6874" d="M146.4 482.6C146.4 483 146.2 483.5 145.9 483.8C145.6 484.1 145.1 484.3 144.6 484.3C144.2 484.3 143.7 484.1 143.4 483.8C143.1 483.5 142.9 483 142.9 482.6C142.9 482.2 143.1 481.6 143.4 481.3C143.7 481 144.2 480.8 144.6 480.8C145.1 480.8 145.6 481 145.9 481.3C146.2 481.6 146.4 482.2 146.4 482.6Z"/>
<path fill="#1f6874" d="M140.1 492.6C141.5 491.2 145.6 489.2 150.2 488.1C154.7 486.9 162.5 486.3 167.7 485.6C172.9 484.9 178.1 484.7 181.4 483.8C184.8 482.9 187.3 479 187.7 480.1C188.1 481.1 185.6 487.2 183.9 490.1C182.3 492.9 180.8 495.5 177.7 497.1C174.6 498.7 169.8 499.2 165.2 499.6C160.6 500 154 500.1 150.2 499.6C146.3 499 143.8 497.5 142.1 496.3C140.5 495.2 138.8 494 140.1 492.6Z"/>
<path fill="#1f6874" d="M192.7 477.6C193 476.4 194.7 474.6 195.7 474.6C196.8 474.6 198.7 476.4 199 477.6C199.2 478.7 198 480.7 197.2 481.3C196.4 481.9 194.7 481.9 194 481.3C193.2 480.7 192.4 478.7 192.7 477.6Z"/>
<path fill="#1f6874" d="M245.3 482.6C246.7 481.4 251.1 480.2 255.3 479.6C259.5 478.9 265.3 479.2 270.3 478.8C275.3 478.4 280.7 477.5 285.3 477.1C289.9 476.6 294.7 475.6 297.8 476.3C301 477 301.8 479.6 304.1 481.3C306.4 483 308.5 485.9 311.6 486.3C314.7 486.7 318.5 484.5 322.9 483.8C327.2 483.1 332.7 482.5 337.9 482.1C343.1 481.6 350.6 480.6 354.2 481.3C357.7 482 358.7 484.7 359.2 486.3C359.6 488 358.5 490.1 356.7 491.3C354.8 492.6 350.2 491.7 347.9 493.8C345.6 495.9 345 501.9 342.9 503.8C340.8 505.8 337.7 506 335.4 505.6C333.1 505.2 332 502.3 329.1 501.3C326.2 500.4 321.2 501.5 317.9 500.1C314.5 498.6 312.9 494.2 309.1 492.6C305.3 490.9 300.1 490.6 295.3 490.1C290.5 489.6 285.3 489.9 280.3 489.6C275.3 489.2 269.9 488.2 265.3 488.1C260.7 487.9 255.9 489.1 252.8 488.8C249.6 488.5 247.8 487.4 246.5 486.3C245.3 485.3 243.8 483.7 245.3 482.6Z"/>
<path fill="#1f6874" d="M234 508.8C234.4 507.9 236.9 507.1 237.8 507.6C238.6 508.1 239.4 511.2 239 512.1C238.6 513 236.1 513.6 235.3 513.1C234.4 512.6 233.6 509.8 234 508.8Z"/>
<path fill="#1f6874" d="M369.2 493.8C369.2 492.2 374 488.3 376.7 485.6C379.4 482.9 383.1 479.3 385.4 477.6C387.7 475.8 389 474.4 390.5 475.1C391.9 475.7 392.7 478.8 394.2 481.3C395.7 483.8 398 487.8 399.2 490.1C400.5 492.4 402.3 493.8 401.7 495.1C401.1 496.3 398.2 497.1 395.5 497.6C392.7 498.1 388.6 498.5 385.4 498.1C382.3 497.7 379.4 495.8 376.7 495.1C374 494.4 369.2 495.4 369.2 493.8Z"/>
<path fill="#1f6874" d="M47.5 547.6C48.1 546 50.9 544.5 53.8 543.9C56.7 543.3 60.7 542.8 65 543.9C69.4 544.9 75.1 547.9 80.1 550.2C85.1 552.4 89.7 554.7 95.1 557.7C100.5 560.6 107.2 565.2 112.6 567.7C118 570.2 123.9 572.3 127.6 572.7C131.4 573.1 132.6 570 135.1 570.2C137.6 570.4 139.3 572.7 142.6 573.9C146 575.2 151.4 576.2 155.2 577.7C158.9 579.1 162 580.6 165.2 582.7C168.3 584.8 173.1 588.3 173.9 590.2C174.8 592.1 172.5 594.6 170.2 594C167.9 593.3 162.5 586.2 160.2 586.4C157.9 586.7 158.1 594.2 156.4 595.2C154.7 596.2 152 594.8 150.2 592.7C148.3 590.6 147.2 584.4 145.1 582.7C143.1 581 139.7 581.4 137.6 582.7C135.5 583.9 134.7 590 132.6 590.2C130.5 590.4 128 586 125.1 583.9C122.2 581.9 119.3 579.1 115.1 577.7C110.9 576.2 104.5 575 100.1 575.2C95.7 575.4 91.7 577.1 88.8 578.9C85.9 580.8 85.7 584.2 82.6 586.4C79.4 588.7 73.2 591.6 70.1 592.2C66.9 592.8 64.8 591.8 63.8 590.2C62.7 588.6 62.5 585 63.8 582.7C65 580.4 71.1 579.1 71.3 576.4C71.5 573.7 67.8 569.1 65 566.4C62.3 563.7 57.5 562.2 55 560.2C52.5 558.1 51.3 556 50 553.9C48.8 551.8 46.9 549.3 47.5 547.6Z"/>
<path fill="#1f6874" d="M48.8 525.6C48.7 524.7 51 523 52 523.1C53.1 523.2 54.9 525.4 55 526.4C55.1 527.3 53.6 529 52.5 528.9C51.5 528.7 48.9 526.6 48.8 525.6Z"/>
<path fill="#1f6874" d="M137.6 610.2C138.9 610.1 143.9 611.8 147.6 613.2C151.4 614.7 156.6 617 160.2 619C163.7 621 165.6 623.8 168.9 625.2C172.3 626.7 177.5 626.3 180.2 627.7C182.9 629.2 184.8 632.1 185.2 634C185.6 635.9 184.6 638.7 182.7 639C180.8 639.3 176.6 637.2 173.9 635.8C171.2 634.3 169.1 632.2 166.4 630.3C163.7 628.3 160.8 626.1 157.7 624C154.5 621.9 150.6 619.4 147.6 617.7C144.7 616.1 141.8 615.2 140.1 614C138.5 612.7 136.4 610.4 137.6 610.2Z"/>
<path fill="#1f6874" d="M190.2 631.5C190.4 630.5 193.9 629.7 195.2 630.3C196.5 630.8 198.4 633.7 198.2 634.8C198 635.8 195.3 637.1 194 636.5C192.6 636 190 632.5 190.2 631.5Z"/>
<path fill="#1f6874" d="M192.7 572.7C193.5 571.2 197.3 568.9 200.2 568.9C203.1 568.9 207.3 570.8 210.2 572.7C213.1 574.6 215.6 577.7 217.7 580.2C219.8 582.7 222.3 585.8 222.7 587.7C223.2 589.6 222.3 591.7 220.2 591.5C218.2 591.2 213.1 588.1 210.2 586.4C207.3 584.8 205.2 582.9 202.7 581.4C200.2 580 196.9 579.1 195.2 577.7C193.5 576.2 191.9 574.1 192.7 572.7Z"/>
<path fill="#1f6874" d="M244 600.2C244.6 599 248 596.9 250.3 597.7C252.6 598.5 255.3 602.5 257.8 605.2C260.3 607.9 264.9 612.1 265.3 614C265.7 615.9 262.4 617.1 260.3 616.5C258.2 615.9 255.1 612.1 252.8 610.2C250.5 608.3 248 606.9 246.5 605.2C245.1 603.6 243.4 601.5 244 600.2Z"/>
<path fill="#1f6874" d="M246.5 614C247.4 613.1 250.1 611.7 252.8 612.7C255.5 613.8 259.9 618.2 262.8 620.2C265.7 622.3 269.7 624 270.3 625.2C270.9 626.5 269 628.2 266.5 627.7C264 627.3 258.4 624.4 255.3 622.7C252.2 621.1 249.2 619.2 247.8 617.7C246.3 616.3 245.7 614.8 246.5 614Z"/>
<path fill="#1f6874" d="M277.8 630.3C278.6 629.2 282.4 627.7 285.3 629C288.2 630.3 292 634.6 295.3 637.8C298.7 640.9 302 644.9 305.3 647.8C308.7 650.7 312 652.6 315.4 655.3C318.7 658 322.9 661.5 325.4 664C327.9 666.5 330.8 669.3 330.4 670.3C330 671.3 325.8 670.9 322.9 670.3C319.9 669.7 316.6 668 312.9 666.5C309.1 665.1 304.5 663.4 300.3 661.5C296.2 659.7 292 657 287.8 655.3C283.7 653.6 276.6 653.2 275.3 651.5C274.1 649.9 277.8 645.9 280.3 645.3C282.8 644.6 289.1 648.6 290.3 647.8C291.6 646.9 289.5 642.3 287.8 640.3C286.2 638.2 282 636.9 280.3 635.3C278.6 633.6 277 631.3 277.8 630.3Z"/>
<path fill="#5f5e1e" d="M570.2 488.8C571.6 487.6 578.5 490.1 582.7 490.1C586.9 490.1 591 488.5 595.2 488.8C599.4 489.2 603.6 491.5 607.7 492.1C611.9 492.7 615.7 492.2 620.3 492.6C624.8 493 630.7 494.4 635.3 494.6C639.9 494.8 644 493.3 647.8 493.8C651.5 494.3 655.9 495.7 657.8 497.6C659.7 499.5 659.9 502.9 659 505.1C658.2 507.3 655.5 509.6 652.8 510.6C650.1 511.6 646.1 511.5 642.8 511.4C639.4 511.2 636.5 510.6 632.8 509.6C629 508.6 624.4 506.5 620.3 505.1C616.1 503.7 611.9 502.2 607.7 501.3C603.6 500.5 599.4 500.3 595.2 500.1C591 499.9 586.2 500.5 582.7 500.1C579.2 499.7 576 499.5 573.9 497.6C571.9 495.7 568.7 490.1 570.2 488.8Z"/>
<path fill="#5f5e1e" d="M537.6 510.1C538.5 508.4 542.7 506.8 545.2 506.3C547.7 505.9 551 506.6 552.7 507.6C554.3 508.6 556 510.9 555.2 512.6C554.3 514.3 550.2 517 547.7 517.6C545.2 518.2 541.8 517.6 540.2 516.4C538.5 515.1 536.8 511.8 537.6 510.1Z"/>
<path fill="#1f6874" d="M600.2 518.1C601.1 517.4 606.9 517.7 610.2 518.1C613.6 518.5 617.5 519.2 620.3 520.6C623 522 625.9 524.8 626.5 526.4C627.1 528 625.9 530.3 624 530.1C622.1 530 618.4 527 615.2 525.6C612.1 524.3 607.7 523.4 605.2 522.1C602.7 520.9 599.4 518.8 600.2 518.1Z"/>
<path fill="#1f6874" d="M610.2 606.5C610.5 605.2 613.1 604.4 614 605.2C614.9 606.1 616 610.2 615.7 611.5C615.5 612.7 613.2 613.6 612.2 612.7C611.3 611.9 609.9 607.7 610.2 606.5Z"/>
<path fill="#1f6874" d="M626.5 624C627.1 621.3 630.9 618.6 632.8 617.7C634.6 616.9 636.1 617.3 637.8 619C639.4 620.7 641.3 624.6 642.8 627.7C644.2 630.9 647 635.5 646.5 637.8C646.1 640.1 642.6 640.9 640.3 641.5C638 642.1 634.6 642.8 632.8 641.5C630.9 640.3 630.1 636.9 629 634C628 631.1 625.9 626.7 626.5 624Z"/>
<path fill="#1f6874" d="M503.9 580.7C504.2 579.9 506.8 579.6 507.6 580.2C508.4 580.7 509.2 583.1 508.9 583.9C508.5 584.8 506.4 585.7 505.6 585.2C504.8 584.7 503.5 581.5 503.9 580.7Z"/>
<path fill="#1f6874" d="M446.3 510.1C446.9 508.7 449.5 507.5 450.5 508.1C451.6 508.7 452.6 512.2 452.5 513.9C452.5 515.5 451 517.7 450 518.1C449.1 518.5 447.7 517.7 447 516.4C446.4 515 445.7 511.5 446.3 510.1Z"/>
<path fill="#5f5e1e" d="M873.8 577.7C874.2 576.2 876.8 575.2 878.8 575.2C880.9 575.2 884.5 576.4 886.3 577.7C888.2 578.9 890.5 581.2 890.1 582.7C889.7 584.2 886.1 586.2 883.8 586.4C881.5 586.7 878 585.4 876.3 583.9C874.7 582.5 873.4 579.1 873.8 577.7Z"/>
<path fill="#5f5e1e" d="M890.1 592.7C891.1 590.4 895.3 586 897.6 583.9C899.9 581.9 901.8 580.2 903.9 580.2C906 580.2 910.1 582.3 910.1 583.9C910.1 585.6 906.2 588.3 903.9 590.2C901.6 592.1 898.4 594 896.4 595.2C894.3 596.5 892.4 598.1 891.4 597.7C890.3 597.3 889.1 595 890.1 592.7Z"/>
<path fill="#5f5e1e" d="M1151.7 565.2C1152.3 562.7 1157.7 558.1 1160.4 555.2C1163.1 552.2 1165 549.7 1167.9 547.6C1170.9 545.6 1174.2 543.3 1178 542.6C1181.7 542 1186.5 543.5 1190.5 543.9C1194.4 544.3 1199.9 543.7 1201.7 545.1C1203.6 546.6 1203.6 551.2 1201.7 552.7C1199.9 554.1 1194 553.5 1190.5 553.9C1186.9 554.3 1183.4 553.7 1180.5 555.2C1177.5 556.6 1175.5 560.4 1173 562.7C1170.5 565 1168.2 567.7 1165.4 568.9C1162.7 570.2 1159 570.8 1156.7 570.2C1154.4 569.5 1151.1 567.7 1151.7 565.2Z"/>
<path fill="#5f5e1e" d="M1143.7 562.7C1143.7 563.1 1143.4 563.7 1143.1 564.1C1142.7 564.4 1142.1 564.7 1141.7 564.7C1141.2 564.7 1140.6 564.4 1140.2 564.1C1139.9 563.7 1139.7 563.1 1139.7 562.7C1139.7 562.2 1139.9 561.6 1140.2 561.2C1140.6 560.9 1141.2 560.7 1141.7 560.7C1142.1 560.7 1142.7 560.9 1143.1 561.2C1143.4 561.6 1143.7 562.2 1143.7 562.7Z"/>
<path fill="#1f6874" d="M836.3 553.9C837.1 552 839.8 549.1 841.3 548.9C842.7 548.7 844.8 550.8 845 552.7C845.3 554.5 843.6 558.1 842.5 560.2C841.5 562.2 839.8 565.2 838.8 565.2C837.7 565.2 836.7 562 836.3 560.2C835.9 558.3 835.4 555.8 836.3 553.9Z"/>
<path fill="#1f6874" d="M923.9 556.4C924.3 554.1 927.2 553.5 928.9 553.9C930.6 554.3 933.3 556.8 933.9 558.9C934.5 561 933.9 565 932.7 566.4C931.4 567.9 927.9 569.3 926.4 567.7C924.9 566 923.5 558.7 923.9 556.4Z"/>
<path fill="#1f6874" d="M980.2 538.1C980.6 536.5 982.9 535.3 984 535.6C985 536 986.3 538.5 986.5 540.1C986.6 541.8 985.6 544.7 984.7 545.6C983.9 546.6 982.2 546.9 981.5 545.6C980.7 544.4 979.8 539.8 980.2 538.1Z"/>
<path fill="#1f6874" d="M1014 550.2C1014.6 548.4 1019.2 547.8 1022.8 547.1C1026.3 546.5 1031.5 546.2 1035.3 546.4C1039 546.6 1042.4 548.4 1045.3 548.1C1048.2 547.9 1050.3 544.3 1052.8 544.6C1055.3 545 1058.2 547.6 1060.3 550.2C1062.4 552.7 1063.9 556.6 1065.3 560.2C1066.8 563.7 1068 568.1 1069.1 571.4C1070.1 574.8 1071.8 577.3 1071.6 580.2C1071.4 583.1 1069.7 586.7 1067.8 588.9C1065.9 591.2 1063 593.3 1060.3 594C1057.6 594.6 1054.1 594 1051.6 592.7C1049 591.5 1047 588.9 1045.3 586.4C1043.6 583.9 1043 580.4 1041.5 577.7C1040.1 575 1038.8 572.7 1036.5 570.2C1034.2 567.7 1030.7 564.8 1027.8 562.7C1024.9 560.6 1021.3 559.7 1019 557.7C1016.7 555.6 1013.4 551.9 1014 550.2Z"/>
<path fill="#1f6874" d="M967.7 609C968.4 607.1 970.6 604.6 972.7 602.7C974.8 600.8 978.1 597.7 980.2 597.7C982.3 597.7 985.2 600.8 985.2 602.7C985.2 604.6 982.3 606.8 980.2 609C978.1 611.1 974.7 614.9 972.7 615.7C970.7 616.6 969 615.1 968.2 614C967.4 612.9 966.9 610.9 967.7 609Z"/>
<path fill="#1f6874" d="M998.7 588.2C998.7 588.7 998.5 589.4 998.1 589.8C997.7 590.2 997 590.5 996.5 590.5C996 590.5 995.3 590.2 994.9 589.8C994.5 589.4 994.2 588.7 994.2 588.2C994.2 587.7 994.5 587 994.9 586.6C995.3 586.2 996 585.9 996.5 585.9C997 585.9 997.7 586.2 998.1 586.6C998.5 587 998.7 587.7 998.7 588.2Z"/>
<path fill="#1f6874" d="M1084.1 516.4C1084.5 513.9 1088.1 509.7 1090.4 507.6C1092.6 505.5 1095.1 504.7 1097.9 503.8C1100.6 503 1103.9 503.2 1106.6 502.6C1109.3 502 1111.4 500.5 1114.1 500.1C1116.8 499.7 1120.8 498.8 1122.9 500.1C1125 501.3 1126.4 504.9 1126.6 507.6C1126.9 510.3 1125.8 514.5 1124.1 516.4C1122.5 518.2 1119.1 518.9 1116.6 518.9C1114.1 518.9 1111.4 516.1 1109.1 516.4C1106.8 516.6 1105.2 519 1102.9 520.1C1100.6 521.2 1097.9 522.8 1095.4 523.1C1092.9 523.5 1089.7 523.2 1087.8 522.1C1086 521 1083.7 518.8 1084.1 516.4Z"/>
<path fill="#1f6874" d="M1079.3 522.1C1079.3 522.6 1079.1 523.2 1078.8 523.5C1078.4 523.9 1077.8 524.1 1077.3 524.1C1076.9 524.1 1076.3 523.9 1075.9 523.5C1075.6 523.2 1075.3 522.6 1075.3 522.1C1075.3 521.6 1075.6 521 1075.9 520.7C1076.3 520.4 1076.9 520.1 1077.3 520.1C1077.8 520.1 1078.4 520.4 1078.8 520.7C1079.1 521 1079.3 521.6 1079.3 522.1Z"/>
<path fill="#1f6874" d="M1069.1 605.2C1069.7 603.8 1073.5 602.3 1075.3 602.7C1077.2 603.1 1079.9 606.1 1080.3 607.7C1080.8 609.4 1079.3 612.1 1077.8 612.7C1076.4 613.4 1073 612.7 1071.6 611.5C1070.1 610.2 1068.4 606.7 1069.1 605.2Z"/>
<path fill="#1f6874" d="M1090.4 617.7C1092 614.4 1094.9 612.3 1097.9 612.7C1100.8 613.1 1105.2 617.3 1107.9 620.2C1110.6 623.2 1112.5 626.5 1114.1 630.3C1115.8 634 1118.1 639.2 1117.9 642.8C1117.7 646.3 1115.8 650.1 1112.9 651.5C1110 653 1104.1 652.6 1100.4 651.5C1096.6 650.5 1092.4 648.4 1090.4 645.3C1088.3 642.1 1087.8 637.3 1087.8 632.8C1087.8 628.2 1088.7 621.1 1090.4 617.7Z"/>
<path fill="#1f6874" d="M1071.6 642.8C1071.8 640.7 1073.9 639 1075.3 640.3C1076.8 641.5 1079.7 647.8 1080.3 650.3C1081 652.8 1080.1 654.9 1079.1 655.3C1078 655.7 1075.3 654.9 1074.1 652.8C1072.8 650.7 1071.4 644.9 1071.6 642.8Z"/>
<path fill="#1f6874" d="M1061.1 610.2C1061.1 610.7 1060.8 611.3 1060.5 611.6C1060.1 612 1059.5 612.2 1059.1 612.2C1058.6 612.2 1058 612 1057.6 611.6C1057.3 611.3 1057.1 610.7 1057.1 610.2C1057.1 609.8 1057.3 609.1 1057.6 608.8C1058 608.5 1058.6 608.2 1059.1 608.2C1059.5 608.2 1060.1 608.5 1060.5 608.8C1060.8 609.1 1061.1 609.8 1061.1 610.2Z"/>
<path fill="#5f5e1e" d="M1168.7 540.1C1171.5 538.5 1179.8 541 1185 541.4C1190.2 541.8 1195 541.6 1200 542.6C1205 543.7 1210.1 545.8 1215.1 547.6C1220.1 549.5 1227.2 552.2 1230.1 553.9C1233 555.6 1234.2 557.2 1232.6 557.7C1230.9 558.1 1224.7 557.2 1220.1 556.4C1215.5 555.6 1210.1 553.7 1205 552.7C1200 551.6 1194.6 550.4 1190 550.2C1185.4 549.9 1181.1 551.2 1177.5 551.4C1174 551.6 1170.2 553.3 1168.7 551.4C1167.3 549.5 1166 541.8 1168.7 540.1Z"/>
<path fill="#5f5e1e" d="M1265.1 560.2C1266.2 559.5 1270.1 562.7 1272.6 565.2C1275.1 567.7 1278.3 572.3 1280.1 575.2C1282 578.1 1283.9 581.2 1283.9 582.7C1283.9 584.2 1282 584.8 1280.1 583.9C1278.3 583.1 1274.9 580.2 1272.6 577.7C1270.3 575.2 1267.6 571.8 1266.4 568.9C1265.1 566 1264.1 560.8 1265.1 560.2Z"/>
<path fill="#5f5e1e" d="M1168.7 557.7C1169.8 556.4 1173.8 556.8 1175 557.7C1176.3 558.5 1177.3 561.4 1176.3 562.7C1175.2 563.9 1170 566 1168.7 565.2C1167.5 564.3 1167.7 558.9 1168.7 557.7Z"/>
<path fill="#1f6874" d="M1325.9 473.1C1325.9 473.5 1325.7 474.1 1325.4 474.5C1325 474.8 1324.4 475.1 1323.9 475.1C1323.5 475.1 1322.9 474.8 1322.5 474.5C1322.2 474.1 1321.9 473.5 1321.9 473.1C1321.9 472.6 1322.2 472 1322.5 471.6C1322.9 471.3 1323.5 471.1 1323.9 471.1C1324.4 471.1 1325 471.3 1325.4 471.6C1325.7 472 1325.9 472.6 1325.9 473.1Z"/>
<path fill="#1f6874" d="M1402.8 522.6C1402.7 520.9 1404.5 517 1405.3 516.4C1406.1 515.7 1407.7 517.2 1407.8 518.9C1407.9 520.5 1406.6 525.7 1405.8 526.4C1405 527 1402.9 524.3 1402.8 522.6Z"/>
<path fill="#1f6874" d="M1376.5 533.1C1376.9 532.4 1380.1 532.1 1381.5 532.6C1382.9 533.2 1385.2 535.6 1384.8 536.4C1384.4 537.1 1380.4 537.7 1379 537.1C1377.6 536.6 1376.1 533.9 1376.5 533.1Z"/>
<path fill="#1f6874" d="M1327.7 595.2C1328.5 592.7 1332.3 590.4 1335.2 590.2C1338.1 590 1342.5 592.9 1345.2 594C1347.9 595 1351.3 594.6 1351.5 596.5C1351.7 598.3 1348.8 603.3 1346.5 605.2C1344.2 607.1 1340.4 607.7 1337.7 607.7C1335 607.7 1331.9 607.3 1330.2 605.2C1328.5 603.1 1326.9 597.7 1327.7 595.2Z"/>
<path fill="#1f6874" d="M1491.7 535.1C1492.5 533.9 1496.9 533.1 1500.4 532.6C1504 532.1 1508.5 531.9 1512.9 532.1C1517.3 532.3 1524.4 530.9 1526.7 533.9C1529 536.9 1528.2 547 1526.7 550.2C1525.2 553.3 1519.8 553.1 1517.9 552.7C1516.1 552.2 1517.5 549.3 1515.4 547.6C1513.3 546 1508.8 543.9 1505.4 542.6C1502.1 541.4 1497.7 541.4 1495.4 540.1C1493.1 538.9 1490.8 536.4 1491.7 535.1Z"/>
<path fill="#1f6874" d="M1467.9 567.7C1468.2 567 1470.7 566.7 1471.6 567.2C1472.5 567.7 1473.7 570 1473.4 570.7C1473.1 571.4 1470.8 571.9 1469.9 571.4C1469 570.9 1467.6 568.4 1467.9 567.7Z"/>
<path fill="#1f6874" d="M1457.9 602.7C1458.3 601.5 1461.6 600 1462.9 600.2C1464.1 600.4 1465.8 602.8 1465.4 604C1465 605.1 1461.6 607.4 1460.4 607.2C1459.1 607 1457.4 603.9 1457.9 602.7Z"/>
<path fill="#1f6874" d="M1482.4 608.2C1482.9 607.2 1486.3 605 1487.4 605.2C1488.5 605.5 1489.7 608.7 1489.1 609.7C1488.6 610.8 1485.3 611.7 1484.1 611.5C1483 611.2 1481.8 609.3 1482.4 608.2Z"/>
<path fill="#1f6874" d="M1495.4 602.7C1495.9 601.4 1500.4 597.4 1501.7 597.2C1502.9 597 1503.5 600.1 1502.9 601.5C1502.4 602.8 1499.7 605 1498.4 605.2C1497.2 605.4 1494.9 604.1 1495.4 602.7Z"/>
<path fill="#1f6874" d="M1499.2 485.6C1500.4 484.5 1504.8 483.2 1507.9 483.1C1511.1 482.9 1516.3 483.5 1517.9 484.6C1519.6 485.7 1519.6 488.7 1517.9 489.6C1516.3 490.5 1510.8 490.1 1507.9 490.1C1505 490.1 1501.9 490.3 1500.4 489.6C1499 488.8 1497.9 486.7 1499.2 485.6Z"/>
<path fill="#1f6874" d="M1490.4 489.6C1490.9 488.7 1494.4 487.6 1495.4 488.1C1496.4 488.6 1497.2 491.7 1496.7 492.6C1496.2 493.4 1493.4 493.6 1492.4 493.1C1491.4 492.6 1489.9 490.4 1490.4 489.6Z"/>
<path fill="#1f6874" d="M555.2 376C555.7 373.7 558.1 370 560.2 367.2C562.3 364.5 565.2 361.6 567.7 359.7C570.2 357.9 573.1 356.2 575.2 356C577.3 355.8 579.8 356.8 580.2 358.5C580.6 360.2 579.4 363.5 577.7 366C576 368.5 572.7 371.2 570.2 373.5C567.7 375.8 564.8 378.5 562.7 379.8C560.5 381 558.4 381.6 557.2 381C555.9 380.4 554.7 378.3 555.2 376Z"/>
<path fill="#0b3763" d="M116.4 485.6C116.7 484.7 118.3 483.4 119.6 483.1C120.9 482.8 123.2 483.3 124.1 483.8C125 484.4 125.5 485.6 125.1 486.3C124.7 487.1 122.9 488 121.6 488.3C120.4 488.6 118.5 488.5 117.6 488.1C116.7 487.6 116 486.4 116.4 485.6Z"/>
<path fill="#0b3763" d="M141.9 493.1C143.4 491.8 149.2 490.3 152.7 489.6C156.1 488.9 159.3 489.4 162.7 488.8C166 488.3 169.8 486.6 172.7 486.3C175.6 486 179.6 485.8 180.2 487.1C180.8 488.3 178.1 492.3 176.4 493.8C174.8 495.4 172.9 495.7 170.2 496.3C167.5 497 163.1 497.2 160.2 497.6C157.2 498 155.4 498.9 152.7 498.8C149.9 498.8 145.7 498 143.9 497.1C142.1 496.1 140.4 494.3 141.9 493.1Z"/>
<path fill="#0b3763" d="M246.5 483.8C247.4 482.9 251.1 481.3 252.8 481.3C254.4 481.3 256.5 482.7 256.5 483.8C256.5 484.9 254.2 487.5 252.8 488.1C251.3 488.6 248.8 487.8 247.8 487.1C246.7 486.4 245.7 484.8 246.5 483.8Z"/>
<path fill="#0b3763" d="M261.5 483.8C262.6 482.7 267.8 481.3 270.3 481.3C272.8 481.3 275.9 482.6 276.6 483.8C277.2 485.1 275.5 487.6 274.1 488.8C272.6 490.1 269.5 491.5 267.8 491.3C266.1 491.2 265.1 489.3 264 488.1C263 486.8 260.5 484.9 261.5 483.8Z"/>
<path fill="#0b3763" d="M279.1 483.8C280.1 481.7 284.5 480.1 287.8 478.8C291.2 477.6 296.6 475.9 299.1 476.3C301.6 476.7 302.8 479.2 302.8 481.3C302.8 483.4 301.2 487 299.1 488.8C297 490.6 293.2 491.7 290.3 492.1C287.4 492.5 283.4 492.7 281.6 491.3C279.7 489.9 278 485.9 279.1 483.8Z"/>
<path fill="#0b3763" d="M315.4 490.1C316 488.5 319.7 486.3 321.6 486.3C323.5 486.3 326.6 488.4 326.6 490.1C326.6 491.7 323.1 495.4 321.6 496.3C320.2 497.3 318.9 496.6 317.9 495.6C316.8 494.5 314.7 491.6 315.4 490.1Z"/>
<path fill="#0b3763" d="M329.1 488.8C330.4 487.2 335.4 486.1 337.9 486.3C340.4 486.5 343.5 487.6 344.1 490.1C344.8 492.6 342.9 498.6 341.6 501.3C340.4 504.1 338.3 505.9 336.6 506.3C335 506.8 332.7 505.5 331.6 503.8C330.6 502.2 330.8 498.8 330.4 496.3C330 493.8 327.9 490.5 329.1 488.8Z"/>
<path fill="#0b3763" d="M351.7 483.8C352.3 483 355.6 482.5 356.7 483.1C357.7 483.6 358.5 486.2 357.9 487.1C357.3 487.9 353.9 488.6 352.9 488.1C351.9 487.5 351 484.7 351.7 483.8Z"/>
<path fill="#0b3763" d="M372.9 490.1C373.8 488.6 377.7 484 379.2 483.8C380.6 483.6 381.7 487.4 381.7 488.8C381.7 490.3 380.4 492 379.2 492.6C377.9 493.2 375.2 493 374.2 492.6C373.1 492.2 372.1 491.5 372.9 490.1Z"/>
<path fill="#0b3763" d="M384.2 492.6C384.6 490.4 387.7 485.9 389.2 483.8C390.7 481.7 391.7 479.2 393 480.1C394.2 480.9 395.5 486.4 396.7 488.8C398 491.2 400.9 493.2 400.5 494.6C400 496 396.5 496.7 394.2 497.1C391.9 497.5 388.4 497.8 386.7 497.1C385 496.3 383.8 494.8 384.2 492.6Z"/>
<path fill="#0b3763" d="M53.8 550.2C54.2 548.5 56.1 546.9 58.8 546.4C61.5 545.9 66.1 546.1 70.1 547.1C74 548.2 78.4 550.5 82.6 552.7C86.7 554.8 90.9 557.7 95.1 560.2C99.3 562.7 103.8 565.4 107.6 567.7C111.4 570 115.3 571.8 117.6 573.9C119.9 576 122.2 579.6 121.4 580.2C120.5 580.8 116.1 578.7 112.6 577.7C109.1 576.6 103.8 574.1 100.1 573.9C96.3 573.7 92.8 575.8 90.1 576.4C87.4 577.1 86.3 578.7 83.8 577.7C81.3 576.6 78.2 572.7 75.1 570.2C71.9 567.7 68.2 565 65 562.7C61.9 560.4 58.2 558.5 56.3 556.4C54.4 554.3 53.4 551.8 53.8 550.2Z"/>
<path fill="#0b3763" d="M63.8 586.4C64.6 584.2 68 580 71.3 578.9C74.6 577.9 81.5 579.1 83.8 580.2C86.1 581.2 86.3 583.3 85.1 585.2C83.8 587.1 79.4 590.3 76.3 591.5C73.2 592.6 68.4 593 66.3 592.2C64.2 591.4 63 588.7 63.8 586.4Z"/>
<path fill="#0b3763" d="M123.9 580.2C124.1 578.7 128 577.9 130.1 578.9C132.2 580 135.5 584.4 136.4 586.4C137.2 588.5 136.4 591.2 135.1 591.5C133.9 591.7 130.8 589.6 128.9 587.7C127 585.8 123.7 581.6 123.9 580.2Z"/>
<path fill="#0b3763" d="M147.6 580.2C148.3 578.3 151 576 152.7 576.4C154.3 576.9 157 580 157.7 582.7C158.3 585.4 157.2 590.8 156.4 592.7C155.6 594.6 153.9 594.8 152.7 594C151.4 593.1 149.7 590 148.9 587.7C148.1 585.4 147 582.1 147.6 580.2Z"/>
<path fill="#0b3763" d="M163.9 627.7C164.5 626.7 167.5 625 170.2 625.2C172.9 625.5 177.9 627.4 180.2 629C182.5 630.6 183.9 633.2 183.9 634.8C183.9 636.3 182.1 638.2 180.2 638.3C178.3 638.3 175 636.4 172.7 635.3C170.4 634.1 167.9 632.8 166.4 631.5C165 630.3 163.3 628.8 163.9 627.7Z"/>
<path fill="#0b3763" d="M196.5 573.9C197.2 572.8 200.6 570.7 202.7 570.7C204.8 570.7 207.7 572.7 209 573.9C210.2 575.2 211.1 577.2 210.2 578.2C209.4 579.1 206 579.8 204 579.7C202 579.6 199.5 578.6 198.2 577.7C197 576.7 195.7 575.1 196.5 573.9Z"/>
<path fill="#0b3763" d="M282.8 634C282.8 633 286.4 632.6 287.8 633.3C289.3 633.9 291.6 636.8 291.6 637.8C291.6 638.7 289.3 639.6 287.8 639C286.4 638.4 282.8 635 282.8 634Z"/>
<path fill="#0b3763" d="M287.8 651.5C288.2 650.3 292.4 648.6 295.3 649C298.3 649.4 302 651.9 305.3 654C308.7 656.1 312.9 659.2 315.4 661.5C317.9 663.8 320.8 667 320.4 667.8C319.9 668.6 315.8 667.6 312.9 666.5C309.9 665.5 306.2 663.2 302.8 661.5C299.5 659.9 295.3 658.2 292.8 656.5C290.3 654.9 287.4 652.8 287.8 651.5Z"/>
<path fill="#283712" d="M607.7 497.6C608.6 496.5 613.6 495.9 617.7 495.6C621.9 495.2 628.6 495.3 632.8 495.6C636.9 495.8 641.1 496.1 642.8 497.1C644.4 498 644.4 500.8 642.8 501.3C641.1 501.9 633.2 500 632.8 500.6C632.3 501.2 640.3 504.1 640.3 505.1C640.3 506.1 635.7 506.8 632.8 506.3C629.8 505.9 626.1 503.3 622.8 502.6C619.4 501.9 615.2 502.9 612.7 502.1C610.2 501.3 606.9 498.7 607.7 497.6Z"/>
<path fill="#0b3763" d="M605.2 519.6C606.3 519.2 612.3 519 615.2 519.6C618.2 520.2 621.2 521.8 622.8 523.1C624.3 524.5 625.6 527.2 624.8 527.6C623.9 528 620.4 526.5 617.7 525.6C615.1 524.7 611.1 523.1 609 522.1C606.9 521.1 604.2 520 605.2 519.6Z"/>
<path fill="#0b3763" d="M630.3 627.7C630.6 625.2 633.3 622.7 634.8 622.7C636.2 622.7 637.8 625.5 639 627.7C640.3 630 642.5 634.5 642.3 636.5C642.1 638.5 639.4 639.6 637.8 639.8C636.2 640 634 639.8 632.8 637.8C631.5 635.8 629.9 630.3 630.3 627.7Z"/>
<path fill="#0b3763" d="M1016.5 551.4C1017.1 549.9 1021.7 549.2 1025.3 548.9C1028.8 548.6 1034.2 549.2 1037.8 549.6C1041.3 550.1 1043.8 551.7 1046.5 551.4C1049.3 551.1 1052 547.2 1054.1 547.6C1056.1 548.1 1057.6 551.4 1059.1 553.9C1060.5 556.4 1061.4 559.5 1062.8 562.7C1064.3 565.8 1066.8 569.5 1067.8 572.7C1068.9 575.8 1069.7 578.7 1069.1 581.4C1068.4 584.2 1066.2 587.5 1064.1 588.9C1062 590.4 1059.1 590.6 1056.6 590.2C1054.1 589.8 1051.1 588.5 1049 586.4C1047 584.4 1044.3 580.4 1044 577.7C1043.8 575 1048.4 572.1 1047.8 570.2C1047.2 568.3 1043.2 567.9 1040.3 566.4C1037.4 565 1033.4 562.9 1030.3 561.4C1027.1 560 1023.8 559.3 1021.5 557.7C1019.2 556 1015.9 552.9 1016.5 551.4Z"/>
<path fill="#0b3763" d="M968.9 610.2C969.4 608.1 972.3 604.4 974 602.7C975.6 601 978.5 599.4 979 600.2C979.4 601 977.7 605.2 976.5 607.7C975.2 610.2 972.7 614.8 971.5 615.2C970.2 615.6 968.5 612.3 968.9 610.2Z"/>
<path fill="#0b3763" d="M1086.6 516.4C1087.3 514.6 1090.6 511.3 1092.9 509.6C1095.1 507.9 1098.1 506.5 1100.4 506.3C1102.7 506.2 1106.4 507.2 1106.6 508.8C1106.8 510.5 1103.7 514.4 1101.6 516.4C1099.5 518.3 1096.3 520 1094.1 520.6C1091.9 521.2 1089.6 520.8 1088.3 520.1C1087.1 519.4 1085.8 518.1 1086.6 516.4Z"/>
<path fill="#0b3763" d="M1110.4 510.1C1110.8 507.8 1114.5 505.1 1116.6 503.8C1118.7 502.6 1121.5 501.8 1122.9 502.6C1124.3 503.4 1125.1 506.6 1124.9 508.8C1124.7 511.1 1123.4 514.9 1121.6 516.4C1119.8 517.8 1116 518.7 1114.1 517.6C1112.3 516.6 1110 512.4 1110.4 510.1Z"/>
<path fill="#0b3763" d="M1092.9 620.2C1094 617.7 1095.6 615.9 1097.9 616.5C1100.2 617.1 1104.3 621.3 1106.6 624C1108.9 626.7 1110.2 629.6 1111.6 632.8C1113.1 635.9 1115.6 640.2 1115.4 642.8C1115.2 645.4 1112.9 647.4 1110.4 648.3C1107.9 649.2 1103.3 649.2 1100.4 648.3C1097.4 647.4 1094.4 645.6 1092.9 642.8C1091.3 640 1090.9 635.3 1090.9 631.5C1090.9 627.7 1091.7 622.7 1092.9 620.2Z"/>
<path fill="#0b3763" d="M1331.5 597.7C1332.3 596.2 1335.4 594 1337.7 594C1340 593.9 1343.3 596.4 1345.2 597.2C1347.1 598 1349.2 597.7 1349 599C1348.8 600.2 1346.1 603.7 1344 604.7C1341.9 605.8 1338.3 605.6 1336.5 605.2C1334.6 604.9 1333.5 604 1332.7 602.7C1331.9 601.5 1330.6 599.2 1331.5 597.7Z"/>
<path fill="#0b3763" d="M1501.7 485.6C1501.9 484.7 1506.7 484 1509.2 484.1C1511.7 484.2 1515.6 485.2 1516.7 486.1C1517.7 486.9 1516.9 488.5 1515.4 489.1C1514 489.7 1510.2 490.2 1507.9 489.6C1505.6 489 1501.5 486.5 1501.7 485.6Z"/>
<path fill="#0b3763" d="M561.4 372.3C562.1 370.5 564.6 366.7 566.4 364.7C568.3 362.7 571 360.6 572.7 360.2C574.4 359.9 576.4 361.2 576.4 362.7C576.4 364.3 574.4 367.7 572.7 369.7C571 371.7 568.1 373.8 566.4 374.8C564.8 375.7 563.5 375.7 562.7 375.3C561.8 374.8 560.8 374 561.4 372.3Z"/>
<path fill="#ebe4d2" d="M59.8 568.9C59.8 569.7 59.3 570.8 58.8 571.4C58.2 572 57.1 572.4 56.3 572.4C55.5 572.4 54.4 572 53.8 571.4C53.2 570.8 52.8 569.7 52.8 568.9C52.8 568.1 53.2 567 53.8 566.4C54.4 565.9 55.5 565.4 56.3 565.4C57.1 565.4 58.2 565.9 58.8 566.4C59.3 567 59.8 568.1 59.8 568.9Z"/>
<path fill="#ebe4d2" d="M521.9 515.1C521.9 516.1 521.2 517.3 520.3 517.9C519.3 518.6 517.7 519.1 516.4 519.1C515.1 519.1 513.4 518.6 512.5 517.9C511.6 517.3 510.9 516.1 510.9 515.1C510.9 514.2 511.6 512.9 512.5 512.3C513.4 511.6 515.1 511.1 516.4 511.1C517.7 511.1 519.3 511.6 520.3 512.3C521.2 512.9 521.9 514.2 521.9 515.1Z"/>
<path fill="#ebe4d2" d="M631.5 672.3C631.5 673.1 631.1 674.1 630.6 674.6C630 675.1 629 675.6 628.3 675.6C627.5 675.6 626.5 675.1 626 674.6C625.4 674.1 625 673.1 625 672.3C625 671.5 625.4 670.5 626 670C626.5 669.5 627.5 669 628.3 669C629 669 630 669.5 630.6 670C631.1 670.5 631.5 671.5 631.5 672.3Z"/>
<path fill="#ebe4d2" d="M1274.9 588.2C1274.9 588.8 1274.5 589.7 1274.1 590.1C1273.6 590.6 1272.8 591 1272.1 591C1271.5 591 1270.6 590.6 1270.2 590.1C1269.7 589.7 1269.4 588.8 1269.4 588.2C1269.4 587.5 1269.7 586.7 1270.2 586.3C1270.6 585.8 1271.5 585.4 1272.1 585.4C1272.8 585.4 1273.6 585.8 1274.1 586.3C1274.5 586.7 1274.9 587.5 1274.9 588.2Z"/>
<path fill="#ebe4d2" d="M247 696.8C247 697.2 246.4 697.8 245.7 698.2C244.9 698.5 243.6 698.8 242.5 698.8C241.4 698.8 240.1 698.5 239.3 698.2C238.6 697.8 238 697.2 238 696.8C238 696.3 238.6 695.7 239.3 695.3C240.1 695 241.4 694.8 242.5 694.8C243.6 694.8 244.9 695 245.7 695.3C246.4 695.7 247 696.3 247 696.8Z"/>
<path fill="#ebe4d2" d="M1291.5 344.7C1291.5 345.1 1290.9 345.6 1290 345.9C1289.1 346.2 1287.4 346.4 1286.2 346.4C1284.9 346.4 1283.2 346.2 1282.3 345.9C1281.4 345.6 1280.8 345.1 1280.8 344.7C1280.8 344.4 1281.4 343.8 1282.3 343.6C1283.2 343.3 1284.9 343.1 1286.2 343.1C1287.4 343.1 1289.1 343.3 1290 343.6C1290.9 343.8 1291.5 344.4 1291.5 344.7Z"/>
<g fill="none" stroke="#808080" stroke-width="1.35" stroke-linejoin="round" stroke-linecap="round">
<path d="M486.3 445.5 482.6 455 481.3 465 492.6 473.8 500.1 476.3 501.4 487.6 505.1 495.1"/>
<path d="M451.3 502.6 460.1 505.1 468.8 507.6 477.6 515.1 480.1 523.9 490.1 528.9"/>
<path d="M505.1 495.1 500.1 500.1 492.6 498.8 490.1 510.1 491.3 528.9"/>
<path d="M530.1 467.5 527.6 477.6 531.4 487.6 537.6 490.1 540.2 495.1"/>
<path d="M505.1 495.1 512.6 486.3 520.1 488.8 527.6 482.6 531.4 487.6"/>
<path d="M537.6 475.1 545.2 490.1 542.7 500.1 550.2 497.6"/>
<path d="M550.2 477.6 555.2 492.6 550.2 497.6"/>
<path d="M560.2 478.8 565.2 493.8 556.4 496.3 550.2 497.6"/>
<path d="M540.2 495.1 542.7 500.1"/>
<path d="M491.3 528.9 480.1 535.1 476.3 545.1 481.3 555.2 491.3 557.7 495.1 565.2"/>
<path d="M495.1 565.2 500.1 577.7 496.3 590.2 500.1 602.7"/>
<path d="M500.1 602.7 503.9 605.2"/>
<path d="M495.1 565.2 505.1 557.7 511.4 560.2 520.1 572.7 532.6 577.7 536.4 587.7 545.2 590.2 548.9 605.2"/>
<path d="M548.9 605.2 540.2 607.7 531.4 606.5 526.4 620.2"/>
<path d="M503.9 605.2 506.4 620.2 515.1 627.7 526.4 620.2"/>
<path d="M548.9 605.2 550.2 617.7 560.2 622.7 565.2 632.8 570.2 642.8"/>
<path d="M526.4 620.2 537.6 627.7 550.2 635.3 555.2 644 570.2 642.8"/>
<path d="M570.2 642.8 566.4 650.3 562.7 660.3 561.4 666.5"/>
<path d="M566.4 650.3 575.2 657.8 584 667.8"/>
<path d="M506.4 620.2 510.1 637.8 511.4 655.3 513.9 670.3 516.4 689.1"/>
<path d="M1364 520.1 1363.2 537.6 1361.5 553.9"/>
<path d="M390.5 268.4 421.7 269.1"/>
<path d="M421.7 213.3 405.5 220.8 410.5 225.8 405.5 232.1 400.5 239.6"/>
<path d="M418.7 268.4 477.6 267.9 480.1 272.1 487.6 273.4 502.6 282.1 497.6 289.6 495.1 297.2 502.6 299.7 515.1 294.7 525.1 289.6 532.6 288.4 550.2 279.6 556.4 277.1 558.9 283.4 555.2 285.9"/>
<path d="M418.7 212.1 445 199.5 477.6 187.5"/>
<path d="M928.9 265.9 935.2 258.4 945.2 257.1 960.2 260.9 970.2 259.6 963.9 249.6 972.7 244.6 985.2 242.6 995.2 247.1 1006.5 245.8 1017.8 254.6 1030.3 260.9 1042.8 264.6 1056.6 268.4 1060.3 267.1"/>
<path d="M928.9 265.9 932.7 274.6 935.2 278.4"/>
<path d="M970.2 285.9 980.2 292.2 990.2 293.4 1002.7 297.2 1012.8 304.7 1022.8 308.4 1030.3 302.2 1040.3 302.2 1050.3 294.7 1054.1 284.6 1050.3 277.1 1057.8 272.1 1056.6 268.4"/>
<path d="M1060.3 267.1 1070.3 262.1 1082.8 258.4 1095.4 260.9 1110.4 265.9 1125.4 268.4 1140.4 265.9 1152.9 263.4 1160.4 269.6 1173 278.4 1165.4 282.1 1157.9 289.6 1157.9 297.2 1142.9 300.9 1125.4 297.2 1110.4 294.7 1095.4 287.1 1082.8 279.6 1070.3 272.1 1060.3 267.1"/>
<path d="M1040.3 324.7 1050.3 322.2 1060.3 332.2 1070.3 339.7 1075.3 347.2 1085.3 356 1097.9 361 1110.4 366 1122.9 367.2 1135.4 364.7 1145.4 359.7 1152.9 364.7 1160.4 372.3 1165.4 382.3 1170.5 389.8"/>
<path d="M936.4 312.2 942.7 322.2 950.2 332.2 957.7 347.2 961.4 356"/>
<path d="M975.2 323.4 985.2 319.7 995.2 322.2 1005.2 327.2 1010.3 332.2 1005.2 337.2 1010.3 347.2 1012.8 357.2 1022.8 359.7 1030.3 357.2 1035.3 347.2 1040.3 339.7 1035.3 332.2 1040.3 324.7 1030.3 317.2 1022.8 322.2 1010.3 332.2"/>
<path d="M1012.8 357.2 1015.3 367.2 1027.8 379.3"/>
<path d="M1050.3 387.3 1057.8 382.3 1060.3 372.3 1059.1 357.2 1061.6 347.2 1057.8 337.2 1050.3 332.2 1040.3 324.7"/>
<path d="M910.1 323.4 920.1 322.2 930.2 322.2 936.4 312.2"/>
<path d="M912.1 328.4 920.1 332.2 927.6 334.7 935.2 332.2"/>
<path d="M920.1 347.2 927.6 342.2 935.2 332.2"/>
<path d="M521.2 686.8 526.2 698 532.5 710.5 540 725.5 543.8 738 550 748 560 758 570 761.8 580 769.2"/>
<path d="M343.8 344.5 352.8 345.1 361.8 350.3 373.3 348.3 381 349 384.2 359.2 393.8 357.9 397.1 373.3 402.8 377.2"/>
<path d="M406 432.9 409.9 424.6 414.4 423.3 411.8 418.2 418.2 416.9 427.2 413.7"/>
<path d="M420.1 427.2 418.2 423.3 420.8 418.2"/>
<path d="M414.4 437.4 418.2 429.7 422.1 427.8"/>
<path d="M423.3 439.4 429.7 434.9 437.4 431.7 441.9 431.3"/>
<path d="M428.5 451.5 434.9 452.8 437.4 446.4"/>
<path d="M438.1 459.2 439.4 466.3"/>
<path d="M491.9 407.3 491.9 415.6"/>
<path d="M1143.3 250.2 1150 249.4 1161.7 251.9 1173.4 256.9 1185.1 263.6 1196.8 268.6 1206.8 273.6 1213.5 272.7"/>
<path d="M1143.3 250.2 1150 256.9 1153.4 263.6 1148.3 266.9 1156.7 271.9 1165 275.2 1173.4 278.6 1165 280.3 1161.7 286.9 1155 288.6 1158.4 295.3 1153.4 302.8"/>
<path d="M1213.5 272.7 1218.5 280.3 1223.5 286.9 1220.1 290.3 1226.8 295.3 1225.1 302.8"/>
<path d="M1207.3 273.8 1215.6 273.2 1221.4 281.5 1219.5 286 1224.6 286.7 1222.1 291.8 1227.2 294.4 1228.5 295.6"/>
<path d="M1228.5 295.6 1224.6 299.5 1219.5 303.3 1217.6 308.5 1217.6 311"/>
<path d="M1227.2 318.7 1231 318.1 1235.5 316.8"/>
<path d="M855.6 494.5 854.5 504.8 852.5 511 847.3 518.2 846.3 524.3"/>
<path d="M856.6 494.5 855.6 504.8 853.5 511.4 848.4 518.8 847.3 524.3"/>
<path d="M774.3 332.1 775.3 346.5 766.1 348.5 757.9 356.7 746.6 368 730.1 368"/>
<path d="M746.6 368 745.5 380.4 733.2 376.3 732.2 391.7 728 399.5 712.6 399.9"/>
<path d="M746.6 370.1 757.9 377.3 792.8 407.1 795.9 410.2 825.7 389.6"/>
<path d="M755.8 381.4 757.9 426.7 741.4 428.7 731.1 430.8 728 426.7"/>
<path d="M795.9 410.2 796.9 429.7 783.6 431.2 780.5 426.7"/>
<path d="M808.3 330 813.4 344.4 817.5 345.4 815.4 354.7 818.5 365 816.5 375.2 819.6 382.4 825.7 389.6 838.1 392.7 841.2 389.6"/>
<path d="M813.4 344.4 817.5 336.2 816.5 330"/>
<path d="M841.2 389.6 876.1 407.1 879.2 406.1"/>
<path d="M874.1 349.5 878.2 377.3 879.2 395.8 879.2 406.1"/>
<path d="M879.2 396.2 903.9 395.8 916.2 396.8 919.3 391.7"/>
<path d="M838.1 392.7 843.2 404 842.2 420.5 834 435.9"/>
<path d="M796.9 429.7 796.9 439 802.1 438 813.4 442.1 825.7 439 834 436.9"/>
<path d="M876.1 407.1 877.1 426.7 873 430.8 869.9 443.1 873 452.4"/>
<path d="M838.1 444.1 842.2 455.4 838.1 459.6 843.2 467.8 854.5 463.7 860.7 459.6 873 452.4"/>
<path d="M837 442.1 841.2 449.3 838.1 455.4"/>
<path d="M815.4 483.2 818.5 474 823.7 471.9 827.8 469.8 838.1 444.1"/>
<path d="M843.2 467.8 840.1 474 841.2 482.2 846.3 490.4 848.4 497.6"/>
<path d="M848.4 497.6 849.4 488.4 855.6 489.4 859.7 482.2 868.9 484.2 875.1 482.2 885.4 480.1 895.7 483.2 903.9 483.2"/>
<path d="M873 452.4 877.1 461.6 881.3 455.4 891.5 461.6 903.9 461.6 912.1 451.3 914.2 445.2 916.2 453.4 913.1 461.6"/>
<path d="M881.3 455.4 890.5 460.6 903.9 454.4 912.1 453.4"/>
<path d="M903.9 483.2 908 488.4 918.3 489.4 922.4 484.2 928.6 483.2"/>
<path d="M913.1 461.6 916.2 465.7 924.4 474 928.6 483.2"/>
<path d="M933.7 418.4 928.6 426.7 929.6 436.9 924.4 445.2 922.4 453.4 916.2 465.7"/>
<path d="M929.6 436.9 938.8 432.8 947.1 441.1 953.2 448.3 957.4 451.3"/>
<path d="M957.4 451.3 956.3 457.5 965.6 463.7 976.9 466.8 965.6 478.1 953.2 487.3 945 490.4 934.7 485.3 928.6 483.2"/>
<path d="M953.2 448.3 951.2 453.4 956.3 457.5"/>
<path d="M922.4 484.2 921.4 494.5 924.4 500.7 922.4 506.9"/>
<path d="M953.2 487.3 950.2 494.5 951.2 513"/>
<path d="M923.4 511 932.7 517.1 943 530.5"/>
<path d="M903.9 483.2 908 494.5 904.9 504.8 903.9 514.1 911.1 514.1"/>
<path d="M848.4 497.6 846.3 504.8 838.1 506.9 839.1 516.1 834 525.4 832.9 535.7"/>
<path d="M821.6 496.6 834 497.6 835 502.8 839.1 503.8"/>
<path d="M821.6 505.8 826.8 506.9 827.8 514.1"/>
<path d="M820 496.6 825.7 497 825.7 501.7 820 502.3"/>
<path d="M712.6 423.6 720.8 422.5 728 430.8"/>
<path d="M711.6 436.9 716.7 438 722.9 439"/>
<path d="M710.6 442.1 716.7 444.1 722.9 445.2 731.1 444.1 734.2 441.1"/>
<path d="M731.1 430.8 732.2 440 734.2 444.1 742.4 445.2 744.5 451.3"/>
<path d="M722.9 445.2 726 453.4 731.1 457.5 734.2 463.7"/>
<path d="M734.2 444.1 737.3 453.4 742.4 455.4 740.4 463.7 745.5 471.9"/>
<path d="M734.2 463.7 739.4 469.8 744.5 474 748.6 484.2"/>
<path d="M744.5 451.3 747.6 455.4 757.9 453.4 759.9 447.2 764 442.1 768.1 436.9 780.5 426.7"/>
<path d="M757.9 453.4 767.1 458.5 769.2 453.4 780.5 451.3 784.6 449.3 792.8 445.2 795.9 448.3"/>
<path d="M767.1 458.5 769.2 471.9 767.1 482.2"/>
<path d="M780.5 451.3 781.5 461.6 783.6 477"/>
<path d="M784.6 449.3 785.6 463.7 787.7 475"/>
<path d="M792.8 445.2 791.8 461.6 791.8 475"/>
<path d="M759.9 447.2 768.1 451.3"/>
<path d="M912.1 345.4 915.2 350.6 922.4 349.5 920.3 356.7 914.2 359.8"/>
<path d="M922.4 349.5 932.7 342.3 943 344.4 961.5 356.7"/>
<path d="M920.3 356.7 943 362.9 955.3 360.8 961.5 356.7"/>
<path d="M961.5 356.7 977.9 378.3 986.1 385.5 998.5 387.6"/>
<path d="M955.3 418.4 969.7 420.5 986.1 412.3 994.4 421.5"/>
<path d="M998.5 387.6 1000.5 399.9 998.5 406.1 986.1 412.3"/>
<path d="M955.3 418.4 953.2 432.8 956.3 442.1"/>
<path d="M832.1 537.8 848.7 537.8 851.5 544.2 858.8 548.8 861.6 543.3 869 545.2 869.9 557.1 871.8 563.6 879.1 564.5 878.2 572.8 869.9 574.7 869 583.9 873.6 595.9 865.3 599.5 846.9 595.9 828.4 595.5"/>
<path d="M879.1 564.5 891.1 565.4 896.6 571 901.2 570 900.3 562.7 896.6 555.3 900.3 549.8 909.5 552.5 916.9 559 914.1 566.4 918.8 573.7 913.2 579.3 902.2 583.9 896.6 589.4 889.3 595.9 881.9 598.6 873.6 595.9"/>
<path d="M904 512.9 920.6 512.9 931.7 522.1 941.8 530.4"/>
<path d="M918.8 573.7 920.6 581.1 924.3 588.5"/>
<path d="M916.9 559 920.6 564.5 925.2 581.1 924.3 588.5 920.6 592.2 917.8 586.6"/>
<path d="M922.4 566.4 935.3 565.4 945.5 561.8"/>
<path d="M881.9 598.6 887.4 608.8 892 618 904 620.7 910.5 610.6 912.3 597.7 902.2 583.9"/>
<path d="M865.3 599.5 863.5 618 858.8 619.8 858.8 634.6 859.8 642.9 869 636.4 878.2 637.3 885.6 628.1 892 622.6 892 618"/>
<path d="M858.8 634.6 856.1 651.2 848.7 653 844.1 649.3"/>
<path d="M904 620.7 904.9 629 904 637.3 905.9 645.6"/>
<path d="M900.3 638.2 904 637.3 904.9 642.9 901.2 644.7 900.3 638.2"/>
<path d="M883.7 654.8 888.3 652.1 892 655.8 889.3 660.4 884.7 660.4 883.7 654.8"/>
<path d="M901.2 513.8 902.2 524 897.6 527.6"/>
<path d="M819.2 502.8 826.6 501.8 827.5 518.4 832.1 524 838.6 518.4 839.5 503.7 837.6 500"/>
<path d="M830.3 533.2 839.5 530.4 846.9 518.4 854.2 507.4 856.1 500"/>
<path d="M1236 497.7 1241.8 502.7 1250.2 501.9 1255.2 496.9 1257.7 486.8 1267.7 485.2"/>
<path d="M806.8 233.5 810.1 226.8 811.8 218.4 811 210.1 815.1 201.7 820.1 195.1 826.8 188.4 831 185"/>
<path d="M836 201.4 835.2 193.4 831 185"/>
<path d="M856.9 218.1 855.2 210.1 851 201.7 846.8 193.4 841.8 186.7 843.5 185"/>
<path d="M831 185 836.8 186.7 841.8 186.7"/>
<path d="M856.9 218.1 856.9 226.8 855.2 231.8 844.3 236"/>
<path d="M855.2 231.8 860.2 238.5 856.9 243.5 841 238.5"/>
<path d="M856.9 243.5 861.9 243.5 870.2 246.8 877.7 251 875.2 256 855.2 256.8 853.5 250.2 851 246.8 838.5 243.5"/>
<path d="M877.7 251 885.2 256 893.6 260.2 905.3 266.8 908.6 273.5 905.3 276.9"/>
<path d="M855.2 256.8 855.2 263.5 850.2 268.5 846.8 266.8 836 268.5 833.5 263.5 826.8 261 823.5 256 824.3 248.5 823.5 246.8"/>
<path d="M850.2 268.5 853.5 273.5 866.9 271.9 873.6 276.9 878.6 280.2"/>
<path d="M846.8 266.8 843.5 271.9 835.2 275.2 826.8 273.5 821.8 268.5 819.3 263.5 826.8 261"/>
<path d="M795.1 256.8 798.4 260.2 796.8 266.8 800.1 273.5 806.8 276.9 813.5 275.2 821.8 268.5"/>
<path d="M800.1 273.5 803.4 280.2 800.9 286.9 803.4 292.7"/>
<path d="M806.8 276.9 811.8 280.2 820.1 279.4 826.8 283.5 822.6 284.4"/>
<path d="M826.8 273.5 832.7 276.9 831 280.2 826.8 283.5"/>
<path d="M835.2 275.2 840.2 278.5 848.5 276.9 853.5 273.5"/>
<path d="M832.7 276.9 840.2 278.5"/>
<path d="M831 280.2 838.5 283.5 846.8 285.2 850.2 280.2 848.5 276.9"/>
<path d="M838.5 283.5 840.2 288.5 846.8 293.6 850.2 290.2 846.8 285.2"/>
<path d="M850.2 290.2 856.9 293.6 863.5 291.9 866.9 286.9 873.6 286.9 876.9 293.6"/>
<path d="M850.2 280.2 856.9 281.9 866.9 278.5 873.6 276.9"/>
<path d="M846.8 293.6 850.2 298.6 856.9 301.9 860.2 306.9"/>
<path d="M856.9 293.6 856.9 301.9"/>
<path d="M863.5 291.9 865.2 298.6 871.9 301.9 873.6 303.6"/>
<path d="M865.2 298.6 860.2 306.9"/>
<path d="M749.2 303.6 755 301.9 756.7 308.6 755 315.3 755.9 323.6 750 324.4"/>
<path d="M774.2 291.9 783.4 295.2 791.8 295.2"/>
<path d="M910.3 276.9 917 293.6 925.3 298.6 932 305.2 940.3 306.9 945.3 311.9"/>
<path d="M924.5 301.9 930.3 305.2 932 310.3 940.3 313.6 945.3 311.9"/>
<path d="M932 310.3 928.6 316.9 933.7 323.6 940.3 325.3"/>
<path d="M912 332.8 920.3 326.9 928.6 326.9 933.7 323.6"/>
<path d="M940.3 313.6 943.7 320.3 940.3 325.3 945.3 332.8"/>
<path d="M1086 356.8 1093.5 355.9 1106.8 361.8 1116.9 366.8 1122.7 368.4 1120.2 371.8 1110.2 368.4 1098.5 365.9 1086.8 362.6 1086 356.8"/>
<path d="M1123.5 366.8 1131.9 365.9 1135.2 370.1 1128.5 371.8 1124.4 370.1 1123.5 366.8"/>
<path d="M1122.7 375.1 1128.5 373.5 1131.9 378.5 1138.6 381.8 1141.9 386.8 1143.6 393.5"/>
<path d="M1122.7 375.1 1125.2 381.8 1126.9 390.2 1131.9 396.8"/>
<path d="M1138.6 381.8 1141.9 375.1 1146.9 366.8 1145.2 360.9 1150.3 363.4 1155.3 366.8 1160.3 371.8 1162.8 380.1 1165.3 386.8 1172 391 1177 396.8 1181.1 400.2 1175.3 406.8 1172 413.5 1175.3 420.2 1180.3 430.2 1183.6 438.6 1185.3 446.9"/>
<path d="M1181.1 400.2 1183.6 393.5 1193.7 389.3 1202 396 1207.8 398.5"/>
<path d="M1183.6 393.5 1187 403.5 1185.3 410.2 1192 415.2 1197 413.5 1203.7 420.2 1208.7 428.5 1211.2 435.2"/>
<path d="M1197 433.6 1202.8 430.2 1211.2 435.2 1215.4 441.9 1217 450.3 1208.7 451.9"/>
<path d="M1192 438.6 1197 433.6"/>
<path d="M1048.4 386.8 1055.1 381.8 1050.1 375.1 1048.4 368.4 1056.8 363.4 1060.9 350.1 1057.6 340.9 1051.8 335.1 1063.4 330.9"/>
</g>
<g fill="none" stroke="#000" stroke-width="2.4" stroke-linejoin="round" stroke-linecap="round">
<path d="M466.3 460 470.1 453.8 478.8 449.5 486.3 445 488.1 448 484.6 452.5 483.8 458.8 487.6 459.5 487.1 453.8 488.8 448 493.8 447 495.1 451.3 502.6 453.8 512.6 454.5 520.1 453 526.4 452.5 525.1 456.3 528.9 460 530.1 463.8 535.1 467.5 540.2 473.8 550.2 476.3 560.2 478.8 566.4 483.8 570.2 492.6 573.2 500.1 570.2 507.6 567.7 510.6 575.2 508.8 582.7 510.1 590.2 513.9 595.2 517.6 602.7 521.4 612.7 522.6 622.8 526.4 630.3 531.4 635.3 537.6 636.5 547.6 631.5 560.2 626.5 568.9 622.3 573.9 621.5 585.2 622.8 595.2 621.5 605.2 619 615.2 615.2 622.7 606.5 625.2 599 629 592.7 634 590.2 637.8 592.7 645.3 591.5 652.8 587.2 659 584.7 666.5 582.7 674.1 580.2 680.3 572.7 682.3 566.4 680.3 562.7 674.1 561.4 666.5"/>
<path d="M460.1 473.8 457.5 482.6 455 492.6 452.5 500.1 446.3 505.1 443.8 515.1 445 522.6 447 528.9 443.8 530.1 445 537.6 450 542.6 455 550.2 461.3 560.2 467.6 571.4 470.1 578.9 477.6 585.2 487.6 591.5 495.1 597.7 500.1 605.2 502.6 617.7 505.1 630.3 507.6 642.8 510.1 655.3 512.6 667.8 516.4 689.1"/>
<path d="M505.1 508.8 513.9 510.1 520.1 513.9 525.1 518.9 530.1 523.9 537.6 524.6 547.7 521.4 555.2 518.9 563.9 516.4 570.2 512.6"/>
<path d="M477.6 524.6 485.1 525.1 490.1 528.1 495.1 526.4 502.6 522.6 510.1 525.1 516.4 528.9 525.1 523.9"/>
<path d="M550.2 518.9 551.4 525.6"/>
<path d="M566.4 515.1 567.7 520.6"/>
<path d="M575.7 513.9 573.9 526.4"/>
<path d="M553.9 645.8 552.7 655.3 555.2 665.3 553.9 670.3 556.4 674.1"/>
<path d="M584 659 587.7 661.5 584 667.8"/>
<path d="M709.1 428.7 710.4 437.5 714.1 445 719.1 452.5 724.1 462.5 729.1 470.1 736.6 476.3 745.4 482.6 750.4 485.1 762.9 482.6 775.4 478.8 788 476.3 798 473.8 805.5 476.3 810.5 483.8"/>
<path d="M816.3 483.8 820 488.8 821.3 497.6 818.8 505.1 820 510.1 823.8 517.6 827.5 526.4 830 532.6 832.5 542.6 835 552.7 836.3 562.7 835 572.7 830 580.2 827.5 590.2 828.8 600.2 832.5 610.2 836.3 620.2 837.5 630.3 841.3 642.8 845 655.3 848.8 666.5 847.5 676.6 853.8 680.8 862.6 679.1 872.6 676.6 882.6 670.3 892.6 661.5 898.9 654 903.9 645.3 906.4 639 912.6 634 918.9 627.7 920.1 620.2 917.6 612.7 920.1 605.2 927.6 600.2 935.2 595.2 941.4 591.5 946.4 585.2 947.7 575.2 946.4 565.2 943.9 557.7 941.4 550.2 940.2 540.1 942.7 530.1 948.9 517.6 955.2 510.1 962.7 500.1 970.2 492.6 977.7 482.6 984 470.1 989 457.5 990.7 451.3 989 447 982.7 448.8 972.7 451.3 965.2 452.5 957.7 447.5 955.2 442.5 950.2 437.5 942.7 431.3 940.2 428.7"/>
<path d="M912.6 507.6 916.4 505.1 922.6 506.3 923.9 510.1 920.1 513.9 921.4 518.9 916.4 521.4 912.1 517.6Z"/>
<path d="M899.6 524.6 901.6 532.6 904.1 541.4 907.6 550.7"/>
<path d="M901.1 524.6 903.1 532.6 905.6 541.4 908.6 549.6"/>
<path d="M919.4 556.4 920.1 565.2 921.4 573.9 923.1 580.2"/>
<path d="M921.1 556.4 921.9 565.2 923.1 573.9 924.6 579.7"/>
<path d="M918.1 592.7 921.4 596.5 923.1 599.7"/>
<path d="M981.5 568.9 983.2 575.2 984 585.2 981.5 595.2 977.7 605.2 972.7 615.2 967.7 625.2 962.7 634 955.2 635.8 952.2 630.3 951.4 620.2 953.9 610.2 957.7 600.2 960.2 591.5 966.4 587.7 972.7 582.7 977.7 576.4Z"/>
<path d="M956.4 443.8 970.2 437.5 985.2 431.3 990.2 428.7"/>
<path d="M1079.1 428.7 1085.3 437.5 1090.4 447.5 1096.6 458.8 1100.4 465 1106.6 457.5 1108.4 447.5 1106.6 437.5 1105.4 428.7"/>
<path d="M1109.1 457.5 1113.4 462.5 1116.6 470.1 1114.9 476.3 1110.4 475.1 1108.4 467.5Z"/>
<path d="M1216.3 538.9 1227.6 540.1 1242.6 545.1 1252.6 547.6 1251.4 552.7 1237.6 550.2 1223.8 546.4 1216.3 542.6Z"/>
<path d="M1260.6 551.4 1267.6 548.9 1270.1 552.7 1262.6 553.9Z"/>
<path d="M1270.1 553.9 1276.4 555.2 1275.1 558.9 1270.1 557.2Z"/>
<path d="M1275.1 550.2 1285.1 548.9 1286.4 551.4 1277.6 553.2Z"/>
<path d="M1287.1 558.9 1295.2 552.7 1304.7 550.2 1300.2 555.2 1290.2 560.2Z"/>
<path d="M1322.7 511.4 1330.2 509.6 1336.5 513.9 1335.2 518.9 1342.7 520.1 1350.2 516.4 1360.2 517.6 1370.3 522.6 1380.3 527.6 1386.5 533.9 1390.3 540.1 1387.8 543.9 1391.5 550.2 1396.5 556.4 1399 561.4 1392.8 558.9 1385.3 555.2 1379 547.6 1370.3 548.9 1365.2 553.9 1360.2 552.7 1355.2 547.6 1349 550.2 1352.7 543.9 1349 536.4 1342.7 531.4 1336.5 528.9 1332.7 525.1 1328.9 526.4 1327.7 520.1 1323.9 516.4Z"/>
<path d="M1392.8 536.4 1400.3 535.1 1406.5 530.1 1410.3 529.6 1409 533.9 1402.8 538.9 1396.5 540.1Z"/>
<path d="M1309.7 524.6 1315.2 522.6 1321.4 524.6 1320.2 527.6 1313.9 526.4Z"/>
<path d="M1203.8 680.3 1206.3 674.1 1212.6 667.8 1216.3 655.3 1218.8 642.8 1220.1 635.3 1223.8 630.3 1228.8 622.7 1233.8 617.7 1245.1 612.7 1255.1 609 1265.1 602.7 1272.6 597.7 1276.4 594 1281.4 592.7 1286.4 586.4 1292.7 581.4 1297.7 583.9 1301.4 581.4 1306.4 577.7 1310.2 572.7 1316.4 568.9 1320.2 565.2 1325.2 567.7 1332.7 568.9 1337.7 570.2 1339 576.4 1334 577.7 1330.2 580.2 1331.5 586.4 1337.7 591.5 1345.2 596.5 1350.2 590.2 1355.2 580.2 1360.2 570.2 1364 562.7 1365.2 572.7 1367.7 582.7 1369 592.7 1370.3 605.2 1372.8 620.2 1375.8 630.3 1374 642.8 1367.7 655.3 1355.2 667.8 1342.7 677.8 1325.2 689.1"/>
<path d="M1433.3 609.7 1435.8 614 1439.1 620.7 1437.3 621.5 1434.1 616.5Z"/>
<path d="M1492.9 597.2 1497.9 595.2 1498.4 599 1494.2 600.7Z"/>
<path d="M1416.6 679.1 1412.8 689.1"/>
<path d="M155.2 409.8 158.9 404.8 161.4 409.8Z"/>
<path d="M299.8 243.8 312.9 240.8 327.9 235.8 340.4 230.8 352.9 227.1 365.4 224.6 380.4 222.1 390.5 219.6 396.7 218.3"/>
<path d="M355.4 205.8 360.4 200.8 375.4 197 385.4 195.8 380.4 199.5 390.5 202 382.9 205.8 370.4 207 360.4 209.5 372.9 212.1 390.5 209.5 400.5 202 410.5 197 421.7 194.5" stroke-width="3.0"/>
<path d="M337.9 225.8 342.9 220.8 352.9 217.1 365.4 214.6 360.4 219.6 350.4 222.1 342.9 228.3" stroke-width="3.0"/>
<path d="M396.7 218.3 400.5 223.3 405.5 225.8 410.5 229.6 405.5 237.1 400.5 242.1 393 249.6 387.9 257.1 382.9 263.4 379.2 265.9 382.9 269.6 390.5 264.6 387.9 268.4 380.4 274.6" stroke-width="3.6"/>
<path d="M380.4 274.6 372.9 280.9 362.9 290.9 355.4 299.7 347.9 309.7 341.6 319.7 339.1 327.2 337.9 336 341.6 344.7"/>
<path d="M580.2 214.6 570.2 219.6 560.2 223.3 550.2 222.1 537.6 224.6 525.1 225.8 518.9 233.3 525.1 237.1 531.4 244.6 533.9 252.1 531.4 259.6 537.6 257.1 542.7 249.6 547.7 244.6 557.7 239.6 565.2 232.1 572.7 225.8 582.7 222.1 590.2 214.6 592.7 219.6 590.2 229.6 596.5 229.6 605.2 222.1 606.5 232.1 604 240.8 609 247.1 612.2 252.1 607.7 258.4 600.2 260.1 592.7 262.6 585.2 264.1 575.2 265.1 567.7 268.4 560.2 270.9 552.7 274.6 545.2 278.4 537.6 282.1 530.1 284.1 523.9 282.1"/>
<path d="M590.2 270.9 595.2 265.9 602.7 260.9 609 263.4 611.5 270.9 606.5 279.6 600.2 277.1 595.2 274.6 591.5 275.1Z"/>
<path d="M523.9 282.1 532.6 285.9 542.7 284.6 552.7 282.1 560.2 279.6 566.4 273.4 570.2 274.6 567.7 282.1 575.2 280.9 582.7 278.4 580.2 283.4 570.2 288.4 560.2 290.9 556.4 293.4 550.2 294.7 542.7 299.7 535.1 302.2 527.6 307.2 522.6 312.2 516.4 317.2 511.4 322.2 506.4 327.2 501.4 332.2 495.1 337.2 485.1 342.2 477.6 347.2"/>
<path d="M477.6 277.1 487.6 272.1 497.6 270.9 502.6 268.4 506.4 274.6 500.1 279.6 492.6 282.1 486.3 289.6 481.3 297.2 478.1 302.2 482.6 299.7 488.8 292.2 495.1 287.1 502.6 284.6 507.6 282.1 512.6 285.9 508.9 292.2 502.6 295.9 495.1 297.2 492.6 300.9 500.1 300.9 510.1 295.9 520.1 290.9 527.6 288.4"/>
<path d="M478.8 260.9 483.8 252.1 490.1 245.8 487.6 252.1 482.6 259.6Z"/>
<path d="M482.6 199.5 492.6 197 505.1 196.5 507.6 199.5 495.1 202 485.1 203.3Z"/>
<path d="M472.6 218.3 482.6 215.8 495.1 213.3 502.6 212.1 495.1 215.8 482.6 219.1Z"/>
<path d="M463.8 213.3 467.6 212.1 466.3 215.8Z"/>
<path d="M418.7 189 435 185.8 452.5 183 465.1 182 470.1 186.5 480.1 187.5 482.6 194.5 477.6 197 476.3 203.3 481.3 204.5 487.6 194.5 500.1 189.5 515.1 187.5 527.6 187 532.6 182 545.2 179.5 555.2 178.3 550.2 183.3 540.2 185.8 532.6 189.5 530.1 194.5 542.7 193.3 555.2 192 565.2 194.5 575.2 197 580.2 203.3 570.2 205.8 580.2 209.5 592.7 207 605.2 204.5 615.2 200.8 622.8 197 632.8 194.5 637.8 197 632.8 202 620.3 207 617.7 213.3 610.2 209.5 606.5 214.6 600.2 212.1 595.2 209.5 587.7 212.1 580.2 214.6"/>
<path d="M530.1 179.5 540.2 174.5 555.2 172 570.2 173.3 585.2 172 580.2 177 565.2 179.5 550.2 182 537.6 183.3Z"/>
<path d="M560.2 184.5 575.2 182 590.2 179.5 605.2 177 620.3 174.5 632.8 175.8 637.8 182 635.3 189.5 627.8 187 617.7 184.5 605.2 187 592.7 189.5 580.2 190.8 570.2 189.5Z"/>
<path d="M585.2 194.5 595.2 192 605.2 193.3 615.2 189.5 610.2 195.8 600.2 198.3 590.2 197Z"/>
<path d="M595.2 182 600.2 187 595.2 190.8"/>
<path d="M610.2 179.5 615.2 185.8 612.7 192"/>
<path d="M625.3 178.3 631.5 184.5 632.8 192"/>
<path d="M759.2 328.4 765.4 332.2 775.4 329.7 785.5 325.9 795.5 323.4 805.5 320.9 811.7 319.7"/>
<path d="M759.2 328.4 755.4 334.7 747.9 342.2 742.9 352.2 736.6 362.2 730.4 369.7 724.1 379.8 719.1 389.8 714.1 399.8 712.4 409.8 714.1 419.8 711.6 431.1"/>
<path d="M1096.6 240.1 1101.6 244.6 1106.6 250.8 1105.4 257.1 1100.4 258.4 1102.9 252.1 1100.4 245.8Z"/>
<path d="M1022.8 280.9 1027.8 279.1 1039 279.6 1035.3 282.1 1027.8 282.1 1024.8 285.9Z"/>
<path d="M974 282.1 978.2 278.4 982.7 279.6 982.2 284.6 986.5 287.1 985.2 292.2 980.2 290.9 976.5 289.6Z"/>
<path d="M935.2 278.4 940.2 280.9 946.4 277.1 952.7 278.4 955.2 283.4 950.2 287.1 952.7 294.7 957.7 299.7 965.2 302.2 970.2 308.4 974 317.2 975.2 323.4 967.7 325.2 960.2 322.2 956.4 314.7 952.7 307.2 947.7 299.7 942.7 292.2 937.7 285.9Z"/>
<path d="M877.6 282.1 882.6 278.4 890.1 282.1 895.1 279.6 902.6 278.4 910.1 277.1 906.4 282.1 900.1 285.9 908.9 288.4 917.6 292.2 923.9 297.2 922.6 302.2 915.1 304.2 905.1 302.2 895.1 300.9 885.1 303.4 877.6 302.2 875.6 294.7Z"/>
<path d="M885.1 324.7 892.6 323.4 900.1 325.9 910.1 323.4 912.1 328.4 911.4 337.2 910.1 347.2 906.4 351"/>
<path d="M808.7 319.7 815 322.2 820 330.9 821.3 338.5 832.5 343.5 842.5 348.5 851.3 352.2 856.3 344.7 863.8 343.5 872.6 347.2 882.6 348.5 892.6 351 901.4 348.5 906.4 351"/>
<path d="M902.6 352.2 906.4 359.7 910.1 367.2 915.1 377.3 921.4 389.8 927.6 402.3 933.9 414.8 938.9 424.8 941.4 431.1"/>
<path d="M911.4 347.2 912.6 357.2 911.4 366 913.9 362.2 915.1 369.7 920.1 379.8 927.6 392.3 935.2 404.8 942.7 416.1 948.9 424.8 952.7 431.1"/>
<path d="M942.7 337.2 946.4 342.2 951.4 345.2 955.2 347.2"/>
<path d="M961.4 356 965.2 362.2 971.5 369.7 976.5 376 980.2 381 985.2 386 992.7 384.8 996.5 378.5 1000.2 381 1007.7 389.8 1014 394.8 1016.5 398.5 1012.8 403.5 1010.3 409.8 1005.2 413.6 1002.7 419.8 997.7 422.3 994 424.8 987.7 431.1"/>
<path d="M961.4 356 967.7 356.7 972.7 363.5 980.2 369.7 990.2 372.3 997.7 371 1000.2 376 1007.7 377.3 1017.8 379.8 1027.8 379.3 1039 377.8 1044 384.8 1047.8 387.3 1052.8 391.8 1057.8 394.8 1061.6 399.8 1065.3 397.3 1069.1 396 1070.3 404.8 1074.1 417.3 1079.1 431.1"/>
<path d="M1042.8 369.7 1045.3 366 1046.5 369.7 1042.8 372.3 1044 379.8"/>
<path d="M1105.6 429.1 1107.9 425.3 1114.1 422.3 1119.1 412.3 1124.1 402.3 1129.1 397.3 1135.4 394.8 1140.4 393.5 1142.9 397.3 1147.9 404.8"/>
<path d="M1124.1 379.8 1127.9 383.5 1130.4 387.3"/>
<path d="M517 688.5 518.8 700.5 525 708 530 715.5 533.8 725.5 532.5 733 537.5 738 542.5 745.5 550 753 557.5 760.5 566.2 765.5 570 770.5 580 771.8 588 770" stroke-width="3.2"/>
<path d="M588 770 581.2 768 573.8 763 568.8 759.2 565 754.2 563.8 748 567 741.8 565 735.5 557.5 733 560 726.8 557.5 720.5 560 714.2 553.8 710.5 558.8 705.5 561.2 700.5 570 699.2 575 694.2 573.8 686.8"/>
<path d="M527.5 848 535 844.2 542.5 840 552.5 841.8 570 842.5 582.5 841.8 578.8 836.8 585 835 595 836 605 838 616.2 840 627.5 841.8 620 835.5 625 830.5 630 826.8 626.2 819.2 627.5 811.8 632.5 805.5 637.5 804.2 638.8 808 635 813 642.5 820.5 650 829.2 665 838 671.2 845.5 685 849.2 700 852.5 705 854.2 726.2 856 727.5 851.8 733.8 849.2 735 843 741.2 841.8 742.5 838 755 835.5 761.2 831.8 770 830.5 780 828 780 881.8"/>
<path d="M527.5 848 540 850.5 530 853 541.2 855.5 532.5 858"/>
<path d="M582.5 841.8 592.5 846.8 602.5 845"/>
<path d="M630 838 643.8 839.2 635 835.5"/>
<path d="M1203.8 678.8 1207.5 683 1220 678.8 1236.2 677.5 1245 671.2 1257.5 667.5 1272.5 665 1280 670 1277.5 680 1286.2 676.2 1294.5 670 1288.8 681.2 1285 687.5 1282.5 695 1290 700 1297.5 701.2 1298.8 696.2 1301.2 700 1312.5 696.2 1320 693.8 1325 689.5"/>
<path d="M1277 718.8 1281.2 712.5 1287.5 708.8 1297 708.8 1292.5 713.8 1285.5 720 1280 722.5Z"/>
<path d="M1328.8 733.2 1335 730 1345 726.2 1355 722 1362.5 718.8 1372.5 713.8 1382.5 708.8 1390 706.2 1395 702.5 1402.5 697.5 1410 690 1413.8 683.8 1417.5 678.8 1416.2 686.2 1413.8 691.2 1420 695 1416.2 697.5 1407.5 700 1400 705 1392.5 711.2 1385 713 1377.5 716.2 1367.5 721.2 1357.5 726.2 1347.5 731.2 1337.5 735 1331.2 735Z"/>
<path d="M355 203.8 370 200 380 196.2 390 197.5 402.5 198.8 410 192.5 430 188 447.5 183.8 465 181.2 470 183.8 480 186.2"/>
<path d="M355 203.8 362.5 205 375 203.8 387.5 202.5 397.5 203.8 390 206.2 380 207.5 367.5 209.5 360 208.8"/>
<path d="M360 211.2 375 210 390 208.8 380 212.5 367.5 213.8"/>
<path d="M530 178.8 542.5 175 555 172.5 565 171.2 563.8 176.2 570 177.5 565 180 555 181.2 542.5 182.5 532.5 182.5Z"/>
<path d="M525 192.5 535 188.8 547.5 187.5 560 188.8 570 190 562.5 193.8 550 192.5 540 193.8 530 195Z"/>
<path d="M570 201.2 580 202.5 580 207.5 573.8 210 567.5 208.8 570 205"/>
<path d="M573.8 167.5 580 165 592.5 162.5 600 163.8 592.5 166.2 602.5 167.5 590 170 577.5 170.5Z" stroke-width="3.2"/>
<path d="M607.5 167.5 620 165 632.5 160 633.8 157.5 627.5 158.8"/>
<path d="M617.5 170 630 167.5 642.5 163.8 640 167.5 627.5 171.2Z"/>
<path d="M642.5 156.2 655 152.5 670 150 685 148 700 147 710 147.5 705 150.5 692.5 151.2 680 153.8 690 155 675 157.5 660 158.8 647.5 160Z" stroke-width="3.2"/>
<path d="M645 161.2 660 160 672.5 158.8 665 162.5 652.5 163.8Z"/>
<path d="M582.5 177.5 595 175 607.5 172.5 620 172.5 630 175 635 180 638.8 187.5 640 196.2 636.2 200 632.5 195 627.5 197.5 622.5 205 617.5 202.5 615 207.5 610 215 605 210 600 205 592.5 203.8 600 200 610 197.5 605 192.5 595 193.8 585 192.5 580 187.5 590 185 602.5 183.8 612.5 182.5 605 180 592.5 181.2Z"/>
<path d="M580 180 590 177.5 600 178.8 610 176.2 620 178.8 627.5 182.5"/>
<path d="M585 188.8 595 190 605 188.8 615 191.2 622.5 190"/>
<path d="M612.5 186.2 617.5 191.2 615 197.5"/>
<path d="M343.6 339.4 343.2 343.8 341.3 352.8 339.6 361.8 340.4 370.1 341.5 375.9 343.2 382.3 345.8 389.4 347.4 392.2 349.2 391 349.2 386.8 347.7 382.3 346.7 377.2 347.9 372.1 347.1 366.9 345.8 361.8 345.4 356.7 346.4 352.2 349.6 347.7 353.5 351.5 352.8 359.2 354.1 366.9 356.7 373.3 359.2 381 362.4 388.7 363.1 396.4 361.2 401.5 359.2 404.1 360.5 407.9 364.4 413.1 369.5 415.6 372.7 419.5 378.5 422.7 383.6 425.3 388.7 427.8 393.8 426.5 398.3 425.6 402.2 429.7 405.4 432.9 409.2 436.2 414.4 438.1 418.8 440 422.1 441.3 423.3 443.8 425.9 447.7 428.5 451.5 429.1 455.4 431 457.9 433.6 459.9 435.5 463.1 438.1 466.9 442.6 468.2 446.4 466.9 449 470.1 451.5 466.3 454.7 463.7 457.9 465 460.5 468.2 460 473.7"/>
<path d="M477.6 347.2 473.3 349.6 471.4 356.7 470.8 365.6 468.2 374.6 466.3 381 463.7 381 462.4 374.6 461.2 367.6 463.7 361.8 462.4 357.3 456.7 356 450.3 353.5 446.4 354.1 440 356 438.7 360.5 434.9 359.2 429.7 357.9 423.3 357.3 418.2 359.2 411.8 363.1 406.7 365.6 402.8 370.8 400.3 378.5 396.4 383.6 393.8 391.3 393.2 397.7 394.5 406.7 395.8 413.1 400.3 415.6 405.4 413.7 410.5 413.1 414.4 410.5 418.2 406.7 420.8 401.5 427.2 399 432.3 397.7 435.5 399 433.6 402.8 430.4 407.9 428.5 413.1 426.5 416.9 423.3 422.1 420.8 427.2 425.9 427.8 432.3 426.5 437.4 425.9 441.9 428.5 441.3 434.9 439.4 441.3 437.4 446.4 436.2 451.5 438.7 455.4 440.6 459.9 443.8 460.5 447.7 461.8 450.3 459 454.1 457.9 458.6 460.3 461.8 463.7 466.3 460.3"/>
<path d="M443.2 397.1 447.7 392.6 452.8 390.6 460.5 390 465.6 391.9 469.5 395.1 473.3 398.3 478.5 400.3 484.2 404.7 478.5 406.7 469.5 407.3 473.3 404.1 469.5 400.3 464.4 396.4 459.2 393.8 454.1 392.6 449 395.1 446.4 397.1Z"/>
<path d="M487.4 407.9 491.3 406.7 497.7 407.3 502.8 409.9 506.7 413.1 502.8 415 497.7 414.4 492.6 418.2 490 415.6 487.4 414.4 481 415 481 413.1 487.4 412.4Z"/>
<path d="M465 414.4 469.5 413.7 474 415.6 470.8 417.6 466.3 416.9Z"/>
<path d="M484.9 452.8 486.8 451.5 488.1 455.4 487.4 460.5 484.9 461.2 483.6 457.3Z"/>
<path d="M1167.5 226 1177.6 225.2 1188.4 223.5 1195.1 226.8 1202.6 226 1197.6 222.7 1191.8 218.5 1187.6 216.8 1195.9 215.1 1197.6 212.6 1202.6 213.5 1205.1 216.8 1211.8 219.3 1213.5 223.5 1217.6 228.5 1219.3 232.7 1226.8 238.5 1235.2 243.5 1243.5 249.4 1253.5 255.2 1261.9 259.4 1267.7 261.6 1264.4 256.9 1262.7 251.9 1259.4 252.7 1256.9 246.9 1255.2 244.4 1248.5 239.3 1243.5 235.2 1235.2 231 1226.8 227.7 1221.8 225.2 1220.1 222.7 1226.8 221 1236.8 222.7 1233.5 219.3 1231 216 1231.5 213.5"/>
<path d="M1167.5 226 1171.7 233.5 1175.9 241 1176.7 245.2 1185.1 246.9 1190.1 249.4 1198.4 246.9 1201.8 246 1206.8 250.2 1210.1 255.2 1207.6 259.4 1209.3 263.6 1213.5 268.6 1211 273.6 1206.8 278.6"/>
<path d="M1201.8 246 1215.1 254.4 1228.5 263.6 1243.5 270.2 1240.2 271.6 1226.8 266.1 1215.1 258.5 1205.1 251Z"/>
<path d="M1213.5 258.5 1223.5 266.9 1230.2 275.2 1235.2 283.6 1239.3 292.8 1236.8 296.9 1231 295.3 1229 296.9"/>
<path d="M1218.5 261.9 1233.5 270.2 1246.8 278.6 1254.4 281.9 1248.5 281.1 1233.5 272.7 1221.8 265.2Z"/>
<path d="M1205.1 204.3 1210.1 206"/>
<path d="M1140 185.9 1146.7 187.6 1151.7 190.1"/>
<path d="M877.4 167.9 884.6 164.9 892.8 163.8 890.8 166.9 885.6 170 883.6 175.1 890.8 180.3 897.9 183.3 890.8 182.3 882.6 179.2 879.5 174.1Z"/>
<path d="M909.2 154.6 921.5 156.3 934.9 158.3 933.8 160.4 921.5 158.3 910.3 156.7Z"/>
<path d="M1010.8 165.9 1022.1 166.5 1033.3 167.9 1032.3 170 1022.1 169 1011.8 167.9Z"/>
<path d="M941 161.8 948.2 163.8 958.5 164.9 970.8 166.9 977.9 170 980 175.1 981 180.3 985.1 179.2 983.1 174.1 993.3 173.1 1003.6 174.1 1011.8 175.1 1020 178.2 1028.2 182.3"/>
<path d="M1009.7 173.1 1022.1 174.1 1034.4 178.2 1042.6 182.3 1052.8 179.2 1061 178.2 1071.3 179.2 1081.5 182.3 1091.8 185.4 1099 189.5"/>
<path d="M1048.7 176.2 1056.9 176.2 1069.2 178.2 1085.6 181.3 1102.1 183.3 1116.4 185.4 1126.7 188.5 1128.7 193.6 1131.8 194.6 1130.8 189.5 1136.9 187.4 1147.2 187.4 1152.3 189.9 1143.1 185.4 1132.8 186.4"/>
<path d="M941 161.8 935.9 166.9 931.8 171 936.9 174.1 930.8 176.2 937.9 179.2 946.2 182.3 954.4 185.4 962.6 188.5 970.8 193.6 979 197.7 987.2 200.8 995.4 203.8 1005.6 206.9"/>
<path d="M989.2 200.8 995.4 206.9 1001.5 211 1007.7 214.1"/>
<path d="M923.6 177.2 931.8 182.3 940 188.5 948.2 191.5 958.5 195.2"/>
<path d="M912.3 176.2 919.5 182.3 925.6 188.5 931.8 191.5 929.7 187.4 921.5 181.3 914.4 177.6Z"/>
<path d="M933.8 198.7 937.9 204.9 944.1 211 952.3 214.1 962.6 217.8 974.9 218.2 987.2 221.3 999.5 226.4 1011.8 231.5 1021 237.7"/>
<path d="M962.6 217.8 966.7 223.3 968.7 230.5"/>
<path d="M933.8 198.7 942.1 196.7 948.2 198.7 946.2 193.6 940 190.5"/>
<path d="M886.7 195.6 894.9 191.5 903.1 190.5 909.2 187.4 913.3 190.5 907.2 191.5 901 193.6 899 196.7 904.1 201.8 910.3 199.7 915.4 202.8"/>
<path d="M880.5 206.9 888.7 212.1 895.9 215.1"/>
<path d="M868.2 212.1 874.4 216.2 872.3 220.3 867.2 217.2Z"/>
<path d="M896.9 232.6 902.1 233.6 904.1 237.1 911.3 237.1 917.4 239.1 922.6 241.8"/>
<path d="M1036.4 180.3 1042.6 185.4 1050.8 191.5 1061 197.7 1071.3 202.8 1081.5 205.9 1091.8 207.9 1102.1 209 1112.3 211 1120.5 213.1 1130.8 218.2 1140 221.9"/>
<path d="M1077.4 210 1085.6 206.9 1091.8 207.9"/>
<path d="M1102.1 209 1110.3 212.1 1116.4 217.2 1111.3 220.3 1104.1 221.3 1097.9 223.3 1091.8 221.3 1084.6 220.3 1085.6 226.4"/>
<path d="M1251.5 284.1 1257.9 289.2 1264.4 291.2 1269.5 289.2 1272.1 293.1 1275.9 294.4 1274 299.5 1266.9 300.8 1263.1 300.1 1259.9 296.9 1256.7 293.1Z"/>
<path d="M1268.2 302.7 1273.3 305.9 1278.5 311 1283.6 317.4 1287.4 323.8 1291.3 329 1293.2 331.5 1291.3 334.7 1287.4 333.5 1284.9 335.4 1281.7 337.3 1279.7 339.9 1277.2 337.9 1274.6 339.9 1273.3 344.4 1274 350.1 1271.4 351.4 1268.8 348.2 1266.9 344.4 1263.7 342.4 1260.5 340.5 1263.1 336.7 1265 332.8 1269.5 331.5 1273.3 329.6 1275.9 326.4 1273.3 322.6 1275.3 319.4 1274.6 314.9 1272.1 309.7 1268.8 305.9Z"/>
<path d="M1238.7 293.1 1234.9 296.9 1228.5 295.6 1231 302.1 1229.1 307.2 1231.7 312.3 1236.8 316.8 1242.6 321.3 1247.7 325.1 1252.2 330.3 1251.5 333.5 1247.1 336 1242.6 332.8 1240.6 327.7 1236.8 324.5 1233.6 320.6 1227.2 318.7 1222.7 312.3 1217.6 311 1213.1 312.3 1209.2 308.5 1204.7 304.6 1200.9 306.5 1202.2 311.7 1197.1 314.2 1200.9 316.2 1205.4 319.4 1209.2 322.6 1215.6 321.3 1221.4 322.8 1218.8 325.8 1216.7 330.3 1218.8 335.4 1223.3 339.9 1228.5 344.4 1233.6 346.9 1237.4 348.2 1235.5 353.3 1240.6 357.2 1244.5 361 1245.8 366.2 1243.8 371.3 1245.1 376.4 1245.8 380.3 1242.6 385.4 1239.4 390.5"/>
<path d="M1211.8 354 1219.5 358.5 1224.6 362.3"/>
<path d="M1225.9 344.4 1222.7 353.3 1220.1 358.5 1222.1 361.7"/>
<path d="M1251.3 389.9 1253.5 379.6 1256 381.5 1257.9 396.3 1254.7 394.4Z"/>
<path d="M742.4 450.3 746.6 445.2 751.7 440"/>
<path d="M753.8 438 761 434.9"/>
<path d="M765.1 425.6 769.2 422.5 775.3 420.9 778.4 422.1 780.5 426.7"/>
<path d="M783.2 432.4 784 433.9"/>
<path d="M799 460 805.2 462.6 808.3 466.8 807.6 474 807.2 481.2"/>
<path d="M808.3 467.4 817.5 467"/>
<path d="M834 436.9 837 442.1 841.2 442.1 838.1 438Z"/>
<path d="M856.6 500.7 862.8 497.6 871 497 877.1 499.7 882.3 504.4"/>
<path d="M857 501.9 863.2 498.8 870.8 498.2 876.5 500.7 881.5 505.2"/>
<path d="M1147.5 404.5 1150 405 1155.9 409.2 1158.4 415.9 1161.7 422.6 1163.4 426.7 1166.7 425.1 1170.1 419.2 1173.4 423.4 1175.9 428.4 1178.4 433.4 1181.7 440.1 1184.2 446.8 1185.9 453.5 1185.1 461.8 1186.7 466.8 1190.1 471 1193.4 476.8 1197.6 483.5 1201.8 488.5 1206.8 495.2 1211.8 500.5 1209.3 495.2 1206.8 488.5 1203.4 481.8 1199.3 476.8 1195.1 471.8 1191.8 465.1 1190.1 458.5 1189.2 451.8 1190.1 445.9 1188.4 439.3 1191.8 438.4 1193.4 442.6 1198.4 443.4 1203.4 446.8 1206.8 452.6 1210.1 455.1 1211.8 462.6 1216 460.1 1218.5 455.1 1223.5 451.8 1226.8 445.9 1226 438.4 1223.5 431.8 1220.1 425.9 1215.1 420.9 1210.1 416.7 1205.9 412.6 1203.4 406.7 1204.3 401.7 1200.1 400 1206.8 397.5 1211.8 394.2 1215.1 389.2 1221.8 390 1226.8 394.2 1231 392.5 1235.2 389.2 1240.2 386.7"/>
<path d="M1216 407.5 1219.3 405 1223.5 407.5 1223.1 412.6 1219.8 415.1 1216.5 412.6Z"/>
<path d="M1173.4 479.3 1179.2 480.2 1185.1 486 1190.9 493.5 1196.8 500.2 1202.6 506.9 1208.4 511.9 1213.5 516.9 1217.6 516.1 1221 518.6 1220.1 525.2 1218.5 531.9 1217.6 537.8 1213.5 536.1 1208.4 529.4 1202.6 521.9 1197.6 513.6 1190.9 504.4 1185.1 495.2 1179.2 487.7 1175.1 482.7Z"/>
<path d="M1261.9 471.8 1266.9 476 1271.9 480.2 1268.5 483.5 1266.9 488.5 1270.2 493.5 1271.9 500.2 1269.4 504.4 1266.9 510.2 1263.5 516.9 1259.4 523.6 1255.2 528.6 1251 525.2 1246.8 523.6 1241.8 521.9 1237.7 522.7 1236 516.9 1236.8 511.9 1234.3 506.9 1232.7 501 1235.2 497.7 1240.2 496.9 1242.7 493.5 1248.5 490.2 1253.5 486.8 1256.9 481.8 1259.4 476.8Z"/>
<path d="M1263.5 464.3 1266.9 456.8 1270.2 450.1"/>
<path d="M1264.2 464.6 1267.5 457.1 1270.9 450.5"/>
<path d="M1263.9 413.4 1271.1 414.2 1273.6 420.1 1271.9 426.7 1273.6 433.4 1278.6 435.9 1283.6 438.4 1288.6 442.6 1293.6 446.8 1295.3 451 1291.1 448.4 1286.9 445.1 1281.9 441.8 1276.1 438.4 1270.2 435.1 1267.7 430.1 1265.2 424.2 1266 418.4Z"/>
<path d="M1278.6 446.8 1282.7 449.3 1285.2 455.1 1286.9 458.5 1283.6 456.8 1280.2 451.8Z"/>
<path d="M1283.6 466.8 1288.6 464.3 1293.6 461.8 1296.1 457.6 1299.4 460.1 1301.1 466.8 1301.9 473.5 1298.6 478.5 1296.1 476 1292.8 475.2 1291.1 471 1286.9 471 1283.6 472.7Z"/>
<path d="M1291.1 450.1 1294.4 453.5 1296.1 458.5 1292.8 456Z"/>
<path d="M1278.6 501 1286.9 500.2 1298.6 498.9 1294.4 505.2 1285.2 506.9 1281.1 509.4 1291.1 511.1 1285.2 515.2 1281.9 520.2 1285.2 525.2 1287.7 531.1 1283.6 532.8 1281.9 527.7 1280.2 523.6 1277.7 530.3 1277.7 536.1 1274.4 536.9 1273.6 528.6 1275.2 520.2 1276.9 511.9 1277.7 506Z"/>
<path d="M1308.6 496.9 1311.1 496 1313.6 500.2 1314.5 506.9 1312 511.9 1309.4 506.9 1308.3 501.9Z"/>
<path d="M747.5 256 750 248.5 755 243.5 760.9 242.6 761.7 246.8 760 253.5 756.7 257.7 750.9 258.5Z"/>
<path d="M762.5 236 765 229.3 771.7 228.4 770.9 233.5 775.1 234.3 773.4 240.1 777.6 243.5 779.2 250.2 784.2 253.5 785.1 258.5 781.7 261 773.4 262.7 765 264.3 761.7 262.7 767.5 259.3 765 256 769.2 251 765 246.8 766.7 241.8 763.4 239.3Z"/>
<path d="M793.4 215.1 797.6 210.1 804.3 206.7 809.3 200.1 813.5 193.4 818.5 188.4 825.1 185 831 182.5 836.8 182.5 843.5 185 850.2 186.7 856.9 189.2 863.5 192.6 870.2 195.9 874.4 199.2 868.5 200.1 861.9 197.6 856.9 195.9 853.5 195.9 860.2 200.1 866.9 202.6 872.7 205.1" stroke-width="3.2"/>
<path d="M793.4 215.1 793.4 221.8 797.6 228.4 802.6 231 806.8 233.5 808.4 241.8 811 245.1 814.3 243.5 816 240.1 818.5 241.8 822.6 238.5 825.1 233.5 826.8 227.6 831 224.3 828.5 217.6 825.1 213.4 828.5 210.1 831.8 203.7 836 201.4 840.2 204.2 836.8 208.4 834.3 213.4 837.7 219.3 843.5 222.6 850.2 220.9 856.9 218.1 848.5 224.3 843.5 226.4 846.8 231.8 844.3 236 841 238.5 838.5 243.5 833.5 245.1 823.5 246.8 815.1 246.8 810.1 248.5 808.4 243.5 811 240.1 810.1 235.1 807.6 233.5 805.1 236.8 804.3 243.5 805.9 249.3 801.8 251.5 797.6 253.5 795.1 256.8 790.1 260.2 785.1 263.5 779.2 268.5 773.4 266.8 766.7 271 770.1 275.2 774.2 278.5 775.1 285.2 774.2 291.9 765 292.7 753.4 292.7 748.3 296.1 749.2 303.6 747.5 311.9 746.7 318.6 750 324.4 756.7 328.6 760 333.3 770.1 332 774.2 325.3 778.1 316.1 780.9 306.9 783.4 301.9 790.1 296.9 796.8 293.6 806.8 291.9 813.5 291.9 818.5 298.6 824.3 305.2 830.2 311.1 836 316.9 840.2 321.1 841.8 315.3 839.3 311.1 844.3 309.1 839.3 306.9 834.3 301.9 828.5 296.9 823.5 291.9 821.5 286 823.5 283.9 831 289.4 838.5 295.2 845.2 301.9 850.2 307.7 855.2 314.4 857.7 320.3 860.2 326.1 864.4 326.9 863.5 320.3 860.2 316.1 858.9 310.3 860.2 306.9 865.2 305.2 871.9 306.9 872.7 311.1 873.6 315.3 876.1 319.4 880.2 324.4 885.2 326.9"/>
<path d="M858.5 217.6 864.4 216.8 866.9 220.1 863.5 223.4 859.4 221.8Z"/>
<path d="M868.5 212.6 872.7 213.4 875.2 217.6 871.9 219.3 869.4 215.9Z"/>
<path d="M846.8 209.2 851.9 212.6 856.9 215.1"/>
<path d="M847.3 208.4 852.4 211.8 857.4 214.3"/>
<path d="M826 320.3 836 317.8 833.5 324.4Z"/>
<path d="M808.4 305.2 813.5 304.4 814.3 312.8 809.3 314.4Z"/>
<path d="M811 299.4 812.6 296.9 813.5 301.1Z"/>
<path d="M1041.7 381.8 1043.7 378.5 1042.6 371.8 1044.2 367.6 1046.7 365.9"/>
<path d="M1042.4 381.8 1044.4 378.5 1043.2 371.8 1044.9 367.9 1047.1 366.6"/>
<path d="M1123.5 381.8 1126.9 384.3 1131.1 386.8"/>
<path d="M1129.4 376 1131.1 378.5 1130.2 383.5"/>
<path d="M640 161.7 646.7 156.7 656.7 152.5 666.7 150 678.3 148.3 690 147.5 703.3 146.7 713.3 148.3 723.3 146.7 733.3 145.8 743.3 145.3 753.3 145.8 756.7 149.2 765 150 760 153.3 755 156.7 750 161.7 746.7 165.8 743.3 170.8 738.3 174.2 733.3 175 730 178.3 735.8 180 735 183.3 726.7 185.8 720 184.2 723.3 180 730 178.3" stroke-width="3.4"/>
<path d="M726.7 185.8 715 188.3 708.3 191.7 701.7 195 693.3 198.3 686.7 201.7 680 204.2 673.3 209.2 668.3 214.2 665 220 660 222.5" stroke-width="2.6"/>
<path d="M660 222.5 655 220 652.5 213.3 652.5 206.7 655 200 659.2 194.2 665 189.2 670.8 184.2 675 178.3 677.5 171.7 675.8 165.8 670 164.2 665 165 666.7 161.7 660 160 650 162.5 643.3 165 640 165.8" stroke-width="3.6"/>
<path d="M641.7 159.2 653.3 155 666.7 152.5 680 150.8 693.3 149.7 706.7 148.7" stroke-width="3.4"/>
<path d="M665 156.7 673.3 155 683.3 153.3 695 151.7" stroke-width="3.0"/>
<path d="M721.7 202.5 725 199.2 733.3 198.3 743.3 198 747.5 201.7 745 205.8 738.3 208.3 732.5 210 726.7 208.3Z" stroke-width="2.8"/>
<path d="M794.2 155.8 805 153.3 816.7 155 811.7 159.2 807.5 165 800.8 160.8Z" stroke-width="3.0"/>
<path d="M800 156.7 806.7 160 811.7 156.7" stroke-width="2.4"/>
</g>
</g>
<clipPath id="bbox"><rect x="34.30" y="135.30" width="1491.20" height="744.30"/></clipPath>
<ellipse cx="779.9" cy="507.45" rx="745.6" ry="372.15" fill="none" stroke="#000" stroke-width="3.8" clip-path="url(#bbox)"/>
<text x="336.1" y="109.9" font-size="34" textLength="889.2" lengthAdjust="spacingAndGlyphs" fill="#000">Precipitation Ensemble Mean Anomaly February 2024</text>
<text x="29" y="942.95" font-size="34" textLength="244.6" lengthAdjust="spacingAndGlyphs" fill="#000">Anomaly (mm)</text>
<path d="M348.35 911.0L292.5 933.4L348.35 955.8Z" fill="#16220f"/>
<path d="M1395.85 911.0L1451.8 933.4L1395.85 955.8Z" fill="#141d4e"/>
<rect x="346.4" y="911.0" width="105.8" height="44.8" fill="#283712"/>
<rect x="451.5" y="911.0" width="105.8" height="44.8" fill="#5f5e1e"/>
<rect x="556.7" y="911.0" width="105.8" height="44.8" fill="#a87834"/>
<rect x="661.8" y="911.0" width="105.8" height="44.8" fill="#d9a078"/>
<rect x="767" y="911.0" width="105.8" height="44.8" fill="#f1dfd1"/>
<rect x="872.1" y="911.0" width="105.8" height="44.8" fill="#ebe4d2"/>
<rect x="977.3" y="911.0" width="105.8" height="44.8" fill="#a2b99c"/>
<rect x="1082.4" y="911.0" width="105.8" height="44.8" fill="#549284"/>
<rect x="1187.6" y="911.0" width="105.8" height="44.8" fill="#1f6874"/>
<rect x="1292.7" y="911.0" width="105.2" height="44.8" fill="#0b3763"/>
<path d="M346.35 911.0L1397.85 911.0L1451.8 933.4L1397.85 955.8L346.35 955.8L292.5 933.4Z" fill="none" stroke="#000" stroke-width="3.3" stroke-linejoin="miter"/>
<path d="M346.4 955.8V971.2" stroke="#000" stroke-width="3.3" fill="none"/>
<text x="313.6" y="1008" font-size="30" textLength="62.8" lengthAdjust="spacingAndGlyphs" fill="#000">-300</text>
<path d="M451.5 955.8V971.2" stroke="#000" stroke-width="3.3" fill="none"/>
<text x="418.8" y="1008" font-size="30" textLength="62.8" lengthAdjust="spacingAndGlyphs" fill="#000">-240</text>
<path d="M556.7 955.8V971.2" stroke="#000" stroke-width="3.3" fill="none"/>
<text x="523.9" y="1008" font-size="30" textLength="62.8" lengthAdjust="spacingAndGlyphs" fill="#000">-180</text>
<path d="M661.8 955.8V971.2" stroke="#000" stroke-width="3.3" fill="none"/>
<text x="629.1" y="1008" font-size="30" textLength="62.8" lengthAdjust="spacingAndGlyphs" fill="#000">-120</text>
<path d="M767 955.8V971.2" stroke="#000" stroke-width="3.3" fill="none"/>
<text x="743.5" y="1008" font-size="30" textLength="44.3" lengthAdjust="spacingAndGlyphs" fill="#000">-60</text>
<path d="M872.1 955.8V971.2" stroke="#000" stroke-width="3.3" fill="none"/>
<text x="864.8" y="1008" font-size="30" textLength="14.7" lengthAdjust="spacingAndGlyphs" fill="#000">0</text>
<path d="M977.3 955.8V971.2" stroke="#000" stroke-width="3.3" fill="none"/>
<text x="959.7" y="1008" font-size="30" textLength="33.1" lengthAdjust="spacingAndGlyphs" fill="#000">60</text>
<path d="M1082.4 955.8V971.2" stroke="#000" stroke-width="3.3" fill="none"/>
<text x="1057.1" y="1008" font-size="30" textLength="50.5" lengthAdjust="spacingAndGlyphs" fill="#000">120</text>
<path d="M1187.6 955.8V971.2" stroke="#000" stroke-width="3.3" fill="none"/>
<text x="1162.3" y="1008" font-size="30" textLength="50.5" lengthAdjust="spacingAndGlyphs" fill="#000">180</text>
<path d="M1292.7 955.8V971.2" stroke="#000" stroke-width="3.3" fill="none"/>
<text x="1266.9" y="1008" font-size="30" textLength="51.6" lengthAdjust="spacingAndGlyphs" fill="#000">240</text>
<path d="M1397.8 955.8V971.2" stroke="#000" stroke-width="3.3" fill="none"/>
<text x="1372.1" y="1008" font-size="30" textLength="51.5" lengthAdjust="spacingAndGlyphs" fill="#000">300</text>
</svg></body></html>
